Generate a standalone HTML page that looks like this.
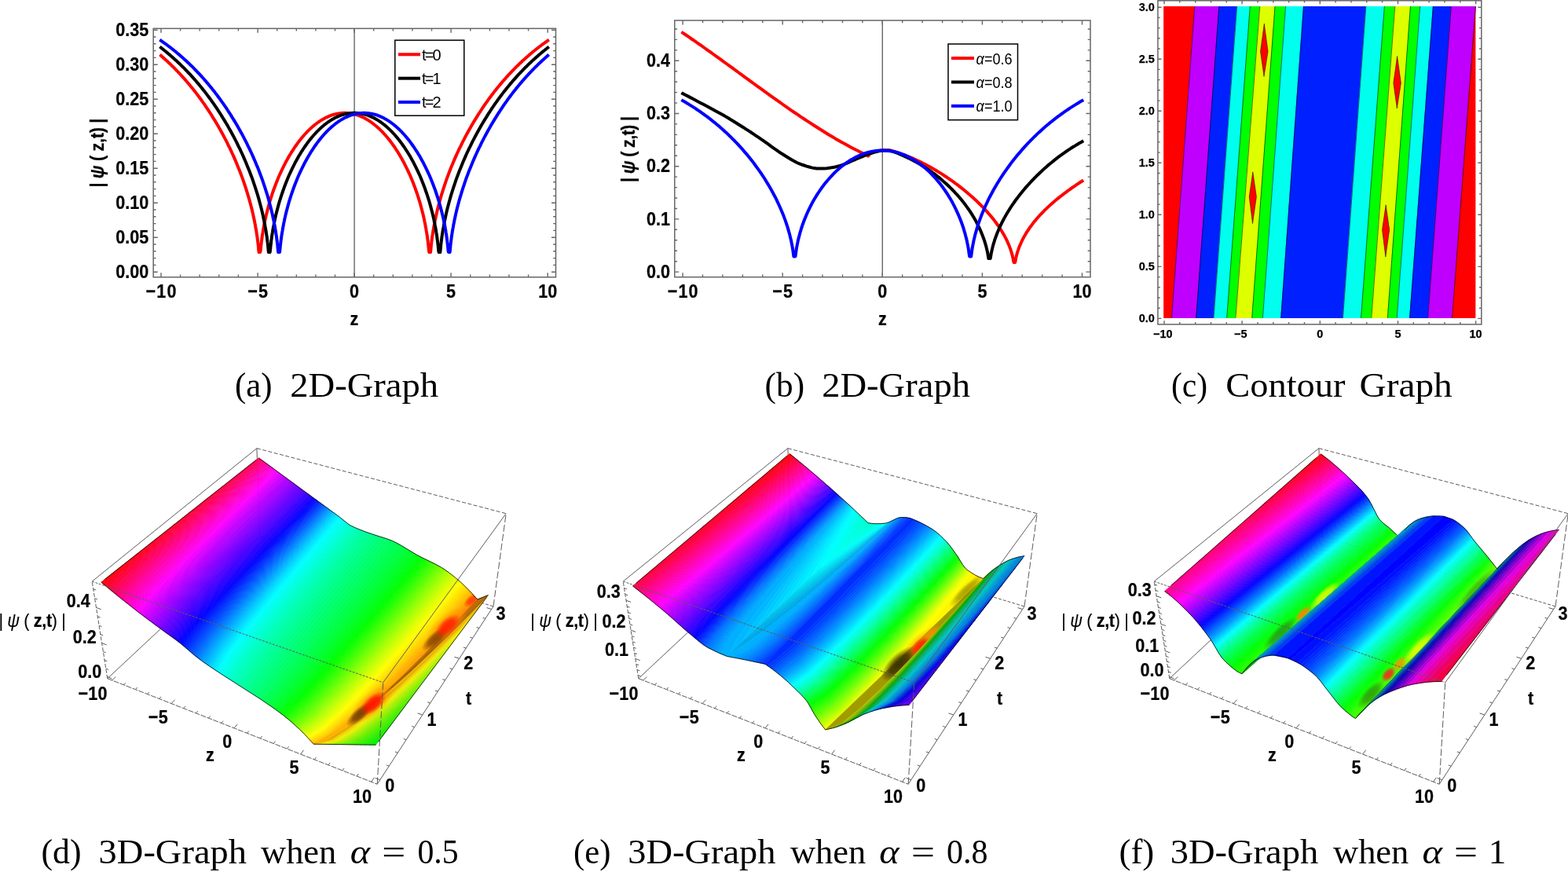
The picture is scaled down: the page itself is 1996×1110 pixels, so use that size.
<!DOCTYPE html>
<html><head><meta charset="utf-8"><title>Figure</title><style>html,body{margin:0;padding:0;background:#fff}svg{display:block}</style></head><body>
<svg width="1996" height="1110" viewBox="0 0 1996 1110">
<style>.e{stroke:#000;stroke-width:.8;fill:none}</style>
<defs><clipPath id="cpd1"><path d="M128.8,741.1L152.4,760.5L175.9,779L199.5,796.7L229.9,819L247,833.6L257.3,841.5L284.5,859.8L332.6,890.6L350.1,902.6L360.6,910.4L371.1,919L381.7,928.8L388.7,935.8L399.3,947.2L408.5,945.3L414.6,942.3L420.1,939.1L430,932.4L443.7,922L460.5,908.2L476.1,894.5L494.5,877.6L515.1,857.9L537.7,835.6L558.8,814.3L607.7,763L597.2,751.5L586.6,741.2L575.8,732.2L565,724.3L554,718L532,707.2L510.4,694.2L499.6,688.6L492.4,685.8L478,681.3L463.7,676.4L453.2,672.2L446.1,668.9L442.7,666.6L432.3,658.2L329.4,582.9L132.9,737.8ZM399.3,947.2L478.5,948.2L621.5,757.6L607.7,763L567.5,805.3L531.4,841.9L498,874.3L468.4,901.3L452.2,915.1L434.7,928.9L420.1,939.1L414.6,942.3L408.5,945.3Z"/></clipPath><radialGradient id="bl0"><stop offset="0" stop-color="#ff8a00" stop-opacity="0.7"/><stop offset=".5" stop-color="#ff8a00" stop-opacity="0.59"/><stop offset="1" stop-color="#ff8a00" stop-opacity="0"/></radialGradient><radialGradient id="bl1"><stop offset="0" stop-color="#5a2a00" stop-opacity="0.8"/><stop offset=".5" stop-color="#5a2a00" stop-opacity="0.68"/><stop offset="1" stop-color="#5a2a00" stop-opacity="0"/></radialGradient><radialGradient id="bl2"><stop offset="0" stop-color="#ff1000" stop-opacity="0.95"/><stop offset=".5" stop-color="#ff1000" stop-opacity="0.81"/><stop offset="1" stop-color="#ff1000" stop-opacity="0"/></radialGradient><radialGradient id="bl3"><stop offset="0" stop-color="#6a3000" stop-opacity="0.75"/><stop offset=".5" stop-color="#6a3000" stop-opacity="0.64"/><stop offset="1" stop-color="#6a3000" stop-opacity="0"/></radialGradient><radialGradient id="bl4"><stop offset="0" stop-color="#ff2000" stop-opacity="0.95"/><stop offset=".5" stop-color="#ff2000" stop-opacity="0.81"/><stop offset="1" stop-color="#ff2000" stop-opacity="0"/></radialGradient><radialGradient id="bl5"><stop offset="0" stop-color="#ff3000" stop-opacity="0.8"/><stop offset=".5" stop-color="#ff3000" stop-opacity="0.68"/><stop offset="1" stop-color="#ff3000" stop-opacity="0"/></radialGradient><clipPath id="cpe2"><path d="M974,845.3L985.5,853.5L998,863.6L1007.7,872.4L1022.3,886.8L1028.2,894.1L1038,911.2L1044.8,921.2L1050.6,928.9L1060.1,927L1065.9,923.8L1075.9,916.8L1093.5,902.3L1113.2,884.1L1135.1,862.7L1161.9,835.2L1189.6,805.6L1220.7,771.4L1251.7,736.5L1246.8,734.7L1240.7,731.6L1232.3,726.2L1228.8,723.3L1225.4,718.8L1218.8,708L1209.7,695.3L1206.3,691.1L1198.1,682.8L1189.9,675.8L1181.5,670.5L1170.8,664.8L1158.8,659.7L1091.3,730L1037.9,784.8L998.9,823.6L987.4,834.6L979.1,841.9Z"/></clipPath><radialGradient id="bl6"><stop offset="0" stop-color="#ff9a00" stop-opacity="0.7"/><stop offset=".5" stop-color="#ff9a00" stop-opacity="0.59"/><stop offset="1" stop-color="#ff9a00" stop-opacity="0"/></radialGradient><radialGradient id="bl7"><stop offset="0" stop-color="#2a2000" stop-opacity="0.85"/><stop offset=".5" stop-color="#2a2000" stop-opacity="0.72"/><stop offset="1" stop-color="#2a2000" stop-opacity="0"/></radialGradient><radialGradient id="bl8"><stop offset="0" stop-color="#ff8a00" stop-opacity="0.8"/><stop offset=".5" stop-color="#ff8a00" stop-opacity="0.68"/><stop offset="1" stop-color="#ff8a00" stop-opacity="0"/></radialGradient><radialGradient id="bl9"><stop offset="0" stop-color="#6a6a00" stop-opacity="0.55"/><stop offset=".5" stop-color="#6a6a00" stop-opacity="0.47"/><stop offset="1" stop-color="#6a6a00" stop-opacity="0"/></radialGradient><clipPath id="cpf0"><path d="M1482.5,752.6L1490.9,759L1500.6,767.6L1514.3,781.1L1523.1,790.8L1530.8,800.2L1539.9,812.3L1552,832.3L1554.6,836.3L1557.2,839.4L1564.5,846.4L1570.5,851.5L1576.4,855.6L1581,857.8L1780.7,683.4L1769.4,672.9L1760.6,665.8L1756.9,662.2L1753.1,656.6L1745.6,641.7L1741.8,635.1L1736.8,628.5L1730.4,621.4L1717.8,608.9L1703.9,596.1L1692.5,586.4L1681.2,577.8L1490.8,745.3Z"/></clipPath><radialGradient id="bl10"><stop offset="0" stop-color="#2a5a2a" stop-opacity="0.55"/><stop offset=".5" stop-color="#2a5a2a" stop-opacity="0.47"/><stop offset="1" stop-color="#2a5a2a" stop-opacity="0"/></radialGradient><radialGradient id="bl11"><stop offset="0" stop-color="#ff8000" stop-opacity="0.9"/><stop offset=".5" stop-color="#ff8000" stop-opacity="0.77"/><stop offset="1" stop-color="#ff8000" stop-opacity="0"/></radialGradient><radialGradient id="bl12"><stop offset="0" stop-color="#f0ff00" stop-opacity="0.85"/><stop offset=".5" stop-color="#f0ff00" stop-opacity="0.72"/><stop offset="1" stop-color="#f0ff00" stop-opacity="0"/></radialGradient><clipPath id="cpf2"><path d="M1639,837.7L1649.7,842.4L1656.1,845.9L1664.8,851.9L1673.6,858.9L1676.9,862.2L1680.2,866.1L1700.3,892L1705.8,898.5L1716.8,908.4L1721.1,911.8L1725.5,914.6L1905.9,724.3L1893.3,708.4L1876.3,688L1868.7,677.6L1865.3,673.4L1857.5,666.6L1851.3,662.3L1846.9,660.1L1837.9,657.3L1647.3,830.2Z"/></clipPath><radialGradient id="bl13"><stop offset="0" stop-color="#2a6a10" stop-opacity="0.6"/><stop offset=".5" stop-color="#2a6a10" stop-opacity="0.51"/><stop offset="1" stop-color="#2a6a10" stop-opacity="0"/></radialGradient><radialGradient id="bl14"><stop offset="0" stop-color="#ff2020" stop-opacity="0.9"/><stop offset=".5" stop-color="#ff2020" stop-opacity="0.77"/><stop offset="1" stop-color="#ff2020" stop-opacity="0"/></radialGradient><radialGradient id="bl15"><stop offset="0" stop-color="#ff9000" stop-opacity="0.85"/><stop offset=".5" stop-color="#ff9000" stop-opacity="0.72"/><stop offset="1" stop-color="#ff9000" stop-opacity="0"/></radialGradient><radialGradient id="bl16"><stop offset="0" stop-color="#1a7a10" stop-opacity="0.5"/><stop offset=".5" stop-color="#1a7a10" stop-opacity="0.42"/><stop offset="1" stop-color="#1a7a10" stop-opacity="0"/></radialGradient></defs>
<rect width="1996" height="1110" fill="#fff"/>
<rect x="195.2" y="36.3" width="512.3" height="316.5" fill="#fff"/>
<path d="M451.1,36.3V352.8" stroke="#666" stroke-width="1.4"/>
<path d="M205,70.9L206.5,72.3L208.1,73.6L209.6,75L211.2,76.4L212.7,77.8L214.2,79.2L215.8,80.7L217.3,82.2L218.8,83.7L220.4,85.2L221.9,86.7L223.5,88.3L225,89.9L226.5,91.5L228.1,93.1L229.6,94.7L231.1,96.4L232.7,98.1L234.2,99.8L235.8,101.6L237.3,103.3L238.8,105.1L240.4,106.9L241.9,108.8L243.5,110.7L245,112.6L246.5,114.5L248.1,116.4L249.6,118.4L251.1,120.4L252.7,122.5L254.2,124.5L255.8,126.6L257.3,128.8L258.8,130.9L260.4,133.2L261.9,135.4L263.4,137.7L265,140L266.5,142.3L268.1,144.7L269.6,147.1L271.1,149.6L272.7,152.1L274.2,154.6L275.8,157.2L277.3,159.8L278.8,162.5L280.4,165.2L281.9,168L283.4,170.8L285,173.7L286.5,176.6L288.1,179.6L289.6,182.6L291.1,185.8L292.7,188.9L294.2,192.2L295.7,195.5L297.3,198.9L298.8,202.4L300.4,206L301.9,209.7L303.4,213.4L305,217.3L306.5,221.3L308.1,225.4L309.6,229.7L311.1,234.1L312.7,238.8L314.2,243.6L315.7,248.6L317.3,253.9L318.8,259.5L320.4,265.5L321.9,271.9L323.1,277.5L323.4,279L323.5,279.2L323.9,281.1L324.2,282.9L324.6,284.8L325,286.8L325.3,288.8L325.7,290.9L326.1,293.1L326.5,295.4L326.5,295.8L326.8,297.8L327.2,300.3L327.6,302.9L327.9,305.8L328.1,306.7L328.3,308.8L328.7,312.1L329,315.7L329.4,319.8L329.6,321.1L329.8,321.1L330.1,321.1L330.5,321.1L330.9,321.1L331.1,321.1L331.2,321.1L331.6,319.6L332,315.5L332.4,311.9L332.7,309.2L332.7,308.7L333.1,305.7L333.5,302.9L333.8,300.3L334.2,297.9L334.6,295.5L334.9,293.3L335.3,291.2L335.7,289.1L335.7,288.8L336,287.1L336.4,285.2L336.8,283.4L337.2,281.6L337.3,281L337.5,279.8L337.9,278.1L338.8,274.1L340.4,267.8L341.9,262.1L343.4,256.7L345,251.7L346.5,247L348,242.5L349.6,238.2L351.1,234.2L352.7,230.3L354.2,226.6L355.7,223L357.3,219.6L358.8,216.3L360.4,213.1L361.9,210.1L363.4,207.1L365,204.3L366.5,201.5L368,198.8L369.6,196.2L371.1,193.7L372.7,191.3L374.2,189L375.7,186.7L377.3,184.5L378.8,182.4L380.3,180.3L381.9,178.3L383.4,176.4L385,174.5L386.5,172.7L388,171L389.6,169.3L391.1,167.7L392.7,166.1L394.2,164.6L395.7,163.2L397.3,161.8L398.8,160.5L400.3,159.2L401.9,158L403.4,156.8L405,155.7L406.5,154.6L408,153.6L409.6,152.6L411.1,151.7L412.6,150.9L414.2,150L415.7,149.3L417.3,148.6L418.8,147.9L420.3,147.3L421.9,146.7L423.4,146.2L425,145.8L426.5,145.4L428,145L429.6,144.7L431.1,144.4L432.6,144.2L434.2,144L435.7,143.9L437.3,143.8L438.8,143.8L440.3,143.8L441.9,143.9L443.4,144L444.9,144.2L446.5,144.4L448,144.7L449.6,145L451.1,145.4L452.6,145.8L454.2,146.2L455.7,146.7L457.3,147.3L458.8,147.9L460.3,148.6L461.9,149.3L463.4,150L464.9,150.9L466.5,151.7L468,152.6L469.6,153.6L471.1,154.6L472.6,155.7L474.2,156.8L475.7,158L477.2,159.2L478.8,160.5L480.3,161.8L481.9,163.2L483.4,164.6L484.9,166.1L486.5,167.7L488,169.3L489.6,171L491.1,172.7L492.6,174.5L494.2,176.4L495.7,178.3L497.2,180.3L498.8,182.4L500.3,184.5L501.9,186.7L503.4,189L504.9,191.3L506.5,193.7L508,196.2L509.5,198.8L511.1,201.5L512.6,204.3L514.2,207.1L515.7,210.1L517.2,213.1L518.8,216.3L520.3,219.6L521.9,223L523.4,226.6L524.9,230.3L526.5,234.2L528,238.2L529.5,242.5L531.1,247L532.6,251.7L534.2,256.7L535.7,262.1L537.2,267.8L538.8,274.1L539.7,278.1L540.1,279.8L540.3,281L540.4,281.6L540.8,283.4L541.2,285.2L541.5,287.1L541.8,288.8L541.9,289.1L542.3,291.2L542.6,293.3L543,295.5L543.4,297.9L543.4,297.9L543.8,300.3L544.1,302.9L544.5,305.7L544.9,308.7L544.9,309.2L545.2,311.9L545.6,315.5L546,319.6L546.3,321.1L546.5,321.1L546.7,321.1L547.1,321.1L547.4,321.1L547.8,321.1L548,321.1L548.2,319.8L548.6,315.7L548.9,312.1L549.3,308.8L549.5,306.7L549.7,305.8L550,302.9L550.4,300.3L550.8,297.8L551.1,295.8L551.1,295.4L551.5,293.1L551.9,290.9L552.2,288.8L552.6,286.8L553,284.8L553.4,282.9L553.7,281.1L554.1,279.2L554.2,279L554.5,277.5L555.7,271.9L557.2,265.5L558.8,259.5L560.3,253.9L561.8,248.6L563.4,243.6L564.9,238.8L566.5,234.1L568,229.7L569.5,225.4L571.1,221.3L572.6,217.3L574.1,213.4L575.7,209.7L577.2,206L578.8,202.4L580.3,198.9L581.8,195.5L583.4,192.2L584.9,188.9L586.5,185.8L588,182.6L589.5,179.6L591.1,176.6L592.6,173.7L594.1,170.8L595.7,168L597.2,165.2L598.8,162.5L600.3,159.8L601.8,157.2L603.4,154.6L604.9,152.1L606.5,149.6L608,147.1L609.5,144.7L611.1,142.3L612.6,140L614.1,137.7L615.7,135.4L617.2,133.2L618.8,130.9L620.3,128.8L621.8,126.6L623.4,124.5L624.9,122.5L626.4,120.4L628,118.4L629.5,116.4L631.1,114.5L632.6,112.6L634.1,110.7L635.7,108.8L637.2,106.9L638.8,105.1L640.3,103.3L641.8,101.6L643.4,99.8L644.9,98.1L646.4,96.4L648,94.7L649.5,93.1L651.1,91.5L652.6,89.9L654.1,88.3L655.7,86.7L657.2,85.2L658.7,83.7L660.3,82.2L661.8,80.7L663.4,79.2L664.9,77.8L666.4,76.4L668,75L669.5,73.6L671.1,72.3L672.6,70.9L674.1,69.6L675.7,68.3L677.2,67L678.7,65.7L680.3,64.5L681.8,63.3L683.4,62L684.9,60.8L686.4,59.7L688,58.5L689.5,57.3L691,56.2L692.6,55.1L694.1,54L695.7,52.9L697.2,51.8" stroke="#f00" stroke-width="4" fill="none" stroke-linejoin="round" stroke-linecap="square"/>
<path d="M205,60.8L206.5,62L208.1,63.3L209.6,64.5L211.2,65.7L212.7,67L214.2,68.3L215.8,69.6L217.3,70.9L218.8,72.3L220.4,73.6L221.9,75L223.5,76.4L225,77.8L226.5,79.2L228.1,80.7L229.6,82.2L231.1,83.7L232.7,85.2L234.2,86.7L235.8,88.3L237.3,89.9L238.8,91.5L240.4,93.1L241.9,94.7L243.5,96.4L245,98.1L246.5,99.8L248.1,101.6L249.6,103.3L251.1,105.1L252.7,106.9L254.2,108.8L255.8,110.7L257.3,112.6L258.8,114.5L260.4,116.4L261.9,118.4L263.4,120.4L265,122.5L266.5,124.5L268.1,126.6L269.6,128.8L271.1,130.9L272.7,133.2L274.2,135.4L275.8,137.7L277.3,140L278.8,142.3L280.4,144.7L281.9,147.1L283.4,149.6L285,152.1L286.5,154.6L288.1,157.2L289.6,159.8L291.1,162.5L292.7,165.2L294.2,168L295.7,170.8L297.3,173.7L298.8,176.6L300.4,179.6L301.9,182.6L303.4,185.8L305,188.9L306.5,192.2L308.1,195.5L309.6,198.9L311.1,202.4L312.7,206L314.2,209.7L315.7,213.4L317.3,217.3L318.8,221.3L320.4,225.4L321.9,229.7L323.4,234.1L325,238.8L326.5,243.6L328.1,248.6L329.6,253.9L331.1,259.5L332.7,265.5L334.2,271.9L335.4,277.5L335.7,279L335.8,279.2L336.2,281.1L336.5,282.9L336.9,284.8L337.3,286.8L337.6,288.8L338,290.9L338.4,293.1L338.8,295.4L338.8,295.8L339.1,297.8L339.5,300.3L339.9,302.9L340.2,305.8L340.4,306.7L340.6,308.8L341,312.1L341.3,315.7L341.7,319.8L341.9,321.1L342.1,321.1L342.4,321.1L342.8,321.1L343.2,321.1L343.4,321.1L343.6,321.1L343.9,319.6L344.3,315.5L344.7,311.9L345,309.2L345,308.7L345.4,305.7L345.8,302.9L346.1,300.3L346.5,297.9L346.9,295.5L347.2,293.3L347.6,291.2L348,289.1L348,288.8L348.4,287.1L348.7,285.2L349.1,283.4L349.5,281.6L349.6,281L349.8,279.8L350.2,278.1L351.1,274.1L352.7,267.8L354.2,262.1L355.7,256.7L357.3,251.7L358.8,247L360.4,242.5L361.9,238.2L363.4,234.2L365,230.3L366.5,226.6L368,223L369.6,219.6L371.1,216.3L372.7,213.1L374.2,210.1L375.7,207.1L377.3,204.3L378.8,201.5L380.3,198.8L381.9,196.2L383.4,193.7L385,191.3L386.5,189L388,186.7L389.6,184.5L391.1,182.4L392.7,180.3L394.2,178.3L395.7,176.4L397.3,174.5L398.8,172.7L400.3,171L401.9,169.3L403.4,167.7L405,166.1L406.5,164.6L408,163.2L409.6,161.8L411.1,160.5L412.6,159.2L414.2,158L415.7,156.8L417.3,155.7L418.8,154.6L420.3,153.6L421.9,152.6L423.4,151.7L425,150.9L426.5,150L428,149.3L429.6,148.6L431.1,147.9L432.6,147.3L434.2,146.7L435.7,146.2L437.3,145.8L438.8,145.4L440.3,145L441.9,144.7L443.4,144.4L444.9,144.2L446.5,144L448,143.9L449.6,143.8L451.1,143.8L452.6,143.8L454.2,143.9L455.7,144L457.3,144.2L458.8,144.4L460.3,144.7L461.9,145L463.4,145.4L464.9,145.8L466.5,146.2L468,146.7L469.6,147.3L471.1,147.9L472.6,148.6L474.2,149.3L475.7,150L477.2,150.9L478.8,151.7L480.3,152.6L481.9,153.6L483.4,154.6L484.9,155.7L486.5,156.8L488,158L489.6,159.2L491.1,160.5L492.6,161.8L494.2,163.2L495.7,164.6L497.2,166.1L498.8,167.7L500.3,169.3L501.9,171L503.4,172.7L504.9,174.5L506.5,176.4L508,178.3L509.5,180.3L511.1,182.4L512.6,184.5L514.2,186.7L515.7,189L517.2,191.3L518.8,193.7L520.3,196.2L521.9,198.8L523.4,201.5L524.9,204.3L526.5,207.1L528,210.1L529.5,213.1L531.1,216.3L532.6,219.6L534.2,223L535.7,226.6L537.2,230.3L538.8,234.2L540.3,238.2L541.8,242.5L543.4,247L544.9,251.7L546.5,256.7L548,262.1L549.5,267.8L551.1,274.1L552,278.1L552.4,279.8L552.6,281L552.7,281.6L553.1,283.4L553.5,285.2L553.8,287.1L554.2,288.8L554.2,289.1L554.6,291.2L555,293.3L555.3,295.5L555.7,297.9L556.1,300.3L556.4,302.9L556.8,305.7L557.2,308.7L557.2,309.2L557.5,311.9L557.9,315.5L558.3,319.6L558.6,321.1L558.8,321.1L559,321.1L559.4,321.1L559.8,321.1L560.1,321.1L560.3,321.1L560.5,319.8L560.9,315.7L561.2,312.1L561.6,308.8L561.8,306.7L562,305.8L562.3,302.9L562.7,300.3L563.1,297.8L563.4,295.8L563.4,295.4L563.8,293.1L564.2,290.9L564.6,288.8L564.9,286.8L565.3,284.8L565.7,282.9L566,281.1L566.4,279.2L566.5,279L566.8,277.5L568,271.9L569.5,265.5L571.1,259.5L572.6,253.9L574.1,248.6L575.7,243.6L577.2,238.8L578.8,234.1L580.3,229.7L581.8,225.4L583.4,221.3L584.9,217.3L586.5,213.4L588,209.7L589.5,206L591.1,202.4L592.6,198.9L594.1,195.5L595.7,192.2L597.2,188.9L598.8,185.8L600.3,182.6L601.8,179.6L603.4,176.6L604.9,173.7L606.5,170.8L608,168L609.5,165.2L611.1,162.5L612.6,159.8L614.1,157.2L615.7,154.6L617.2,152.1L618.8,149.6L620.3,147.1L621.8,144.7L623.4,142.3L624.9,140L626.4,137.7L628,135.4L629.5,133.2L631.1,130.9L632.6,128.8L634.1,126.6L635.7,124.5L637.2,122.5L638.8,120.4L640.3,118.4L641.8,116.4L643.4,114.5L644.9,112.6L646.4,110.7L648,108.8L649.5,106.9L651.1,105.1L652.6,103.3L654.1,101.6L655.7,99.8L657.2,98.1L658.7,96.4L660.3,94.7L661.8,93.1L663.4,91.5L664.9,89.9L666.4,88.3L668,86.7L669.5,85.2L671.1,83.7L672.6,82.2L674.1,80.7L675.7,79.2L677.2,77.8L678.7,76.4L680.3,75L681.8,73.6L683.4,72.3L684.9,70.9L686.4,69.6L688,68.3L689.5,67L691,65.7L692.6,64.5L694.1,63.3L695.7,62L697.2,60.8" stroke="#000" stroke-width="4" fill="none" stroke-linejoin="round" stroke-linecap="square"/>
<path d="M205,51.8L206.5,52.9L208.1,54L209.6,55.1L211.2,56.2L212.7,57.3L214.2,58.5L215.8,59.7L217.3,60.8L218.8,62L220.4,63.3L221.9,64.5L223.5,65.7L225,67L226.5,68.3L228.1,69.6L229.6,70.9L231.1,72.3L232.7,73.6L234.2,75L235.8,76.4L237.3,77.8L238.8,79.2L240.4,80.7L241.9,82.2L243.5,83.7L245,85.2L246.5,86.7L248.1,88.3L249.6,89.9L251.1,91.5L252.7,93.1L254.2,94.7L255.8,96.4L257.3,98.1L258.8,99.8L260.4,101.6L261.9,103.3L263.4,105.1L265,106.9L266.5,108.8L268.1,110.7L269.6,112.6L271.1,114.5L272.7,116.4L274.2,118.4L275.8,120.4L277.3,122.5L278.8,124.5L280.4,126.6L281.9,128.8L283.4,130.9L285,133.2L286.5,135.4L288.1,137.7L289.6,140L291.1,142.3L292.7,144.7L294.2,147.1L295.7,149.6L297.3,152.1L298.8,154.6L300.4,157.2L301.9,159.8L303.4,162.5L305,165.2L306.5,168L308.1,170.8L309.6,173.7L311.1,176.6L312.7,179.6L314.2,182.6L315.7,185.8L317.3,188.9L318.8,192.2L320.4,195.5L321.9,198.9L323.4,202.4L325,206L326.5,209.7L328.1,213.4L329.6,217.3L331.1,221.3L332.7,225.4L334.2,229.7L335.7,234.1L337.3,238.8L338.8,243.6L340.4,248.6L341.9,253.9L343.4,259.5L345,265.5L346.5,271.9L347.7,277.5L348,279L348.1,279.2L348.5,281.1L348.8,282.9L349.2,284.8L349.6,286.8L350,288.8L350.3,290.9L350.7,293.1L351.1,295.4L351.1,295.8L351.4,297.8L351.8,300.3L352.2,302.9L352.5,305.8L352.7,306.7L352.9,308.8L353.3,312.1L353.6,315.7L354,319.8L354.2,321.1L354.4,321.1L354.8,321.1L355.1,321.1L355.5,321.1L355.7,321.1L355.9,321.1L356.2,319.6L356.6,315.5L357,311.9L357.3,309.2L357.3,308.7L357.7,305.7L358.1,302.9L358.4,300.3L358.8,297.9L358.8,297.9L359.2,295.5L359.6,293.3L359.9,291.2L360.3,289.1L360.4,288.8L360.7,287.1L361,285.2L361.4,283.4L361.8,281.6L361.9,281L362.1,279.8L362.5,278.1L363.4,274.1L365,267.8L366.5,262.1L368,256.7L369.6,251.7L371.1,247L372.7,242.5L374.2,238.2L375.7,234.2L377.3,230.3L378.8,226.6L380.3,223L381.9,219.6L383.4,216.3L385,213.1L386.5,210.1L388,207.1L389.6,204.3L391.1,201.5L392.7,198.8L394.2,196.2L395.7,193.7L397.3,191.3L398.8,189L400.3,186.7L401.9,184.5L403.4,182.4L405,180.3L406.5,178.3L408,176.4L409.6,174.5L411.1,172.7L412.6,171L414.2,169.3L415.7,167.7L417.3,166.1L418.8,164.6L420.3,163.2L421.9,161.8L423.4,160.5L425,159.2L426.5,158L428,156.8L429.6,155.7L431.1,154.6L432.6,153.6L434.2,152.6L435.7,151.7L437.3,150.9L438.8,150L440.3,149.3L441.9,148.6L443.4,147.9L444.9,147.3L446.5,146.7L448,146.2L449.6,145.8L451.1,145.4L452.6,145L454.2,144.7L455.7,144.4L457.3,144.2L458.8,144L460.3,143.9L461.9,143.8L463.4,143.8L464.9,143.8L466.5,143.9L468,144L469.6,144.2L471.1,144.4L472.6,144.7L474.2,145L475.7,145.4L477.2,145.8L478.8,146.2L480.3,146.7L481.9,147.3L483.4,147.9L484.9,148.6L486.5,149.3L488,150L489.6,150.9L491.1,151.7L492.6,152.6L494.2,153.6L495.7,154.6L497.2,155.7L498.8,156.8L500.3,158L501.9,159.2L503.4,160.5L504.9,161.8L506.5,163.2L508,164.6L509.5,166.1L511.1,167.7L512.6,169.3L514.2,171L515.7,172.7L517.2,174.5L518.8,176.4L520.3,178.3L521.9,180.3L523.4,182.4L524.9,184.5L526.5,186.7L528,189L529.5,191.3L531.1,193.7L532.6,196.2L534.2,198.8L535.7,201.5L537.2,204.3L538.8,207.1L540.3,210.1L541.8,213.1L543.4,216.3L544.9,219.6L546.5,223L548,226.6L549.5,230.3L551.1,234.2L552.6,238.2L554.2,242.5L555.7,247L557.2,251.7L558.8,256.7L560.3,262.1L561.8,267.8L563.4,274.1L564.3,278.1L564.7,279.8L564.9,281L565,281.6L565.4,283.4L565.8,285.2L566.2,287.1L566.5,288.8L566.5,289.1L566.9,291.2L567.3,293.3L567.6,295.5L568,297.9L568.4,300.3L568.7,302.9L569.1,305.7L569.5,308.7L569.5,309.2L569.8,311.9L570.2,315.5L570.6,319.6L571,321.1L571.1,321.1L571.3,321.1L571.7,321.1L572.1,321.1L572.4,321.1L572.6,321.1L572.8,319.8L573.2,315.7L573.5,312.1L573.9,308.8L574.1,306.7L574.3,305.8L574.6,302.9L575,300.3L575.4,297.8L575.7,295.8L575.7,295.4L576.1,293.1L576.5,290.9L576.9,288.8L577.2,286.8L577.6,284.8L578,282.9L578.3,281.1L578.7,279.2L578.8,279L579.1,277.5L580.3,271.9L581.8,265.5L583.4,259.5L584.9,253.9L586.5,248.6L588,243.6L589.5,238.8L591.1,234.1L592.6,229.7L594.1,225.4L595.7,221.3L597.2,217.3L598.8,213.4L600.3,209.7L601.8,206L603.4,202.4L604.9,198.9L606.5,195.5L608,192.2L609.5,188.9L611.1,185.8L612.6,182.6L614.1,179.6L615.7,176.6L617.2,173.7L618.8,170.8L620.3,168L621.8,165.2L623.4,162.5L624.9,159.8L626.4,157.2L628,154.6L629.5,152.1L631.1,149.6L632.6,147.1L634.1,144.7L635.7,142.3L637.2,140L638.8,137.7L640.3,135.4L641.8,133.2L643.4,130.9L644.9,128.8L646.4,126.6L648,124.5L649.5,122.5L651.1,120.4L652.6,118.4L654.1,116.4L655.7,114.5L657.2,112.6L658.7,110.7L660.3,108.8L661.8,106.9L663.4,105.1L664.9,103.3L666.4,101.6L668,99.8L669.5,98.1L671.1,96.4L672.6,94.7L674.1,93.1L675.7,91.5L677.2,89.9L678.7,88.3L680.3,86.7L681.8,85.2L683.4,83.7L684.9,82.2L686.4,80.7L688,79.2L689.5,77.8L691,76.4L692.6,75L694.1,73.6L695.7,72.3L697.2,70.9" stroke="#00f" stroke-width="4" fill="none" stroke-linejoin="round" stroke-linecap="square"/>
<path d="M205,352.8v-5.5M205,36.3v5.5M328.1,352.8v-5.5M328.1,36.3v5.5M451.1,352.8v-5.5M451.1,36.3v5.5M574.1,352.8v-5.5M574.1,36.3v5.5M697.2,352.8v-5.5M697.2,36.3v5.5M229.6,352.8v-3.3M229.6,36.3v3.3M254.2,352.8v-3.3M254.2,36.3v3.3M278.8,352.8v-3.3M278.8,36.3v3.3M303.4,352.8v-3.3M303.4,36.3v3.3M352.7,352.8v-3.3M352.7,36.3v3.3M377.3,352.8v-3.3M377.3,36.3v3.3M401.9,352.8v-3.3M401.9,36.3v3.3M426.5,352.8v-3.3M426.5,36.3v3.3M475.7,352.8v-3.3M475.7,36.3v3.3M500.3,352.8v-3.3M500.3,36.3v3.3M524.9,352.8v-3.3M524.9,36.3v3.3M549.5,352.8v-3.3M549.5,36.3v3.3M598.8,352.8v-3.3M598.8,36.3v3.3M623.4,352.8v-3.3M623.4,36.3v3.3M648,352.8v-3.3M648,36.3v3.3M672.6,352.8v-3.3M672.6,36.3v3.3M195.2,346.2h5.5M707.5,346.2h-5.5M195.2,302.2h5.5M707.5,302.2h-5.5M195.2,258.2h5.5M707.5,258.2h-5.5M195.2,214.2h5.5M707.5,214.2h-5.5M195.2,170.2h5.5M707.5,170.2h-5.5M195.2,126.2h5.5M707.5,126.2h-5.5M195.2,82.2h5.5M707.5,82.2h-5.5M195.2,38.2h5.5M707.5,38.2h-5.5M195.2,337.4h3.3M707.5,337.4h-3.3M195.2,328.6h3.3M707.5,328.6h-3.3M195.2,319.8h3.3M707.5,319.8h-3.3M195.2,311h3.3M707.5,311h-3.3M195.2,293.4h3.3M707.5,293.4h-3.3M195.2,284.6h3.3M707.5,284.6h-3.3M195.2,275.8h3.3M707.5,275.8h-3.3M195.2,267h3.3M707.5,267h-3.3M195.2,249.4h3.3M707.5,249.4h-3.3M195.2,240.6h3.3M707.5,240.6h-3.3M195.2,231.8h3.3M707.5,231.8h-3.3M195.2,223h3.3M707.5,223h-3.3M195.2,205.4h3.3M707.5,205.4h-3.3M195.2,196.6h3.3M707.5,196.6h-3.3M195.2,187.8h3.3M707.5,187.8h-3.3M195.2,179h3.3M707.5,179h-3.3M195.2,161.4h3.3M707.5,161.4h-3.3M195.2,152.6h3.3M707.5,152.6h-3.3M195.2,143.8h3.3M707.5,143.8h-3.3M195.2,135h3.3M707.5,135h-3.3M195.2,117.4h3.3M707.5,117.4h-3.3M195.2,108.6h3.3M707.5,108.6h-3.3M195.2,99.8h3.3M707.5,99.8h-3.3M195.2,91h3.3M707.5,91h-3.3M195.2,73.4h3.3M707.5,73.4h-3.3M195.2,64.6h3.3M707.5,64.6h-3.3M195.2,55.8h3.3M707.5,55.8h-3.3M195.2,47h3.3M707.5,47h-3.3" stroke="#666" stroke-width="1.4" fill="none"/>
<rect x="195.2" y="36.3" width="512.3" height="316.5" fill="none" stroke="#666" stroke-width="1.5"/>
<g font-family="Liberation Sans,sans-serif" font-weight="bold" font-size="24.7" stroke="#000" stroke-width="0.25"><text transform="translate(185.6,378.6) scale(0.876,1)" textLength="44.3" lengthAdjust="spacing">−10</text><text transform="translate(315.2,378.6) scale(0.876,1)" textLength="29.5" lengthAdjust="spacing">−5</text><text transform="translate(451.1,378.6) scale(0.876,1)" text-anchor="middle">0</text><text transform="translate(574.1,378.6) scale(0.876,1)" text-anchor="middle">5</text><text transform="translate(697.2,378.6) scale(0.876,1)" text-anchor="middle">10</text><text transform="translate(189.4,353.6) scale(0.876,1)" text-anchor="end">0.00</text><text transform="translate(189.4,309.6) scale(0.876,1)" text-anchor="end">0.05</text><text transform="translate(189.4,265.6) scale(0.876,1)" text-anchor="end">0.10</text><text transform="translate(189.4,221.6) scale(0.876,1)" text-anchor="end">0.15</text><text transform="translate(189.4,177.6) scale(0.876,1)" text-anchor="end">0.20</text><text transform="translate(189.4,133.6) scale(0.876,1)" text-anchor="end">0.25</text><text transform="translate(189.4,89.6) scale(0.876,1)" text-anchor="end">0.30</text><text transform="translate(189.4,45.6) scale(0.876,1)" text-anchor="end">0.35</text><text transform="translate(451,414) scale(0.876,1)" text-anchor="middle">z</text><text transform="translate(131.8,194.6) rotate(-90) scale(0.876,1)" text-anchor="middle" textLength="100.5" lengthAdjust="spacing" xml:space="preserve">| <tspan font-style="italic">ψ</tspan> ( z,t) |</text></g>
<rect x="502.8" y="51.2" width="88" height="96" fill="#fff" stroke="#000" stroke-width="1.5"/>
<path d="M507,69.3h28" stroke="#f00" stroke-width="4"/>
<path d="M507,99.7h28" stroke="#000" stroke-width="4"/>
<path d="M507,130h28" stroke="#00f" stroke-width="4"/>
<g font-family="Liberation Sans,sans-serif" font-size="20"><text x="537" y="76.5" textLength="24.6" lengthAdjust="spacing">t=0</text><text x="537" y="106.9" textLength="24.6" lengthAdjust="spacing">t=1</text><text x="537" y="137.2" textLength="24.6" lengthAdjust="spacing">t=2</text></g>
<path d="M1123.3,26.0V352.7" stroke="#666" stroke-width="1.4"/>
<path d="M869.1,41.8L873.1,44.5L877,47.2L881,50L885,52.7L888.9,55.5L892.9,58.2L896.8,61L900.8,63.9L904.8,66.7L908.7,69.5L912.7,72.4L916.7,75.2L920.6,78.1L924.6,81L928.6,83.8L932.5,86.7L936.5,89.6L940.4,92.5L944.4,95.4L948.4,98.3L952.3,101.2L956.3,104.1L960.3,107L964.2,109.8L968.2,112.7L972.2,115.6L976.1,118.4L980.1,121.3L984.1,124.1L988,126.9L992,129.7L995.9,132.5L999.9,135.3L1003.9,138.1L1007.8,140.8L1011.8,143.5L1015.8,146.2L1019.7,148.9L1023.7,151.5L1027.7,154.1L1031.6,156.7L1035.6,159.3L1039.5,161.8L1043.5,164.3L1047.5,166.8L1051.4,169.2L1055.4,171.7L1059.4,174L1063.3,176.4L1067.3,178.7L1071.3,180.9L1075.2,183.1L1079.2,185.3L1083.1,187.4L1087.1,189.5L1091.1,191.5L1095,193.5L1099,195.5L1103,197.4L1105,198.6L1108,195.2L1113.1,193.2L1118.2,191.9L1123.3,191.5L1124.9,191.5L1126.5,191.5L1128.1,191.5L1129.7,191.5L1131.2,191.5L1132.8,191.5L1134.4,191.8L1136,192.3L1137.6,192.7L1139.2,193.2L1140.8,193.7L1142.4,194.2L1144,194.7L1145.5,195.3L1147.1,195.8L1148.7,196.4L1150.3,197L1151.9,197.5L1153.5,198.2L1155.1,198.8L1156.7,199.4L1158.3,200.1L1159.8,200.7L1161.4,201.4L1163,202.1L1164.6,202.8L1166.2,203.6L1167.8,204.3L1169.4,205L1171,205.8L1172.6,206.6L1174.1,207.4L1175.7,208.2L1177.3,209L1178.9,209.8L1180.5,210.7L1182.1,211.5L1183.7,212.4L1185.3,213.3L1186.8,214.2L1188.4,215.1L1190,216.1L1191.6,217L1193.2,218L1194.8,218.9L1196.4,219.9L1198,220.9L1199.6,221.9L1201.1,222.9L1202.7,224L1204.3,225L1205.9,226.1L1207.5,227.2L1209.1,228.3L1210.7,229.4L1212.3,230.5L1213.9,231.7L1215.4,232.8L1217,234L1218.6,235.2L1220.2,236.4L1221.8,237.6L1223.4,238.9L1225,240.1L1226.6,241.4L1228.2,242.7L1229.7,244L1231.3,245.3L1232.9,246.7L1234.5,248L1236.1,249.4L1237.7,250.8L1239.3,252.3L1240.9,253.7L1242.5,255.2L1244,256.7L1245.6,258.3L1247.2,259.8L1248.8,261.4L1250.4,263L1252,264.7L1253.6,266.4L1255.2,268.1L1256.8,269.9L1258.3,271.7L1259.9,273.5L1261.5,275.4L1263.1,277.3L1264.7,279.3L1266.3,281.4L1267.9,283.5L1269.5,285.7L1271.1,287.9L1272.6,290.3L1274.2,292.7L1275.8,295.3L1277.4,298L1279,300.9L1280.6,303.9L1282.2,307.2L1283.7,310.6L1283.8,310.7L1284.1,311.5L1284.5,312.4L1284.8,313.4L1285.2,314.3L1285.4,314.7L1285.6,315.4L1286,316.4L1286.4,317.5L1286.8,318.6L1286.9,319.2L1287.1,319.8L1287.5,321L1287.9,322.3L1288.3,323.7L1288.5,324.6L1288.7,325.1L1289,326.7L1289.4,328.4L1289.8,330.2L1290.1,332L1290.2,332.4L1290.6,334L1290.9,334L1291.3,334L1291.7,334L1292.1,334L1292.5,332.4L1292.9,330.3L1293.2,328.4L1293.3,328.1L1293.6,326.7L1294,325.2L1294.4,323.7L1294.8,322.4L1294.9,321.9L1295.1,321.1L1295.5,319.9L1295.9,318.7L1296.3,317.6L1296.5,317L1296.7,316.5L1297,315.5L1297.4,314.5L1297.8,313.5L1298.1,312.9L1298.2,312.6L1298.6,311.7L1299,310.8L1299.7,309.2L1301.2,305.9L1302.8,302.8L1304.4,299.9L1306,297.2L1307.6,294.7L1309.2,292.3L1310.8,289.9L1312.4,287.7L1314,285.6L1315.5,283.6L1317.1,281.6L1318.7,279.7L1320.3,277.8L1321.9,276L1323.5,274.2L1325.1,272.5L1326.7,270.9L1328.2,269.3L1329.8,267.7L1331.4,266.1L1333,264.6L1334.6,263.1L1336.2,261.6L1337.8,260.2L1339.4,258.8L1341,257.4L1342.5,256.1L1344.1,254.7L1345.7,253.4L1347.3,252.1L1348.9,250.9L1350.5,249.6L1352.1,248.4L1353.7,247.1L1355.3,245.9L1356.8,244.8L1358.4,243.6L1360,242.4L1361.6,241.3L1363.2,240.1L1364.8,239L1366.4,237.9L1368,236.8L1369.6,235.7L1371.1,234.7L1372.7,233.6L1374.3,232.5L1375.9,231.5L1377.5,230.5" stroke="#f00" stroke-width="4" fill="none" stroke-linejoin="round" stroke-linecap="square"/>
<path d="M869.1,119.1L872.3,120.8L875.5,122.4L878.8,124.1L882,125.8L885.2,127.5L888.4,129.2L891.6,130.9L894.8,132.6L898.1,134.3L901.3,136L904.5,137.7L907.7,139.4L910.9,141.2L914.1,142.9L917.4,144.7L920.6,146.5L923.8,148.4L927,150.3L930.2,152.3L933.5,154.2L936.7,156.2L939.9,158.2L943.1,160.2L946.3,162.2L949.5,164.3L952.8,166.4L956,168.5L959.2,170.6L962.4,172.8L965.6,174.9L968.8,177.1L972.1,179.3L975.3,181.6L978.5,183.9L981.7,186.3L984.9,188.6L988.2,190.8L991.4,193.1L994.6,195.3L997.8,197.3L1001,199.3L1004.2,201.3L1007.5,203.2L1010.7,205L1013.9,206.7L1017.1,208.2L1020.3,209.5L1023.6,210.5L1026.8,211.6L1030,212.5L1033.2,213.4L1036.4,214.1L1039.6,214.5L1042.9,214.6L1046.1,214.6L1049.3,214.5L1052.5,214.2L1055.7,213.8L1058.9,213.3L1062.2,212.7L1065.4,212L1068.6,211.1L1071.8,210.1L1075,209L1078.3,207.6L1081.5,206.1L1084.7,204.7L1087.9,203.4L1091.1,202L1094.3,200.6L1097.6,199.3L1100.8,198L1104,196.7L1107.2,195.5L1110.4,194.5L1113.6,193.6L1116.9,192.8L1120.1,192.1L1123.3,191.5L1124.9,191.5L1126.5,191.5L1128.1,191.5L1129.7,191.5L1131.2,191.5L1132.8,191.5L1134.4,192.1L1136,192.6L1137.6,193.2L1139.2,193.8L1140.8,194.4L1142.4,195L1144,195.6L1145.5,196.3L1147.1,197L1148.7,197.6L1150.3,198.3L1151.9,199.1L1153.5,199.8L1155.1,200.6L1156.7,201.3L1158.3,202.1L1159.8,202.9L1161.4,203.7L1163,204.6L1164.6,205.4L1166.2,206.3L1167.8,207.2L1169.4,208.1L1171,209.1L1172.6,210L1174.1,211L1175.7,212L1177.3,213L1178.9,214.1L1180.5,215.1L1182.1,216.2L1183.7,217.3L1185.3,218.4L1186.8,219.6L1188.4,220.7L1190,221.9L1191.6,223.1L1193.2,224.4L1194.8,225.6L1196.4,226.9L1198,228.3L1199.6,229.6L1201.1,231L1202.7,232.4L1204.3,233.8L1205.9,235.3L1207.5,236.8L1209.1,238.3L1210.7,239.9L1212.3,241.5L1213.9,243.1L1215.4,244.8L1217,246.5L1218.6,248.2L1220.2,250L1221.8,251.9L1223.4,253.8L1225,255.7L1226.6,257.7L1228.2,259.8L1229.7,261.9L1231.3,264.1L1232.9,266.3L1234.5,268.7L1236.1,271.1L1237.7,273.6L1239.3,276.2L1240.9,279L1242.5,281.8L1244,284.8L1245.6,288L1247.2,291.4L1248.8,295L1250.4,298.9L1251.9,303L1252,303.1L1252.3,304L1252.7,305.2L1253.1,306.3L1253.5,307.5L1253.6,307.9L1253.8,308.7L1254.2,310L1254.6,311.3L1255,312.6L1255.2,313.3L1255.4,314.1L1255.7,315.5L1256.1,317.1L1256.5,318.8L1256.8,319.9L1256.9,320.5L1257.3,322.4L1257.6,324.5L1258,326.8L1258.3,328.9L1258.4,329L1258.8,329L1259.2,329L1259.6,329L1259.9,329L1260.3,329L1260.7,329L1261.1,326.7L1261.5,324.4L1261.5,324.1L1261.8,322.4L1262.2,320.5L1262.6,318.7L1263,317L1263.1,316.5L1263.4,315.5L1263.7,313.9L1264.1,312.5L1264.5,311.1L1264.7,310.5L1264.9,309.8L1265.3,308.5L1265.7,307.3L1266,306.1L1266.3,305.3L1266.4,304.9L1266.8,303.8L1267.2,302.7L1267.9,300.7L1269.5,296.6L1271.1,292.7L1272.6,289.1L1274.2,285.8L1275.8,282.6L1277.4,279.5L1279,276.6L1280.6,273.8L1282.2,271.1L1283.8,268.5L1285.4,265.9L1286.9,263.5L1288.5,261.1L1290.1,258.8L1291.7,256.5L1293.3,254.3L1294.9,252.2L1296.5,250.1L1298.1,248.1L1299.7,246.1L1301.2,244.1L1302.8,242.2L1304.4,240.3L1306,238.4L1307.6,236.6L1309.2,234.9L1310.8,233.1L1312.4,231.4L1314,229.7L1315.5,228.1L1317.1,226.4L1318.7,224.8L1320.3,223.2L1321.9,221.7L1323.5,220.2L1325.1,218.7L1326.7,217.2L1328.2,215.7L1329.8,214.3L1331.4,212.9L1333,211.5L1334.6,210.1L1336.2,208.8L1337.8,207.5L1339.4,206.2L1341,204.9L1342.5,203.6L1344.1,202.4L1345.7,201.1L1347.3,199.9L1348.9,198.7L1350.5,197.6L1352.1,196.4L1353.7,195.3L1355.3,194.2L1356.8,193.1L1358.4,192L1360,190.9L1361.6,189.9L1363.2,188.8L1364.8,187.8L1366.4,186.8L1368,185.9L1369.6,184.9L1371.1,184L1372.7,183L1374.3,182.1L1375.9,181.2L1377.5,180.3" stroke="#000" stroke-width="4" fill="none" stroke-linejoin="round" stroke-linecap="square"/>
<path d="M869.1,128.2L870.7,129.1L872.3,130L873.9,131L875.5,131.9L877,132.9L878.6,133.9L880.2,134.9L881.8,135.9L883.4,136.9L885,137.9L886.6,139L888.2,140.1L889.8,141.1L891.3,142.2L892.9,143.3L894.5,144.5L896.1,145.6L897.7,146.8L899.3,147.9L900.9,149.1L902.5,150.3L904.1,151.6L905.6,152.8L907.2,154.1L908.8,155.3L910.4,156.6L912,158L913.6,159.3L915.2,160.6L916.8,162L918.4,163.4L919.9,164.8L921.5,166.2L923.1,167.7L924.7,169.1L926.3,170.6L927.9,172.2L929.5,173.7L931.1,175.3L932.6,176.8L934.2,178.4L935.8,180.1L937.4,181.7L939,183.4L940.6,185.1L942.2,186.8L943.8,188.6L945.4,190.4L946.9,192.2L948.5,194.1L950.1,195.9L951.7,197.8L953.3,199.8L954.9,201.8L956.5,203.8L958.1,205.8L959.7,207.9L961.2,210L962.8,212.2L964.4,214.4L966,216.6L967.6,218.9L969.2,221.2L970.8,223.6L972.4,226L974,228.5L975.5,231L977.1,233.6L978.7,236.3L980.3,239L981.9,241.8L983.5,244.7L985.1,247.7L986.7,250.7L988.3,253.9L989.8,257.1L991.4,260.5L993,264L994.6,267.7L996.2,271.6L997.8,275.6L999.4,279.9L1001,284.5L1002.6,289.4L1003.8,293.6L1004.1,294.7L1004.2,295L1004.6,296.4L1005,297.8L1005.4,299.2L1005.7,300.7L1006.1,302.3L1006.5,303.9L1006.9,305.6L1007.3,307.3L1007.3,307.6L1007.6,309.1L1008,311L1008.4,313.1L1008.8,315.2L1008.9,316L1009.2,317.5L1009.5,320L1009.9,322.8L1010.3,326L1010.5,326.6L1010.7,326.6L1011.1,326.6L1011.5,326.6L1011.8,326.6L1012.1,326.6L1012.2,326.6L1012.6,325.8L1013,322.7L1013.4,319.9L1013.7,317.8L1013.7,317.4L1014.1,315.2L1014.5,313.1L1014.9,311.1L1015.3,309.2L1015.6,307.4L1016,305.7L1016.4,304.1L1016.8,302.5L1016.9,302.3L1017.2,301L1017.6,299.5L1017.9,298.1L1018.3,296.8L1018.4,296.3L1018.7,295.4L1019.1,294.1L1020,291L1021.6,286.2L1023.2,281.8L1024.8,277.8L1026.4,273.9L1028,270.3L1029.6,266.9L1031.2,263.7L1032.7,260.6L1034.3,257.6L1035.9,254.8L1037.5,252.1L1039.1,249.4L1040.7,246.9L1042.3,244.5L1043.9,242.2L1045.5,239.9L1047,237.7L1048.6,235.6L1050.2,233.6L1051.8,231.6L1053.4,229.7L1055,227.8L1056.6,226L1058.2,224.3L1059.8,222.6L1061.3,221L1062.9,219.4L1064.5,217.9L1066.1,216.4L1067.7,215L1069.3,213.6L1070.9,212.3L1072.5,211L1074,209.8L1075.6,208.6L1077.2,207.5L1078.8,206.4L1080.4,205.3L1082,204.3L1083.6,203.3L1085.2,202.4L1086.8,201.5L1088.3,200.6L1089.9,199.8L1091.5,199L1093.1,198.3L1094.7,197.6L1096.3,196.9L1097.9,196.3L1099.5,195.7L1101.1,195.2L1102.6,194.7L1104.2,194.2L1105.8,193.8L1107.4,193.4L1109,193L1110.6,192.7L1112.2,192.4L1113.8,192.2L1115.4,192L1116.9,191.8L1118.5,191.7L1120.1,191.6L1121.7,191.6L1123.3,191.5L1124.9,191.6L1126.5,191.6L1128.1,191.7L1129.7,191.8L1131.2,192L1132.8,192.2L1134.4,192.4L1136,192.7L1137.6,193L1139.2,193.4L1140.8,193.8L1142.4,194.2L1144,194.7L1145.5,195.2L1147.1,195.7L1148.7,196.3L1150.3,196.9L1151.9,197.6L1153.5,198.3L1155.1,199L1156.7,199.8L1158.3,200.6L1159.8,201.5L1161.4,202.4L1163,203.3L1164.6,204.3L1166.2,205.3L1167.8,206.4L1169.4,207.5L1171,208.6L1172.6,209.8L1174.1,211L1175.7,212.3L1177.3,213.6L1178.9,215L1180.5,216.4L1182.1,217.9L1183.7,219.4L1185.3,221L1186.8,222.6L1188.4,224.3L1190,226L1191.6,227.8L1193.2,229.7L1194.8,231.6L1196.4,233.6L1198,235.6L1199.6,237.7L1201.1,239.9L1202.7,242.2L1204.3,244.5L1205.9,246.9L1207.5,249.4L1209.1,252.1L1210.7,254.8L1212.3,257.6L1213.9,260.6L1215.4,263.7L1217,266.9L1218.6,270.3L1220.2,273.9L1221.8,277.8L1223.4,281.8L1225,286.2L1226.6,291L1227.5,294.1L1227.9,295.4L1228.2,296.3L1228.3,296.8L1228.7,298.1L1229,299.5L1229.4,301L1229.7,302.3L1229.8,302.5L1230.2,304.1L1230.6,305.7L1231,307.4L1231.3,309.2L1231.7,311.1L1232.1,313.1L1232.5,315.2L1232.9,317.4L1232.9,317.8L1233.2,319.9L1233.6,322.7L1234,325.8L1234.4,326.6L1234.5,326.6L1234.8,326.6L1235.1,326.6L1235.5,326.6L1235.9,326.6L1236.1,326.6L1236.3,326L1236.7,322.8L1237.1,320L1237.4,317.5L1237.7,316L1237.8,315.2L1238.2,313.1L1238.6,311L1239,309.1L1239.3,307.6L1239.3,307.3L1239.7,305.6L1240.1,303.9L1240.5,302.3L1240.9,300.7L1241.2,299.2L1241.6,297.8L1242,296.4L1242.4,295L1242.5,294.7L1242.8,293.6L1244,289.4L1245.6,284.5L1247.2,279.9L1248.8,275.6L1250.4,271.6L1252,267.7L1253.6,264L1255.2,260.5L1256.8,257.1L1258.3,253.9L1259.9,250.7L1261.5,247.7L1263.1,244.7L1264.7,241.8L1266.3,239L1267.9,236.3L1269.5,233.6L1271.1,231L1272.6,228.5L1274.2,226L1275.8,223.6L1277.4,221.2L1279,218.9L1280.6,216.6L1282.2,214.4L1283.8,212.2L1285.4,210L1286.9,207.9L1288.5,205.8L1290.1,203.8L1291.7,201.8L1293.3,199.8L1294.9,197.8L1296.5,195.9L1298.1,194.1L1299.7,192.2L1301.2,190.4L1302.8,188.6L1304.4,186.8L1306,185.1L1307.6,183.4L1309.2,181.7L1310.8,180.1L1312.4,178.4L1314,176.8L1315.5,175.3L1317.1,173.7L1318.7,172.2L1320.3,170.6L1321.9,169.1L1323.5,167.7L1325.1,166.2L1326.7,164.8L1328.2,163.4L1329.8,162L1331.4,160.6L1333,159.3L1334.6,158L1336.2,156.6L1337.8,155.3L1339.4,154.1L1341,152.8L1342.5,151.6L1344.1,150.3L1345.7,149.1L1347.3,147.9L1348.9,146.8L1350.5,145.6L1352.1,144.5L1353.7,143.3L1355.3,142.2L1356.8,141.1L1358.4,140.1L1360,139L1361.6,137.9L1363.2,136.9L1364.8,135.9L1366.4,134.9L1368,133.9L1369.6,132.9L1371.1,131.9L1372.7,131L1374.3,130L1375.9,129.1L1377.5,128.2" stroke="#00f" stroke-width="4" fill="none" stroke-linejoin="round" stroke-linecap="square"/>
<path d="M869.1,352.7v-5.5M869.1,26v5.5M996.2,352.7v-5.5M996.2,26v5.5M1123.3,352.7v-5.5M1123.3,26v5.5M1250.4,352.7v-5.5M1250.4,26v5.5M1377.5,352.7v-5.5M1377.5,26v5.5M894.5,352.7v-3.3M894.5,26v3.3M919.9,352.7v-3.3M919.9,26v3.3M945.4,352.7v-3.3M945.4,26v3.3M970.8,352.7v-3.3M970.8,26v3.3M1021.6,352.7v-3.3M1021.6,26v3.3M1047,352.7v-3.3M1047,26v3.3M1072.5,352.7v-3.3M1072.5,26v3.3M1097.9,352.7v-3.3M1097.9,26v3.3M1148.7,352.7v-3.3M1148.7,26v3.3M1174.1,352.7v-3.3M1174.1,26v3.3M1199.6,352.7v-3.3M1199.6,26v3.3M1225,352.7v-3.3M1225,26v3.3M1275.8,352.7v-3.3M1275.8,26v3.3M1301.2,352.7v-3.3M1301.2,26v3.3M1326.7,352.7v-3.3M1326.7,26v3.3M1352.1,352.7v-3.3M1352.1,26v3.3M858.8,346.1h5.5M1388,346.1h-5.5M858.8,278.9h5.5M1388,278.9h-5.5M858.8,211.7h5.5M1388,211.7h-5.5M858.8,144.5h5.5M1388,144.5h-5.5M858.8,77.3h5.5M1388,77.3h-5.5M858.8,332.7h3.3M1388,332.7h-3.3M858.8,319.2h3.3M1388,319.2h-3.3M858.8,305.8h3.3M1388,305.8h-3.3M858.8,292.3h3.3M1388,292.3h-3.3M858.8,265.5h3.3M1388,265.5h-3.3M858.8,252h3.3M1388,252h-3.3M858.8,238.6h3.3M1388,238.6h-3.3M858.8,225.1h3.3M1388,225.1h-3.3M858.8,198.3h3.3M1388,198.3h-3.3M858.8,184.8h3.3M1388,184.8h-3.3M858.8,171.4h3.3M1388,171.4h-3.3M858.8,157.9h3.3M1388,157.9h-3.3M858.8,131.1h3.3M1388,131.1h-3.3M858.8,117.6h3.3M1388,117.6h-3.3M858.8,104.2h3.3M1388,104.2h-3.3M858.8,90.7h3.3M1388,90.7h-3.3M858.8,63.9h3.3M1388,63.9h-3.3M858.8,50.4h3.3M1388,50.4h-3.3M858.8,37h3.3M1388,37h-3.3" stroke="#666" stroke-width="1.4" fill="none"/>
<rect x="858.8" y="26" width="529.2" height="326.7" fill="none" stroke="#666" stroke-width="1.5"/>
<g font-family="Liberation Sans,sans-serif" font-weight="bold" font-size="24.7" stroke="#000" stroke-width="0.25"><text transform="translate(849.7,378.8) scale(0.876,1)" textLength="44.3" lengthAdjust="spacing">−10</text><text transform="translate(983.3,378.8) scale(0.876,1)" textLength="29.5" lengthAdjust="spacing">−5</text><text transform="translate(1123.3,378.8) scale(0.876,1)" text-anchor="middle">0</text><text transform="translate(1250.4,378.8) scale(0.876,1)" text-anchor="middle">5</text><text transform="translate(1377.5,378.8) scale(0.876,1)" text-anchor="middle">10</text><text transform="translate(853,353.7) scale(0.876,1)" text-anchor="end">0.0</text><text transform="translate(853,286.5) scale(0.876,1)" text-anchor="end">0.1</text><text transform="translate(853,219.3) scale(0.876,1)" text-anchor="end">0.2</text><text transform="translate(853,152.1) scale(0.876,1)" text-anchor="end">0.3</text><text transform="translate(853,84.9) scale(0.876,1)" text-anchor="end">0.4</text><text transform="translate(1123.3,414) scale(0.876,1)" text-anchor="middle">z</text><text transform="translate(807.5,190) rotate(-90) scale(0.876,1)" text-anchor="middle" textLength="95.9" lengthAdjust="spacing" xml:space="preserve">| <tspan font-style="italic">ψ</tspan> ( z,t) |</text></g>
<rect x="1207" y="56" width="88.5" height="96.7" fill="#fff" stroke="#000" stroke-width="1.5"/>
<path d="M1211,74.1h29" stroke="#f00" stroke-width="4"/>
<path d="M1211,104.5h29" stroke="#000" stroke-width="4"/>
<path d="M1211,134.9h29" stroke="#00f" stroke-width="4"/>
<g font-family="Liberation Sans,sans-serif" font-size="20"><text x="1242.6" y="81.6" textLength="46" lengthAdjust="spacingAndGlyphs"><tspan font-style="italic">α</tspan>=0.6</text><text x="1242.6" y="112" textLength="46" lengthAdjust="spacingAndGlyphs"><tspan font-style="italic">α</tspan>=0.8</text><text x="1242.6" y="142.4" textLength="46" lengthAdjust="spacingAndGlyphs"><tspan font-style="italic">α</tspan>=1.0</text></g>
<path d="M1481.1,404.9L1491.9,404.9L1521.2,8L1481.1,8Z" fill="#f00"/>
<path d="M1491.1,404.9L1523.1,404.9L1552.2,8L1520.4,8Z" fill="#bf00ff"/>
<path d="M1522.3,404.9L1545.4,404.9L1575.1,8L1551.4,8Z" fill="#0020ff"/>
<path d="M1544.6,404.9L1562.1,404.9L1591.7,8L1574.3,8Z" fill="#00ffee"/>
<path d="M1561.3,404.9L1573.3,404.9L1604.2,8L1590.9,8Z" fill="#00ff00"/>
<path d="M1572.5,404.9L1594.1,404.9L1623.4,8L1603.4,8Z" fill="#ddff00"/>
<path d="M1593.3,404.9L1607.8,404.9L1637,8L1622.6,8Z" fill="#00ff00"/>
<path d="M1607,404.9L1631,404.9L1659.8,8L1636.2,8Z" fill="#00ffee"/>
<path d="M1630.2,404.9L1709.9,404.9L1739.3,8L1659,8Z" fill="#0020ff"/>
<path d="M1709.1,404.9L1732.9,404.9L1762.8,8L1738.5,8Z" fill="#00ffee"/>
<path d="M1732.1,404.9L1746.2,404.9L1776.2,8L1762,8Z" fill="#00ff00"/>
<path d="M1745.4,404.9L1766.7,404.9L1795.8,8L1775.4,8Z" fill="#ddff00"/>
<path d="M1765.9,404.9L1778.6,404.9L1808.1,8L1795,8Z" fill="#00ff00"/>
<path d="M1777.8,404.9L1794.9,404.9L1824.7,8L1807.3,8Z" fill="#00ffee"/>
<path d="M1794.1,404.9L1818.1,404.9L1847.8,8L1823.9,8Z" fill="#0020ff"/>
<path d="M1817.3,404.9L1849,404.9L1878.8,8L1847,8Z" fill="#bf00ff"/>
<path d="M1848.2,404.9L1878.4,404.9L1878.4,8L1878,8Z" fill="#f00"/>
<path d="M1609.3,30.1L1614.1,65.5L1609,97.4L1604.5,65.5ZM1778.6,71.5L1783.4,105.8L1778.3,138L1773.8,105.8ZM1594.8,218.8L1599.4,250.5L1594.5,284.6L1590.2,250.5ZM1764.1,260.8L1768.7,292.6L1763.8,327L1759.5,292.6Z" fill="#f00" stroke="#000" stroke-opacity="0.55" stroke-width="0.9"/>
<path d="M1491.5,404.9L1520.8,8.0M1522.7,404.9L1551.8,8.0M1545,404.9L1574.7,8.0M1561.7,404.9L1591.3,8.0M1572.9,404.9L1603.8,8.0M1593.7,404.9L1623,8.0M1607.4,404.9L1636.6,8.0M1630.6,404.9L1659.4,8.0M1709.5,404.9L1738.9,8.0M1732.5,404.9L1762.4,8.0M1745.8,404.9L1775.8,8.0M1766.3,404.9L1795.4,8.0M1778.2,404.9L1807.7,8.0M1794.5,404.9L1824.3,8.0M1817.7,404.9L1847.4,8.0M1848.6,404.9L1878.4,8.0" stroke="#000" stroke-opacity="0.6" stroke-width="0.9" fill="none"/>
<path d="M1482,412.8v-4.5M1482,0.8v4.5M1581.1,412.8v-4.5M1581.1,0.8v4.5M1680.3,412.8v-4.5M1680.3,0.8v4.5M1779.5,412.8v-4.5M1779.5,0.8v4.5M1878.6,412.8v-4.5M1878.6,0.8v4.5M1501.8,412.8v-2.8M1501.8,0.8v2.8M1521.7,412.8v-2.8M1521.7,0.8v2.8M1541.5,412.8v-2.8M1541.5,0.8v2.8M1561.3,412.8v-2.8M1561.3,0.8v2.8M1601,412.8v-2.8M1601,0.8v2.8M1620.8,412.8v-2.8M1620.8,0.8v2.8M1640.6,412.8v-2.8M1640.6,0.8v2.8M1660.5,412.8v-2.8M1660.5,0.8v2.8M1700.1,412.8v-2.8M1700.1,0.8v2.8M1720,412.8v-2.8M1720,0.8v2.8M1739.8,412.8v-2.8M1739.8,0.8v2.8M1759.6,412.8v-2.8M1759.6,0.8v2.8M1799.3,412.8v-2.8M1799.3,0.8v2.8M1819.1,412.8v-2.8M1819.1,0.8v2.8M1838.9,412.8v-2.8M1838.9,0.8v2.8M1858.8,412.8v-2.8M1858.8,0.8v2.8M1473.9,405.4h4.5M1885.8,405.4h-4.5M1473.9,339.4h4.5M1885.8,339.4h-4.5M1473.9,273.3h4.5M1885.8,273.3h-4.5M1473.9,207.3h4.5M1885.8,207.3h-4.5M1473.9,141.3h4.5M1885.8,141.3h-4.5M1473.9,75.2h4.5M1885.8,75.2h-4.5M1473.9,9.2h4.5M1885.8,9.2h-4.5M1473.9,392.2h2.8M1885.8,392.2h-2.8M1473.9,379h2.8M1885.8,379h-2.8M1473.9,365.8h2.8M1885.8,365.8h-2.8M1473.9,352.6h2.8M1885.8,352.6h-2.8M1473.9,326.2h2.8M1885.8,326.2h-2.8M1473.9,313h2.8M1885.8,313h-2.8M1473.9,299.7h2.8M1885.8,299.7h-2.8M1473.9,286.5h2.8M1885.8,286.5h-2.8M1473.9,260.1h2.8M1885.8,260.1h-2.8M1473.9,246.9h2.8M1885.8,246.9h-2.8M1473.9,233.7h2.8M1885.8,233.7h-2.8M1473.9,220.5h2.8M1885.8,220.5h-2.8M1473.9,194.1h2.8M1885.8,194.1h-2.8M1473.9,180.9h2.8M1885.8,180.9h-2.8M1473.9,167.7h2.8M1885.8,167.7h-2.8M1473.9,154.5h2.8M1885.8,154.5h-2.8M1473.9,128.1h2.8M1885.8,128.1h-2.8M1473.9,114.8h2.8M1885.8,114.8h-2.8M1473.9,101.6h2.8M1885.8,101.6h-2.8M1473.9,88.4h2.8M1885.8,88.4h-2.8M1473.9,62h2.8M1885.8,62h-2.8M1473.9,48.8h2.8M1885.8,48.8h-2.8M1473.9,35.6h2.8M1885.8,35.6h-2.8M1473.9,22.4h2.8M1885.8,22.4h-2.8" stroke="#666" stroke-width="1.4" fill="none"/>
<rect x="1473.9" y="0.8" width="411.9" height="412.1" fill="none" stroke="#666" stroke-width="1.5"/>
<g font-family="Liberation Sans,sans-serif" font-weight="bold" font-size="14.4" stroke="#000" stroke-width="0.25"><text x="1480.2" y="430.4" text-anchor="middle">−10</text><text x="1579.3" y="430.4" text-anchor="middle">−5</text><text x="1680.3" y="430.4" text-anchor="middle">0</text><text x="1779.5" y="430.4" text-anchor="middle">5</text><text x="1878.6" y="430.4" text-anchor="middle">10</text><text x="1469.8" y="410.4" text-anchor="end">0.0</text><text x="1469.8" y="344.4" text-anchor="end">0.5</text><text x="1469.8" y="278.3" text-anchor="end">1.0</text><text x="1469.8" y="212.3" text-anchor="end">1.5</text><text x="1469.8" y="146.3" text-anchor="end">2.0</text><text x="1469.8" y="80.2" text-anchor="end">2.5</text><text x="1469.8" y="14.2" text-anchor="end">3.0</text></g>
<g stroke="#5c5c5c" stroke-width="1" fill="none"><path d="M136.8,863.7L330.8,682.5"/><path d="M330.8,682.5L628,771.9" stroke-dasharray="4 2"/><path d="M330.8,682.5L326.9,570.7"/><path d="M117.2,740.1L326.9,570.7"/><path d="M326.9,570.7L644.2,653.7" stroke-dasharray="5 2.5"/><path d="M628,771.9L644.2,653.7" stroke-dasharray="9 3"/><path d="M136.8,863.7L117.2,740.1" stroke-dasharray="5 2"/><path d="M136.8,863.7L480.2,998.2" stroke-dasharray="7 1.5"/><path d="M480.2,998.2L628,771.9"/><path d="M142.6,866L147.3,861.5M157.4,871.8L160,869.3M172.3,877.6L174.9,875.1M187.4,883.5L189.9,881M202.6,889.5L205.2,886.9M218.1,895.5L222.6,890.8M233.7,901.6L236.2,899M249.5,907.8L251.9,905.2M265.5,914.1L267.9,911.4M281.6,920.4L284,917.7M298,926.8L302.2,921.9M314.5,933.3L316.8,930.5M331.3,939.9L333.5,937.1M348.2,946.5L350.5,943.7M365.3,953.2L367.6,950.4M382.7,960L386.6,954.8M400.3,966.9L402.4,964M418,973.8L420.2,970.9M436,980.9L438.1,977.9M454.3,988L456.3,985M472.7,995.2L476.3,989.8M483.7,992.8L477.6,990.4M495.1,975.2L491.8,973.9M506.3,958.2L502.9,956.9M517.1,941.7L513.7,940.4M527.6,925.6L524.2,924.4M537.8,910L531.6,907.9M547.7,894.9L544.3,893.7M557.3,880.1L553.9,879M566.7,865.8L563.3,864.7M575.8,851.9L572.4,850.7M584.7,838.3L578.5,836.3M593.3,825.1L589.9,824M601.7,812.2L598.3,811.1M609.9,799.6L606.5,798.5M617.9,787.4L614.5,786.3M625.7,775.5L619.5,773.6M136.4,861.5L142.5,863.8M129.6,818.6L135.7,820.9M122.4,773.4L128.6,775.6M134.7,851L138.1,852.3M133.1,840.3L136.4,841.6M131.3,829.5L134.7,830.8M127.9,807.5L131.2,808.8M126.1,796.3L129.5,797.5M124.3,784.9L127.7,786.1M120.6,761.7L124,762.9M118.7,749.8L122.1,751"/></g>
<g stroke-width="0.6" stroke-linejoin="round"><path d="M128.8,741.1L130.2,742.3L153.8,721.3L128.8,741.1Z" fill="#ff0004" stroke="#ff0004"/><path d="M130.2,742.3L131.6,743.5L146.8,729.4L177.8,702.5L153.8,721.3Z" fill="#ff000c" stroke="#ff000c"/><path d="M131.6,743.5L133,744.7L155.6,723.6L200.7,684.4L177.8,702.5L146.8,729.4Z" fill="#ff0014" stroke="#ff0014"/><path d="M133,744.7L134.5,745.8L164.3,717.9L222.6,667.1L200.7,684.4L155.6,723.6Z" fill="#ff001c" stroke="#ff001c"/><path d="M134.5,745.8L135.9,747L155,728.4L194.1,693.6L243.6,650.5L222.6,667.1L164.3,717.9Z" fill="#ff0024" stroke="#ff0024"/><path d="M135.9,747L137.3,748.2L160.1,725.9L206.3,684.7L263.7,634.6L243.6,650.5L194.1,693.6L155,728.4Z" fill="#ff002c" stroke="#ff002c"/><path d="M137.3,748.2L138.8,749.4L165.2,723.4L218.2,676.1L283.1,619.4L263.7,634.6L206.3,684.7L160.1,725.9Z" fill="#ff0034" stroke="#ff0034"/><path d="M138.8,749.4L140.2,750.6L170.2,721L229.8,667.6L301.7,604.7L283.1,619.4L218.2,676.1L165.2,723.4Z" fill="#ff003c" stroke="#ff003c"/><path d="M140.2,750.6L141.7,751.8L175.2,718.6L241.2,659.3L319.6,590.6L301.7,604.7L229.8,667.6L170.2,721Z" fill="#f04" stroke="#f04"/><path d="M141.7,751.8L143.1,753L165.2,730.1L210.8,688.3L267.8,637.6L329.8,583.2L329.4,582.9L319.6,590.6L241.2,659.3L175.2,718.6Z" fill="#ff004c" stroke="#ff004c"/><path d="M143.1,753L144.6,754.1L166.5,731.2L212,689.3L268.8,638.4L330.7,583.8L329.8,583.2L267.8,637.6L210.8,688.3L165.2,730.1Z" fill="#ff0054" stroke="#ff0054"/><path d="M144.6,754.1L146,755.3L167.8,732.3L213.2,690.3L269.9,639.2L331.6,584.5L330.7,583.8L268.8,638.4L212,689.3L166.5,731.2Z" fill="#ff005c" stroke="#ff005c"/><path d="M146,755.3L147.5,756.5L169.2,733.4L214.4,691.3L271,640.1L332.5,585.2L331.6,584.5L269.9,639.2L213.2,690.3L167.8,732.3Z" fill="#ff0064" stroke="#ff0064"/><path d="M147.5,756.5L149,757.7L170.5,734.5L215.6,692.2L272,640.9L333.5,585.9L332.5,585.2L271,640.1L214.4,691.3L169.2,733.4Z" fill="#ff006c" stroke="#ff006c"/><path d="M149,757.7L150.4,758.9L171.9,735.7L216.8,693.2L273.1,641.7L334.4,586.5L333.5,585.9L272,640.9L215.6,692.2L170.5,734.5Z" fill="#ff0074" stroke="#ff0074"/><path d="M150.4,758.9L151.9,760.1L173.2,736.8L218,694.2L274.2,642.6L335.4,587.2L334.4,586.5L273.1,641.7L216.8,693.2L171.9,735.7Z" fill="#ff007c" stroke="#ff007c"/><path d="M151.9,760.1L153.4,761.3L174.6,737.9L219.2,695.2L275.3,643.4L336.3,587.9L335.4,587.2L274.2,642.6L218,694.2L173.2,736.8Z" fill="#ff0084" stroke="#ff0084"/><path d="M153.4,761.3L154.9,762.5L176,739L220.5,696.2L276.4,644.2L337.3,588.6L336.3,587.9L275.3,643.4L219.2,695.2L174.6,737.9Z" fill="#ff008c" stroke="#ff008c"/><path d="M154.9,762.5L156.4,763.7L177.3,740.1L221.7,697.2L277.5,645.1L338.2,589.3L337.3,588.6L276.4,644.2L220.5,696.2L176,739Z" fill="#ff0094" stroke="#ff0094"/><path d="M156.4,763.7L157.9,764.8L178.7,741.2L223,698.1L278.6,645.9L339.2,590L338.2,589.3L277.5,645.1L221.7,697.2L177.3,740.1Z" fill="#ff009c" stroke="#ff009c"/><path d="M157.9,764.8L159.4,766L180.1,742.3L224.2,699.1L279.7,646.8L340.2,590.8L339.2,590L278.6,645.9L223,698.1L178.7,741.2Z" fill="#ff00a4" stroke="#ff00a4"/><path d="M159.4,766L160.9,767.2L181.5,743.4L225.5,700.2L280.8,647.7L341.2,591.5L340.2,590.8L279.7,646.8L224.2,699.1L180.1,742.3Z" fill="#ff00ac" stroke="#ff00ac"/><path d="M160.9,767.2L162.4,768.4L182.9,744.5L226.7,701.2L282,648.6L342.2,592.2L341.2,591.5L280.8,647.7L225.5,700.2L181.5,743.4Z" fill="#ff00b4" stroke="#ff00b4"/><path d="M162.4,768.4L163.9,769.6L184.3,745.7L228,702.2L283.1,649.4L343.3,593L342.2,592.2L282,648.6L226.7,701.2L182.9,744.5Z" fill="#ff00bc" stroke="#ff00bc"/><path d="M163.9,769.6L165.4,770.8L185.7,746.8L229.3,703.2L284.3,650.3L344.3,593.7L343.3,593L283.1,649.4L228,702.2L184.3,745.7Z" fill="#ff00c4" stroke="#ff00c4"/><path d="M165.4,770.8L167,772L187.1,747.9L230.6,704.2L285.5,651.2L345.4,594.5L344.3,593.7L284.3,650.3L229.3,703.2L185.7,746.8Z" fill="#f0c" stroke="#f0c"/><path d="M167,772L168.5,773.2L188.6,749.1L232,705.2L286.7,652.1L346.4,595.3L345.4,594.5L285.5,651.2L230.6,704.2L187.1,747.9Z" fill="#ff00d4" stroke="#ff00d4"/><path d="M168.5,773.2L170,774.4L190,750.2L233.3,706.3L287.9,653.1L347.6,596.1L346.4,595.3L286.7,652.1L232,705.2L188.6,749.1Z" fill="#ff00dc" stroke="#ff00dc"/><path d="M170,774.4L171.6,775.7L191.5,751.4L234.7,707.3L289.1,654L348.7,596.9L347.6,596.1L287.9,653.1L233.3,706.3L190,750.2Z" fill="#ff00e4" stroke="#ff00e4"/><path d="M171.6,775.7L173.2,776.9L193,752.5L236,708.4L290.4,655L349.8,597.8L348.7,596.9L289.1,654L234.7,707.3L191.5,751.4Z" fill="#ff00ec" stroke="#ff00ec"/><path d="M173.2,776.9L174.7,778.1L194.5,753.7L237.5,709.5L291.7,656L351.1,598.7L349.8,597.8L290.4,655L236,708.4L193,752.5Z" fill="#ff00f4" stroke="#ff00f4"/><path d="M174.7,778.1L176.3,779.3L196,754.8L238.9,710.6L293,657L352.3,599.6L351.1,598.7L291.7,656L237.5,709.5L194.5,753.7Z" fill="#ff00fc" stroke="#ff00fc"/><path d="M176.3,779.3L177.9,780.5L197.5,756L240.3,711.7L294.4,658L353.5,600.5L352.3,599.6L293,657L238.9,710.6L196,754.8Z" fill="#fa00ff" stroke="#fa00ff"/><path d="M177.9,780.5L179.5,781.7L199.1,757.2L241.8,712.8L295.8,659L354.9,601.5L353.5,600.5L294.4,658L240.3,711.7L197.5,756Z" fill="#f200ff" stroke="#f200ff"/><path d="M179.5,781.7L181.1,783L200.6,758.4L243.3,713.9L297.2,660.1L356.2,602.4L354.9,601.5L295.8,659L241.8,712.8L199.1,757.2Z" fill="#ea00ff" stroke="#ea00ff"/><path d="M181.1,783L182.7,784.2L202.2,759.6L244.9,715.1L298.7,661.2L357.6,603.5L356.2,602.4L297.2,660.1L243.3,713.9L200.6,758.4Z" fill="#e200ff" stroke="#e200ff"/><path d="M182.7,784.2L184.3,785.4L203.9,760.8L246.4,716.2L300.2,662.3L359,604.5L357.6,603.5L298.7,661.2L244.9,715.1L202.2,759.6Z" fill="#da00ff" stroke="#da00ff"/><path d="M184.3,785.4L186,786.7L205.5,762L248,717.4L301.7,663.4L360.5,605.6L359,604.5L300.2,662.3L246.4,716.2L203.9,760.8Z" fill="#d200ff" stroke="#d200ff"/><path d="M186,786.7L187.6,787.9L207.2,763.3L249.7,718.6L303.3,664.6L362,606.7L360.5,605.6L301.7,663.4L248,717.4L205.5,762Z" fill="#ca00ff" stroke="#ca00ff"/><path d="M187.6,787.9L189.3,789.2L208.8,764.5L251.3,719.8L304.9,665.7L363.5,607.8L362,606.7L303.3,664.6L249.7,718.6L207.2,763.3Z" fill="#c200ff" stroke="#c200ff"/><path d="M189.3,789.2L191,790.4L210.5,765.7L253,721.1L306.6,666.9L365.2,609L363.5,607.8L304.9,665.7L251.3,719.8L208.8,764.5Z" fill="#ba00ff" stroke="#ba00ff"/><path d="M191,790.4L192.7,791.7L212.2,767L254.7,722.3L308.2,668.1L366.8,610.2L365.2,609L306.6,666.9L253,721.1L210.5,765.7Z" fill="#b200ff" stroke="#b200ff"/><path d="M192.7,791.7L194.3,792.9L214,768.3L256.4,723.6L310,669.4L368.4,611.4L366.8,610.2L308.2,668.1L254.7,722.3L212.2,767Z" fill="#a0f" stroke="#a0f"/><path d="M194.3,792.9L196,794.2L215.7,769.6L258.2,724.8L311.7,670.6L370.1,612.6L368.4,611.4L310,669.4L256.4,723.6L214,768.3Z" fill="#a200ff" stroke="#a200ff"/><path d="M196,794.2L197.7,795.5L217.5,770.8L260,726.1L313.4,671.9L371.8,613.9L370.1,612.6L311.7,670.6L258.2,724.8L215.7,769.6Z" fill="#9a00ff" stroke="#9a00ff"/><path d="M197.7,795.5L199.5,796.7L219.3,772.1L261.7,727.4L315.2,673.2L373.6,615.1L371.8,613.9L313.4,671.9L260,726.1L217.5,770.8Z" fill="#9200ff" stroke="#9200ff"/><path d="M199.5,796.7L201.2,798L221,773.4L263.5,728.7L317,674.5L375.3,616.4L373.6,615.1L315.2,673.2L261.7,727.4L219.3,772.1Z" fill="#8a00ff" stroke="#8a00ff"/><path d="M201.2,798L202.9,799.3L222.8,774.7L265.3,730L318.8,675.8L377.1,617.7L375.3,616.4L317,674.5L263.5,728.7L221,773.4Z" fill="#8200ff" stroke="#8200ff"/><path d="M202.9,799.3L204.6,800.5L224.6,776L267.1,731.3L320.6,677.1L378.8,619L377.1,617.7L318.8,675.8L265.3,730L222.8,774.7Z" fill="#7a00ff" stroke="#7a00ff"/><path d="M204.6,800.5L206.3,801.8L226.4,777.3L268.9,732.6L322.3,678.3L380.5,620.3L378.8,619L320.6,677.1L267.1,731.3L224.6,776Z" fill="#7200ff" stroke="#7200ff"/><path d="M206.3,801.8L208,803L228.1,778.5L270.7,733.8L324.1,679.6L382.3,621.5L380.5,620.3L322.3,678.3L268.9,732.6L226.4,777.3Z" fill="#6a00ff" stroke="#6a00ff"/><path d="M208,803L209.7,804.2L229.9,779.8L272.5,735.1L325.8,680.9L384,622.8L382.3,621.5L324.1,679.6L270.7,733.8L228.1,778.5Z" fill="#6200ff" stroke="#6200ff"/><path d="M209.7,804.2L211.4,805.5L231.7,781L274.2,736.3L327.6,682.1L385.6,624L384,622.8L325.8,680.9L272.5,735.1L229.9,779.8Z" fill="#5a00ff" stroke="#5a00ff"/><path d="M211.4,805.5L213.1,806.7L233.4,782.2L276,737.5L329.3,683.3L387.3,625.2L385.6,624L327.6,682.1L274.2,736.3L231.7,781Z" fill="#5200ff" stroke="#5200ff"/><path d="M213.1,806.7L214.8,807.9L235.1,783.4L277.7,738.7L330.9,684.5L388.9,626.4L387.3,625.2L329.3,683.3L276,737.5L233.4,782.2Z" fill="#4a00ff" stroke="#4a00ff"/><path d="M214.8,807.9L216.5,809.1L236.8,784.6L279.4,739.9L332.6,685.7L390.5,627.6L388.9,626.4L330.9,684.5L277.7,738.7L235.1,783.4Z" fill="#4200ff" stroke="#4200ff"/><path d="M216.5,809.1L218.2,810.3L238.5,785.8L281,741.1L334.2,686.8L392,628.7L390.5,627.6L332.6,685.7L279.4,739.9L236.8,784.6Z" fill="#3a00ff" stroke="#3a00ff"/><path d="M218.2,810.3L219.9,811.5L240.2,787L282.6,742.3L335.8,688L393.5,629.8L392,628.7L334.2,686.8L281,741.1L238.5,785.8Z" fill="#3200ff" stroke="#3200ff"/><path d="M219.9,811.5L221.5,812.7L241.8,788.2L284.2,743.4L337.3,689.1L395,630.9L393.5,629.8L335.8,688L282.6,742.3L240.2,787Z" fill="#2a00ff" stroke="#2a00ff"/><path d="M221.5,812.7L223.2,813.9L243.5,789.4L285.8,744.6L338.8,690.2L396.4,631.9L395,630.9L337.3,689.1L284.2,743.4L241.8,788.2Z" fill="#20f" stroke="#20f"/><path d="M223.2,813.9L224.8,815.1L245.1,790.6L287.4,745.7L340.3,691.3L397.8,633L396.4,631.9L338.8,690.2L285.8,744.6L243.5,789.4Z" fill="#1a00ff" stroke="#1a00ff"/><path d="M224.8,815.1L226.4,816.3L246.7,791.8L288.9,746.9L341.7,692.3L399.1,633.9L397.8,633L340.3,691.3L287.4,745.7L245.1,790.6Z" fill="#1200ff" stroke="#1200ff"/><path d="M226.4,816.3L228.1,817.6L248.2,793L290.4,748L343.1,693.4L400.5,634.9L399.1,633.9L341.7,692.3L288.9,746.9L246.7,791.8Z" fill="#0a00ff" stroke="#0a00ff"/><path d="M228.1,817.6L229.7,818.8L249.8,794.2L291.8,749.1L344.5,694.4L401.7,635.8L400.5,634.9L343.1,693.4L290.4,748L248.2,793Z" fill="#0200ff" stroke="#0200ff"/><path d="M229.7,818.8L231.2,820.1L251.3,795.4L293.2,750.2L345.7,695.4L402.9,636.6L401.7,635.8L344.5,694.4L291.8,749.1L249.8,794.2Z" fill="#0006ff" stroke="#0006ff"/><path d="M231.2,820.1L232.8,821.4L252.7,796.6L294.6,751.3L347,696.3L404,637.5L402.9,636.6L345.7,695.4L293.2,750.2L251.3,795.4Z" fill="#000eff" stroke="#000eff"/><path d="M232.8,821.4L234.3,822.7L254.2,797.8L295.9,752.4L348.2,697.3L405.1,638.3L404,637.5L347,696.3L294.6,751.3L252.7,796.6Z" fill="#0016ff" stroke="#0016ff"/><path d="M234.3,822.7L235.8,824L255.6,799L297.2,753.5L349.3,698.2L406.1,639L405.1,638.3L348.2,697.3L295.9,752.4L254.2,797.8Z" fill="#001eff" stroke="#001eff"/><path d="M235.8,824L237.3,825.3L256.9,800.2L298.4,754.5L350.4,699.1L407.1,639.7L406.1,639L349.3,698.2L297.2,753.5L255.6,799Z" fill="#0026ff" stroke="#0026ff"/><path d="M237.3,825.3L238.8,826.5L258.3,801.4L299.6,755.6L351.5,700L408,640.4L407.1,639.7L350.4,699.1L298.4,754.5L256.9,800.2Z" fill="#002eff" stroke="#002eff"/><path d="M238.8,826.5L240.3,827.8L259.7,802.6L300.8,756.6L352.6,700.8L409,641.1L408,640.4L351.5,700L299.6,755.6L258.3,801.4Z" fill="#0036ff" stroke="#0036ff"/><path d="M240.3,827.8L241.8,829.1L261,803.8L302,757.6L353.6,701.7L409.9,641.8L409,641.1L352.6,700.8L300.8,756.6L259.7,802.6Z" fill="#003eff" stroke="#003eff"/><path d="M241.8,829.1L243.2,830.3L262.3,804.9L303.2,758.6L354.6,702.5L410.8,642.4L409.9,641.8L353.6,701.7L302,757.6L261,803.8Z" fill="#0046ff" stroke="#0046ff"/><path d="M243.2,830.3L244.6,831.6L263.6,806.1L304.4,759.6L355.7,703.3L411.7,643.1L410.8,642.4L354.6,702.5L303.2,758.6L262.3,804.9Z" fill="#004eff" stroke="#004eff"/><path d="M244.6,831.6L246.1,832.8L264.9,807.2L305.5,760.6L356.7,704.1L412.5,643.7L411.7,643.1L355.7,703.3L304.4,759.6L263.6,806.1Z" fill="#0056ff" stroke="#0056ff"/><path d="M246.1,832.8L247.5,834L266.2,808.3L306.7,761.6L357.7,704.9L413.4,644.4L412.5,643.7L356.7,704.1L305.5,760.6L264.9,807.2Z" fill="#005eff" stroke="#005eff"/><path d="M247.5,834L248.9,835.2L267.5,809.4L307.8,762.5L358.7,705.7L414.2,645L413.4,644.4L357.7,704.9L306.7,761.6L266.2,808.3Z" fill="#06f" stroke="#06f"/><path d="M248.9,835.2L250.4,836.3L268.8,810.4L308.9,763.4L359.7,706.5L415.1,645.6L414.2,645L358.7,705.7L307.8,762.5L267.5,809.4Z" fill="#006eff" stroke="#006eff"/><path d="M250.4,836.3L251.8,837.4L270.1,811.5L310.1,764.4L360.7,707.3L416,646.2L415.1,645.6L359.7,706.5L308.9,763.4L268.8,810.4Z" fill="#0076ff" stroke="#0076ff"/><path d="M251.8,837.4L253.2,838.6L271.4,812.5L311.2,765.3L361.7,708.1L416.8,646.9L416,646.2L360.7,707.3L310.1,764.4L270.1,811.5Z" fill="#007eff" stroke="#007eff"/><path d="M253.2,838.6L254.7,839.6L272.6,813.5L312.4,766.1L362.7,708.8L417.7,647.5L416.8,646.9L361.7,708.1L311.2,765.3L271.4,812.5Z" fill="#0086ff" stroke="#0086ff"/><path d="M254.7,839.6L256.1,840.7L273.9,814.5L313.5,767L363.7,709.6L418.6,648.1L417.7,647.5L362.7,708.8L312.4,766.1L272.6,813.5Z" fill="#008eff" stroke="#008eff"/><path d="M256.1,840.7L257.5,841.7L275.3,815.4L314.7,767.9L364.7,710.3L419.5,648.8L418.6,648.1L363.7,709.6L313.5,767L273.9,814.5Z" fill="#0096ff" stroke="#0096ff"/><path d="M257.5,841.7L259,842.8L276.6,816.4L315.9,768.7L365.7,711.1L420.3,649.4L419.5,648.8L364.7,710.3L314.7,767.9L275.3,815.4Z" fill="#009eff" stroke="#009eff"/><path d="M259,842.8L260.5,843.8L277.9,817.4L317.1,769.6L366.8,711.9L421.2,650.1L420.3,649.4L365.7,711.1L315.9,768.7L276.6,816.4Z" fill="#00a6ff" stroke="#00a6ff"/><path d="M260.5,843.8L262,844.9L279.3,818.3L318.3,770.5L367.8,712.6L422.2,650.8L421.2,650.1L366.8,711.9L317.1,769.6L277.9,817.4Z" fill="#00aeff" stroke="#00aeff"/><path d="M262,844.9L263.5,845.9L280.6,819.3L319.5,771.4L368.9,713.4L423.1,651.5L422.2,650.8L367.8,712.6L318.3,770.5L279.3,818.3Z" fill="#00b6ff" stroke="#00b6ff"/><path d="M263.5,845.9L265,847L282.1,820.3L320.8,772.3L370,714.2L424.1,652.2L423.1,651.5L368.9,713.4L319.5,771.4L280.6,819.3Z" fill="#00beff" stroke="#00beff"/><path d="M265,847L266.6,848L283.5,821.3L322,773.2L371.1,715L425.1,652.9L424.1,652.2L370,714.2L320.8,772.3L282.1,820.3Z" fill="#00c6ff" stroke="#00c6ff"/><path d="M266.6,848L268.2,849.1L285,822.3L323.4,774.1L372.4,715.9L426.1,653.7L425.1,652.9L371.1,715L322,773.2L283.5,821.3Z" fill="#00ceff" stroke="#00ceff"/><path d="M268.2,849.1L269.8,850.2L280.8,831L307.8,796L343.4,752.6L384.1,704.5L427.2,654.5L426.1,653.7L372.4,715.9L323.4,774.1L285,822.3Z" fill="#00d6ff" stroke="#00d6ff"/><path d="M269.8,850.2L271.5,851.3L282.4,832.1L309.2,797L344.8,753.5L385.3,705.4L428.4,655.3L427.2,654.5L384.1,704.5L343.4,752.6L307.8,796L280.8,831Z" fill="#00deff" stroke="#00deff"/><path d="M271.5,851.3L273.3,852.5L284.1,833.2L310.8,798.1L346.2,754.5L386.7,706.4L429.6,656.3L428.4,655.3L385.3,705.4L344.8,753.5L309.2,797L282.4,832.1Z" fill="#00e6ff" stroke="#00e6ff"/><path d="M273.3,852.5L275.1,853.7L285.8,834.3L312.5,799.2L347.8,755.6L388.2,707.4L431,657.3L429.6,656.3L386.7,706.4L346.2,754.5L310.8,798.1L284.1,833.2Z" fill="#0ef" stroke="#0ef"/><path d="M275.1,853.7L276.9,854.9L287.6,835.5L314.2,800.4L349.5,756.7L389.7,708.5L432.5,658.4L431,657.3L388.2,707.4L347.8,755.6L312.5,799.2L285.8,834.3Z" fill="#00f6ff" stroke="#00f6ff"/><path d="M276.9,854.9L278.9,856.2L289.6,836.8L316.2,801.7L351.4,758.1L391.7,709.9L434.3,659.8L432.5,658.4L389.7,708.5L349.5,756.7L314.2,800.4L287.6,835.5Z" fill="#00feff" stroke="#00feff"/><path d="M278.9,856.2L281,857.5L291.7,838.2L318.3,803.1L353.5,759.6L393.6,711.4L436.3,661.4L434.3,659.8L391.7,709.9L351.4,758.1L316.2,801.7L289.6,836.8Z" fill="#00fff8" stroke="#00fff8"/><path d="M281,857.5L283.1,858.9L293.9,839.7L320.5,804.6L355.6,761.1L395.8,713L438.3,663.1L436.3,661.4L393.6,711.4L353.5,759.6L318.3,803.1L291.7,838.2Z" fill="#00fff0" stroke="#00fff0"/><path d="M283.1,858.9L285.4,860.4L301.8,833.5L339.5,785.2L387.7,727L440.5,664.8L438.3,663.1L395.8,713L355.6,761.1L320.5,804.6L293.9,839.7Z" fill="#00ffe8" stroke="#00ffe8"/><path d="M285.4,860.4L287.7,861.9L304.2,835L341.9,786.8L390,728.7L442.7,666.6L440.5,664.8L387.7,727L339.5,785.2L301.8,833.5Z" fill="#00ffe0" stroke="#00ffe0"/><path d="M287.7,861.9L290.2,863.5L306.7,836.7L344.4,788.5L392.5,730.3L445.1,668.2L442.7,666.6L390,728.7L341.9,786.8L304.2,835Z" fill="#00ffd8" stroke="#00ffd8"/><path d="M290.2,863.5L292.8,865.1L309.3,838.3L347.1,790L395,731.8L447.6,669.7L445.1,668.2L392.5,730.3L344.4,788.5L306.7,836.7Z" fill="#00ffd0" stroke="#00ffd0"/><path d="M292.8,865.1L295.5,866.8L312.1,840L349.8,791.6L397.8,733.3L450.3,671L447.6,669.7L395,731.8L347.1,790L309.3,838.3Z" fill="#00ffc8" stroke="#00ffc8"/><path d="M295.5,866.8L298.3,868.6L315,841.7L352.7,793.2L400.6,734.7L453.1,672.2L450.3,671L397.8,733.3L349.8,791.6L312.1,840Z" fill="#00ffc0" stroke="#00ffc0"/><path d="M298.3,868.6L301.2,870.4L318,843.5L355.8,794.9L403.7,736.2L456.1,673.5L453.1,672.2L400.6,734.7L352.7,793.2L315,841.7Z" fill="#00ffb8" stroke="#00ffb8"/><path d="M301.2,870.4L304.2,872.3L321.2,845.4L359,796.6L406.9,737.7L459.3,674.7L456.1,673.5L403.7,736.2L355.8,794.9L318,843.5Z" fill="#00ffb0" stroke="#00ffb0"/><path d="M304.2,872.3L307.4,874.3L324.5,847.3L362.4,798.4L410.3,739.3L462.7,676L459.3,674.7L406.9,737.7L359,796.6L321.2,845.4Z" fill="#00ffa8" stroke="#00ffa8"/><path d="M307.4,874.3L310.5,876.3L327.9,849.3L365.9,800.3L413.9,740.9L466.4,677.4L462.7,676L410.3,739.3L362.4,798.4L324.5,847.3Z" fill="#00ffa0" stroke="#00ffa0"/><path d="M310.5,876.3L313.8,878.4L331.4,851.4L369.6,802.2L417.7,742.5L470.2,678.7L466.4,677.4L413.9,740.9L365.9,800.3L327.9,849.3Z" fill="#00ff98" stroke="#00ff98"/><path d="M313.8,878.4L317,880.5L335,853.5L373.4,804.1L421.7,744.2L474.3,680.1L470.2,678.7L417.7,742.5L369.6,802.2L331.4,851.4Z" fill="#00ff90" stroke="#00ff90"/><path d="M317,880.5L320.2,882.5L350,840.8L409,766.7L478.6,681.5L474.3,680.1L421.7,744.2L373.4,804.1L335,853.5Z" fill="#0f8" stroke="#0f8"/><path d="M320.2,882.5L323.4,884.5L353.8,842.9L413.2,768.6L483.1,682.9L478.6,681.5L409,766.7L350,840.8Z" fill="#00ff80" stroke="#00ff80"/><path d="M323.4,884.5L326.4,886.5L357.6,844.9L417.4,770.4L487.7,684.3L483.1,682.9L413.2,768.6L353.8,842.9Z" fill="#00ff78" stroke="#00ff78"/><path d="M326.4,886.5L329.4,888.5L361.3,847L421.7,772.2L492.3,685.8L487.7,684.3L417.4,770.4L357.6,844.9Z" fill="#00ff70" stroke="#00ff70"/><path d="M329.4,888.5L332.3,890.4L393.4,814L496.8,687.4L492.3,685.8L421.7,772.2L361.3,847Z" fill="#00ff68" stroke="#00ff68"/><path d="M332.3,890.4L335.1,892.2L501.2,689.3L496.8,687.4L393.4,814Z" fill="#00ff60" stroke="#00ff60"/><path d="M335.1,892.2L337.7,894.1L505.4,691.4L501.2,689.3Z" fill="#00ff58" stroke="#00ff58"/><path d="M337.7,894.1L340.3,895.8L404.3,820.2L509.4,693.6L505.4,691.4Z" fill="#00ff50" stroke="#00ff50"/><path d="M340.3,895.8L342.7,897.5L407.6,822.3L513.2,695.9L509.4,693.6L404.3,820.2Z" fill="#00ff48" stroke="#00ff48"/><path d="M342.7,897.5L345.1,899.1L381.1,858.9L444.3,784.6L516.7,698L513.2,695.9L407.6,822.3Z" fill="#00ff40" stroke="#00ff40"/><path d="M345.1,899.1L347.3,900.7L383.9,860.7L447.4,786.5L520,700.1L516.7,698L444.3,784.6L381.1,858.9Z" fill="#00ff38" stroke="#00ff38"/><path d="M347.3,900.7L349.4,902.2L386.6,862.4L450.3,788.3L523.2,702L520,700.1L447.4,786.5L383.9,860.7Z" fill="#00ff30" stroke="#00ff30"/><path d="M349.4,902.2L351.5,903.7L389.1,864L453.1,790.1L526.1,703.8L523.2,702L450.3,788.3L386.6,862.4Z" fill="#00ff28" stroke="#00ff28"/><path d="M351.5,903.7L353.5,905.1L391.5,865.6L455.8,791.7L528.9,705.5L526.1,703.8L453.1,790.1L389.1,864Z" fill="#00ff20" stroke="#00ff20"/><path d="M353.5,905.1L355.3,906.5L380.6,881.6L424.1,832.7L476.2,772.3L531.6,707L528.9,705.5L455.8,791.7L391.5,865.6Z" fill="#00ff18" stroke="#00ff18"/><path d="M355.3,906.5L357.2,907.9L382.7,883L426.5,834.2L478.7,773.7L534.1,708.3L531.6,707L476.2,772.3L424.1,832.7L380.6,881.6Z" fill="#00ff10" stroke="#00ff10"/><path d="M357.2,907.9L358.9,909.2L384.7,884.4L428.6,835.5L481,775L536.5,709.5L534.1,708.3L478.7,773.7L426.5,834.2L382.7,883Z" fill="#00ff08" stroke="#00ff08"/><path d="M358.9,909.2L360.6,910.5L386.7,885.8L430.8,836.9L483.2,776.3L538.9,710.7L536.5,709.5L481,775L428.6,835.5L384.7,884.4Z" fill="#0f0" stroke="#0f0"/><path d="M360.6,910.5L362.1,911.6L388.4,887L432.6,838L485.2,777.4L540.9,711.7L538.9,710.7L483.2,776.3L430.8,836.9L386.7,885.8Z" fill="#08ff00" stroke="#08ff00"/><path d="M362.1,911.6L363.5,912.8L390.1,888.1L434.4,839.2L487.1,778.4L542.9,712.6L540.9,711.7L485.2,777.4L432.6,838L388.4,887Z" fill="#10ff00" stroke="#10ff00"/><path d="M363.5,912.8L364.9,913.8L391.6,889.2L436.1,840.2L488.8,779.4L544.7,713.5L542.9,712.6L487.1,778.4L434.4,839.2L390.1,888.1Z" fill="#18ff00" stroke="#18ff00"/><path d="M364.9,913.8L366.1,914.8L393,890.3L437.6,841.2L490.5,780.3L546.5,714.3L544.7,713.5L488.8,779.4L436.1,840.2L391.6,889.2Z" fill="#20ff00" stroke="#20ff00"/><path d="M366.1,914.8L367.3,915.8L394.4,891.3L439.2,842.2L492.1,781.2L548.1,715.1L546.5,714.3L490.5,780.3L437.6,841.2L393,890.3Z" fill="#28ff00" stroke="#28ff00"/><path d="M367.3,915.8L368.5,916.8L395.7,892.3L440.6,843.2L493.7,782.1L549.7,715.9L548.1,715.1L492.1,781.2L439.2,842.2L394.4,891.3Z" fill="#30ff00" stroke="#30ff00"/><path d="M368.5,916.8L369.6,917.7L397,893.2L442,844.1L495.1,783L551.3,716.6L549.7,715.9L493.7,782.1L440.6,843.2L395.7,892.3Z" fill="#38ff00" stroke="#38ff00"/><path d="M369.6,917.7L370.7,918.6L390.9,901.7L424,866.6L464,821.5L507.7,770.8L552.8,717.4L551.3,716.6L495.1,783L442,844.1L397,893.2Z" fill="#40ff00" stroke="#40ff00"/><path d="M370.7,918.6L371.7,919.6L392.1,902.7L425.3,867.6L465.4,822.4L509.2,771.6L554.3,718.1L552.8,717.4L507.7,770.8L464,821.5L424,866.6L390.9,901.7Z" fill="#48ff00" stroke="#48ff00"/><path d="M371.7,919.6L372.7,920.4L393.2,903.6L426.5,868.5L466.7,823.3L510.6,772.4L555.7,718.9L554.3,718.1L509.2,771.6L465.4,822.4L425.3,867.6L392.1,902.7Z" fill="#50ff00" stroke="#50ff00"/><path d="M372.7,920.4L373.7,921.3L394.3,904.5L427.8,869.4L468,824.2L511.9,773.3L557.2,719.6L555.7,718.9L510.6,772.4L466.7,823.3L426.5,868.5L393.2,903.6Z" fill="#58ff00" stroke="#58ff00"/><path d="M373.7,921.3L374.7,922.2L395.5,905.4L429,870.3L469.3,825.1L513.3,774.1L558.6,720.4L557.2,719.6L511.9,773.3L468,824.2L427.8,869.4L394.3,904.5Z" fill="#60ff00" stroke="#60ff00"/><path d="M374.7,922.2L375.7,923.1L396.6,906.3L430.2,871.2L470.6,826L514.6,774.9L560,721.2L558.6,720.4L513.3,774.1L469.3,825.1L429,870.3L395.5,905.4Z" fill="#68ff00" stroke="#68ff00"/><path d="M375.7,923.1L376.6,924L397.7,907.3L431.4,872.1L471.9,826.8L516,775.8L561.3,722L560,721.2L514.6,774.9L470.6,826L430.2,871.2L396.6,906.3Z" fill="#70ff00" stroke="#70ff00"/><path d="M376.6,924L377.5,924.9L398.7,908.2L432.5,873L473.1,827.8L517.3,776.7L562.7,722.8L561.3,722L516,775.8L471.9,826.8L431.4,872.1L397.7,907.3Z" fill="#78ff00" stroke="#78ff00"/><path d="M377.5,924.9L378.5,925.7L399.8,909.1L433.7,874L474.4,828.7L518.6,777.5L564.1,723.7L562.7,722.8L517.3,776.7L473.1,827.8L432.5,873L398.7,908.2Z" fill="#80ff00" stroke="#80ff00"/><path d="M378.5,925.7L379.4,926.6L400.9,910L434.9,874.9L475.6,829.6L519.9,778.4L565.4,724.5L564.1,723.7L518.6,777.5L474.4,828.7L433.7,874L399.8,909.1Z" fill="#8f0" stroke="#8f0"/><path d="M379.4,926.6L380.3,927.4L401.9,910.9L436,875.8L476.9,830.5L521.2,779.4L566.7,725.5L565.4,724.5L519.9,778.4L475.6,829.6L434.9,874.9L400.9,910Z" fill="#90ff00" stroke="#90ff00"/><path d="M380.3,927.4L381.2,928.3L403,911.8L437.2,876.8L478.1,831.5L522.5,780.3L568.1,726.4L566.7,725.5L521.2,779.4L476.9,830.5L436,875.8L401.9,910.9Z" fill="#98ff00" stroke="#98ff00"/><path d="M381.2,928.3L382.1,929.2L404,912.7L438.3,877.7L479.3,832.4L523.8,781.3L569.4,727.3L568.1,726.4L522.5,780.3L478.1,831.5L437.2,876.8L403,911.8Z" fill="#a0ff00" stroke="#a0ff00"/><path d="M382.1,929.2L383,930L405,913.6L439.5,878.7L480.6,833.4L525.1,782.3L570.8,728.3L569.4,727.3L523.8,781.3L479.3,832.4L438.3,877.7L404,912.7Z" fill="#a8ff00" stroke="#a8ff00"/><path d="M383,930L383.9,930.9L406.1,914.6L440.6,879.6L481.8,834.4L526.4,783.3L572.2,729.3L570.8,728.3L525.1,782.3L480.6,833.4L439.5,878.7L405,913.6Z" fill="#b0ff00" stroke="#b0ff00"/><path d="M383.9,930.9L384.8,931.8L407.1,915.5L441.8,880.6L483.1,835.4L527.7,784.3L573.5,730.4L572.2,729.3L526.4,783.3L481.8,834.4L440.6,879.6L406.1,914.6Z" fill="#b8ff00" stroke="#b8ff00"/><path d="M384.8,931.8L385.7,932.7L408.2,916.4L443,881.6L484.3,836.4L529.1,785.4L574.9,731.5L573.5,730.4L527.7,784.3L483.1,835.4L441.8,880.6L407.1,915.5Z" fill="#c0ff00" stroke="#c0ff00"/><path d="M385.7,932.7L386.6,933.5L409.2,917.4L444.1,882.6L485.6,837.5L530.4,786.4L576.3,732.6L574.9,731.5L529.1,785.4L484.3,836.4L443,881.6L408.2,916.4Z" fill="#c8ff00" stroke="#c8ff00"/><path d="M386.6,933.5L387.4,934.4L410.3,918.4L445.3,883.6L486.9,838.6L531.8,787.6L577.8,733.7L576.3,732.6L530.4,786.4L485.6,837.5L444.1,882.6L409.2,917.4Z" fill="#d0ff00" stroke="#d0ff00"/><path d="M387.4,934.4L388.3,935.3L406.5,923.7L433.9,897.7L466.8,863.1L503,823.1L540.8,779.9L579.2,734.9L577.8,733.7L531.8,787.6L486.9,838.6L445.3,883.6L410.3,918.4Z" fill="#d8ff00" stroke="#d8ff00"/><path d="M388.3,935.3L389.2,936.3L407.5,924.7L435.1,898.7L468.1,864.2L504.3,824.3L542.3,781.1L580.7,736.1L579.2,734.9L540.8,779.9L503,823.1L466.8,863.1L433.9,897.7L406.5,923.7Z" fill="#e0ff00" stroke="#e0ff00"/><path d="M389.2,936.3L390.1,937.2L408.6,925.7L436.3,899.8L469.4,865.4L505.7,825.5L543.7,782.3L582.2,737.4L580.7,736.1L542.3,781.1L504.3,824.3L468.1,864.2L435.1,898.7L407.5,924.7Z" fill="#e8ff00" stroke="#e8ff00"/><path d="M390.1,937.2L391,938.1L409.6,926.7L437.5,900.9L470.7,866.5L507.2,826.7L545.3,783.6L583.8,738.7L582.2,737.4L543.7,782.3L505.7,825.5L469.4,865.4L436.3,899.8L408.6,925.7Z" fill="#f0ff00" stroke="#f0ff00"/><path d="M391,938.1L391.8,939L410.7,927.7L438.7,902L472.1,867.7L508.7,828L546.9,784.9L585.5,740.2L583.8,738.7L545.3,783.6L507.2,826.7L470.7,866.5L437.5,900.9L409.6,926.7Z" fill="#f8ff00" stroke="#f8ff00"/><path d="M391.8,939L392.7,939.9L411.8,928.7L440,903.1L473.5,868.9L510.2,829.3L548.5,786.4L587.2,741.7L585.5,740.2L546.9,784.9L508.7,828L472.1,867.7L438.7,902L410.7,927.7Z" fill="#fffe00" stroke="#fffe00"/><path d="M392.7,939.9L393.5,940.8L412.8,929.7L441.2,904.2L474.9,870.2L511.7,830.7L550.1,787.8L588.9,743.3L587.2,741.7L548.5,786.4L510.2,829.3L473.5,868.9L440,903.1L411.8,928.7Z" fill="#fff600" stroke="#fff600"/><path d="M393.5,940.8L394.3,941.7L413.9,930.7L442.4,905.3L476.3,871.4L513.2,832L551.7,789.3L590.6,744.9L588.9,743.3L550.1,787.8L511.7,830.7L474.9,870.2L441.2,904.2L412.8,929.7Z" fill="#fe0" stroke="#fe0"/><path d="M394.3,941.7L395.1,942.6L414.9,931.7L443.7,906.4L477.7,872.7L514.7,833.4L553.3,790.8L592.3,746.5L590.6,744.9L551.7,789.3L513.2,832L476.3,871.4L442.4,905.3L413.9,930.7Z" fill="#ffe600" stroke="#ffe600"/><path d="M395.1,942.6L395.9,943.4L415.9,932.7L444.9,907.5L479,873.9L516.2,834.8L554.9,792.3L593.9,748.1L592.3,746.5L553.3,790.8L514.7,833.4L477.7,872.7L443.7,906.4L414.9,931.7Z" fill="#ffde00" stroke="#ffde00"/><path d="M395.9,943.4L396.7,944.3L416.9,933.6L446,908.6L480.3,875.1L517.6,836.1L556.3,793.7L595.4,749.6L593.9,748.1L554.9,792.3L516.2,834.8L479,873.9L444.9,907.5L415.9,932.7Z" fill="#ffd600" stroke="#ffd600"/><path d="M396.7,944.3L397.5,945.2L417.9,934.6L447.1,909.7L481.5,876.3L518.9,837.4L557.8,795.1L597,751.2L595.4,749.6L556.3,793.7L517.6,836.1L480.3,875.1L446,908.6L416.9,933.6Z" fill="#ffce00" stroke="#ffce00"/><path d="M397.5,945.2L398.3,946L418.8,935.6L448.2,910.7L482.7,877.4L520.2,838.6L559.1,796.5L598.3,752.6L597,751.2L557.8,795.1L518.9,837.4L481.5,876.3L447.1,909.7L417.9,934.6Z" fill="#ffc600" stroke="#ffc600"/><path d="M398.3,946L399,946.9L419.8,936.5L449.2,911.8L483.8,878.5L521.4,839.8L560.4,797.8L599.6,754L598.3,752.6L559.1,796.5L520.2,838.6L482.7,877.4L448.2,910.7L418.8,935.6Z" fill="#ffbe00" stroke="#ffbe00"/><path d="M399,946.9L399.3,947.2L430.2,932.3L447.5,917.2L479,887.1L517,847.9L558.4,803.1L600.9,755.3L599.6,754L560.4,797.8L521.4,839.8L483.8,878.5L449.2,911.8L419.8,936.5Z" fill="#ffb600" stroke="#ffb600"/><path d="M430.2,932.3L463.4,905.6L491.9,877.1L542.9,822.8L601.9,756.5L600.9,755.3L558.4,803.1L517,847.9L479,887.1L447.5,917.2Z" fill="#ffae00" stroke="#ffae00"/><path d="M463.4,905.6L492.5,879.4L514.3,856.5L554.7,812.4L603,757.6L601.9,756.5L542.9,822.8L491.9,877.1Z" fill="#ffa600" stroke="#ffa600"/><path d="M492.5,879.4L519,854.1L549.5,820.8L604,758.8L603,757.6L554.7,812.4L514.3,856.5Z" fill="#ff9e00" stroke="#ff9e00"/><path d="M519,854.1L543.5,829.9L565,805.7L605,759.9L604,758.8L549.5,820.8Z" fill="#ff9600" stroke="#ff9600"/><path d="M543.5,829.9L566.3,806.6L605.9,760.9L605,759.9L565,805.7Z" fill="#ff8e00" stroke="#ff8e00"/><path d="M566.3,806.6L587.6,784.3L606.8,762L605.9,760.9Z" fill="#ff8600" stroke="#ff8600"/><path d="M587.6,784.3L607.7,763L607.7,763L606.8,762Z" fill="#ff7e00" stroke="#ff7e00"/></g><g stroke-width="0.6" stroke-linejoin="round"><path d="M612.3,769.9L616.5,764.4L581.1,801L545.6,836.2L510.8,869L477.4,898.3L446.6,922.7L419.8,939.9L401.4,946.8L399.3,947.2L401.1,947.2L421.3,941.5L447.4,924.7L477.3,901L509.6,872.4L543.4,840.3L577.8,805.8Z" fill="#dba300" stroke="#dba300"/><path d="M608.1,775.5L612.3,769.9L577.8,805.8L543.4,840.3L509.6,872.4L477.3,901L447.4,924.7L421.3,941.5L401.1,947.2L403,947.2L422.6,941.8L447.9,925.7L476.8,902.8L508.1,875.1L540.9,844L574.5,810.5Z" fill="#efbd00" stroke="#efbd00"/><path d="M603.8,781.2L608.1,775.5L574.5,810.5L540.9,844L508.1,875.1L476.8,902.8L447.9,925.7L422.6,941.8L403,947.2L405,947.3L424,942.1L448.3,926.6L476.3,904.5L506.7,877.8L538.5,847.7L571.1,815.2Z" fill="#efc800" stroke="#efc800"/><path d="M616.5,764.4L620.6,758.9L569.8,810.2L522.1,855.5L482.2,890.6L460.4,908.2L401.4,946.8L419.8,939.9L446.6,922.7L477.4,898.3L510.8,869L545.6,836.2L581.1,801Z" fill="#ffb100" stroke="#ffb100"/><path d="M599.5,787L603.8,781.2L571.1,815.2L538.5,847.7L506.7,877.8L476.3,904.5L448.3,926.6L424,942.1L405,947.3L406.9,947.3L425.3,942.4L448.8,927.5L475.9,906.3L505.2,880.6L536,851.5L567.6,820Z" fill="#efd400" stroke="#efd400"/><path d="M595.1,792.8L599.5,787L567.6,820L536,851.5L505.2,880.6L475.9,906.3L448.8,927.5L425.3,942.4L406.9,947.3L408.9,947.3L426.7,942.6L449.4,928.4L475.4,908.1L503.7,883.3L533.5,855.3L564.2,824.8Z" fill="#efdf00" stroke="#efdf00"/><path d="M590.7,798.8L595.1,792.8L564.2,824.8L533.5,855.3L503.7,883.3L475.4,908.1L449.4,928.4L426.7,942.6L408.9,947.3L410.9,947.3L428,942.9L449.9,929.3L475,909.9L502.3,886.1L531,859.1L560.7,829.7Z" fill="#efeb00" stroke="#efeb00"/><path d="M586.1,804.8L590.7,798.8L560.7,829.7L531,859.1L502.3,886.1L475,909.9L449.9,929.3L428,942.9L410.9,947.3L412.9,947.4L429.5,943.2L450.5,930.3L474.5,911.7L500.8,888.9L528.5,863L557.1,834.7Z" fill="#e8ef00" stroke="#e8ef00"/><path d="M581.5,810.9L586.1,804.8L557.1,834.7L528.5,863L500.8,888.9L474.5,911.7L450.5,930.3L429.5,943.2L412.9,947.4L415,947.4L430.9,943.5L451,931.2L474.1,913.5L499.3,891.7L526,866.9L553.5,839.7Z" fill="#ddef00" stroke="#ddef00"/><path d="M576.9,817.2L581.5,810.9L553.5,839.7L526,866.9L499.3,891.7L474.1,913.5L451,931.2L430.9,943.5L415,947.4L417.1,947.4L432.4,943.8L451.6,932.1L473.7,915.3L497.9,894.5L523.4,870.8L549.9,844.8Z" fill="#d1ef00" stroke="#d1ef00"/><path d="M572.1,823.5L576.9,817.2L549.9,844.8L523.4,870.8L497.9,894.5L473.7,915.3L451.6,932.1L432.4,943.8L417.1,947.4L419.2,947.5L433.9,944.1L452.3,933L473.3,917.1L496.4,897.4L520.8,874.8L546.2,850Z" fill="#c6ef00" stroke="#c6ef00"/><path d="M567.3,829.9L572.1,823.5L546.2,850L520.8,874.8L496.4,897.4L473.3,917.1L452.3,933L433.9,944.1L419.2,947.5L421.3,947.5L438,943L459.3,929.4L483.7,910L510.3,886.2L538.4,859.3Z" fill="#baef00" stroke="#baef00"/><path d="M562.4,836.4L567.3,829.9L538.4,859.3L510.3,886.2L483.7,910L459.3,929.4L438,943L421.3,947.5L423.4,947.5L439.4,943.4L459.6,930.6L482.8,912.4L508,889.9L534.8,864.4Z" fill="#afef00" stroke="#afef00"/><path d="M557.4,843.1L562.4,836.4L534.8,864.4L508,889.9L482.8,912.4L459.6,930.6L439.4,943.4L423.4,947.5L425.5,947.5L440.7,943.8L459.8,931.9L481.8,914.7L505.7,893.6L531.1,869.5Z" fill="#a3ef00" stroke="#a3ef00"/><path d="M552.4,849.8L557.4,843.1L531.1,869.5L505.7,893.6L481.8,914.7L459.8,931.9L440.7,943.8L425.5,947.5L427.6,947.6L442,944.1L460.1,933.1L480.8,917.1L503.4,897.4L527.4,874.7Z" fill="#98ef00" stroke="#98ef00"/><path d="M620.6,758.9L621.5,757.6L618.7,758.7L568.5,808.8L526.7,848.3L504.1,868.5L460.4,908.2L482.2,890.6L522.1,855.5L569.8,810.2Z" fill="#986300" stroke="#986300"/><path d="M547.3,856.6L552.4,849.8L527.4,874.7L503.4,897.4L480.8,917.1L460.1,933.1L442,944.1L427.6,947.6L429.7,947.6L443.4,944.5L460.4,934.3L479.8,919.5L501.1,901.2L523.7,880Z" fill="#8cef00" stroke="#8cef00"/><path d="M542,863.6L547.3,856.6L523.7,880L501.1,901.2L479.8,919.5L460.4,934.3L443.4,944.5L429.7,947.6L432,947.6L444.8,944.9L460.7,935.6L478.9,921.9L498.8,905L520,885.3Z" fill="#81ef00" stroke="#81ef00"/><path d="M618.7,758.7L615,760.2L567.9,806.7L542.3,831L504.1,868.5L526.7,848.3L568.5,808.8Z" fill="#b36c00" stroke="#b36c00"/><path d="M536.7,870.6L542,863.6L520,885.3L498.8,905L478.9,921.9L460.7,935.6L444.8,944.9L432,947.6L434.3,947.6L446.4,945.2L461.2,936.8L478.1,924.4L496.5,908.8L516.2,890.7Z" fill="#76ef00" stroke="#76ef00"/><path d="M531.3,877.8L536.7,870.6L516.2,890.7L496.5,908.8L478.1,924.4L461.2,936.8L446.4,945.2L434.3,947.6L437,947.7L448.2,945.6L461.8,938L477.3,926.8L494.3,912.7L512.4,896.2Z" fill="#6aef00" stroke="#6aef00"/><path d="M525.9,885.1L531.3,877.8L512.4,896.2L494.3,912.7L477.3,926.8L461.8,938L448.2,945.6L437,947.7L440.1,947.7L452.7,944.9L468.2,935.5L485.9,921.9L505.2,904.8Z" fill="#5fef00" stroke="#5fef00"/><path d="M615,760.2L611.3,761.6L576.6,795.9L542.3,831L567.9,806.7Z" fill="#be6900" stroke="#be6900"/><path d="M520.3,892.5L525.9,885.1L505.2,904.8L485.9,921.9L468.2,935.5L452.7,944.9L440.1,947.7L443.6,947.8L454.9,945.4L468.7,937.2L484.5,925.1L501.8,910.1Z" fill="#53ef00" stroke="#53ef00"/><path d="M611.3,761.6L607.7,763L607.7,763L576.6,795.9Z" fill="#c36200" stroke="#c36200"/><path d="M514.6,900.1L520.3,892.5L501.8,910.1L484.5,925.1L468.7,937.2L454.9,945.4L443.6,947.8L447.1,947.8L457.1,945.8L469.3,938.8L483.2,928.4L498.4,915.4Z" fill="#48ef00" stroke="#48ef00"/><path d="M508.9,907.8L514.6,900.1L498.4,915.4L483.2,928.4L469.3,938.8L457.1,945.8L447.1,947.8L450.8,947.9L459.5,946.3L470,940.4L481.9,931.7L494.9,920.7Z" fill="#3cef00" stroke="#3cef00"/><path d="M503,915.6L508.9,907.8L494.9,920.7L481.9,931.7L470,940.4L459.5,946.3L450.8,947.9L454.7,947.9L464.1,945.8L475.6,938.8L488.6,928.5Z" fill="#31ef00" stroke="#31ef00"/><path d="M497.1,923.5L503,915.6L488.6,928.5L475.6,938.8L464.1,945.8L454.7,947.9L459,948L466.5,946.5L475.5,941.3L485.8,933.4Z" fill="#26ef00" stroke="#26ef00"/><path d="M491,931.6L497.1,923.5L485.8,933.4L475.5,941.3L466.5,946.5L459,948L463.8,948L469.3,947.2L475.7,943.7L483,938.4Z" fill="#1aef00" stroke="#1aef00"/><path d="M484.8,939.8L491,931.6L483,938.4L475.7,943.7L469.3,947.2L463.8,948L469.6,948.1L474,947.3L479.1,944.3Z" fill="#0fef00" stroke="#0fef00"/><path d="M478.5,948.2L484.8,939.8L479.1,944.3L474,947.3L469.6,948.1L478.5,948.2Z" fill="#03ef00" stroke="#03ef00"/></g><g clip-path="url(#cpd1)"><ellipse cx="474" cy="896" rx="34" ry="15" transform="rotate(-41.5 474 896)" fill="url(#bl0)"/><ellipse cx="569" cy="797.5" rx="34" ry="15" transform="rotate(-41.5 569 797.5)" fill="url(#bl0)"/><ellipse cx="458" cy="909" rx="22" ry="8" transform="rotate(-41.5 458 909)" fill="url(#bl1)"/><ellipse cx="475" cy="895.5" rx="20" ry="10" transform="rotate(-41.5 475 895.5)" fill="url(#bl2)"/><ellipse cx="554" cy="813" rx="22" ry="8" transform="rotate(-41.5 554 813)" fill="url(#bl3)"/><ellipse cx="570" cy="797" rx="20" ry="10" transform="rotate(-41.5 570 797)" fill="url(#bl4)"/><ellipse cx="600" cy="764" rx="12" ry="6" transform="rotate(-41.5 600 764)" fill="url(#bl5)"/></g>
<path d="M128.8,741.1L152.4,760.5L175.9,779L199.5,796.7L223.1,813.8L229.9,819L247,833.6L257.3,841.5L267.5,848.6L284.5,859.8L332.6,890.6L350.1,902.6L360.6,910.4L371.1,919L381.7,928.8L388.7,935.8L399.3,947.2L478.5,948.2M329.4,582.9L432.3,658.2L442.7,666.6L446.1,668.9L453.2,672.2L463.7,676.4L478,681.3L492.4,685.8L499.6,688.6L503.2,690.3L510.4,694.2L532,707.2L554,718L561.3,722L565,724.3L572.2,729.4L579.4,735.1L586.6,741.2L597.2,751.5L607.7,763L621.5,757.6M132.9,737.8L326.6,585.1M481.6,944.2L619.6,760.2" class="e"/>
<g stroke="#5c5c5c" stroke-width="1" fill="none"><path d="M117.2,740.1L487.7,868.8" stroke-dasharray="3 1.5"/><path d="M487.7,868.8L644.2,653.7"/><path d="M480.2,998.2L487.7,868.8" stroke-dasharray="9 3"/></g>
<g font-family="Liberation Sans,sans-serif" font-weight="bold" font-size="24.7" stroke="#000" stroke-width="0.25"><text transform="translate(99.5,890.9) scale(0.876,1)" textLength="42.2" lengthAdjust="spacing">−10</text><text transform="translate(188.7,921) scale(0.876,1)" textLength="28.5" lengthAdjust="spacing">−5</text><text transform="translate(289.2,952.4) scale(0.876,1)" text-anchor="middle">0</text><text transform="translate(374.4,984.8) scale(0.876,1)" text-anchor="middle">5</text><text transform="translate(461,1021.6) scale(0.876,1)" text-anchor="middle">10</text><text transform="translate(267.5,968.9) scale(0.876,1)" text-anchor="middle">z</text><text transform="translate(496.2,1007.5) scale(0.876,1)" text-anchor="middle">0</text><text transform="translate(549.4,924) scale(0.876,1)" text-anchor="middle">1</text><text transform="translate(596.2,852.4) scale(0.876,1)" text-anchor="middle">2</text><text transform="translate(637.6,789.1) scale(0.876,1)" text-anchor="middle">3</text><text transform="translate(596.6,897.4) scale(0.876,1)" text-anchor="middle">t</text><text transform="translate(114.9,772.7) scale(0.876,1)" text-anchor="end">0.4</text><text transform="translate(122.9,818.6) scale(0.876,1)" text-anchor="end">0.2</text><text transform="translate(129.3,862.7) scale(0.876,1)" text-anchor="end">0.0</text><text transform="translate(-1.6,797.8) scale(0.876,1)" textLength="97.6" lengthAdjust="spacing" xml:space="preserve" font-weight="normal" stroke-width="0.1">| <tspan font-style="italic">ψ</tspan> ( <tspan font-weight="bold" stroke-width="0.25">z,t</tspan>) |</text></g>
<g stroke="#5c5c5c" stroke-width="1" fill="none"><path d="M812.8,863.7L1006.8,682.5"/><path d="M1006.8,682.5L1304,771.9" stroke-dasharray="4 2"/><path d="M1006.8,682.5L1002.9,570.7"/><path d="M793.2,740.1L1002.9,570.7"/><path d="M1002.9,570.7L1320.2,653.7" stroke-dasharray="5 2.5"/><path d="M1304,771.9L1320.2,653.7" stroke-dasharray="9 3"/><path d="M812.8,863.7L793.2,740.1" stroke-dasharray="5 2"/><path d="M812.8,863.7L1156.2,998.2" stroke-dasharray="7 1.5"/><path d="M1156.2,998.2L1304,771.9"/><path d="M818.6,866L823.3,861.5M833.4,871.8L836,869.3M848.3,877.6L850.9,875.1M863.4,883.5L865.9,881M878.6,889.5L881.2,886.9M894.1,895.5L898.6,890.8M909.7,901.6L912.2,899M925.5,907.8L927.9,905.2M941.5,914.1L943.9,911.4M957.6,920.4L960,917.7M974,926.8L978.2,921.9M990.5,933.3L992.8,930.5M1007.3,939.9L1009.5,937.1M1024.2,946.5L1026.5,943.7M1041.3,953.2L1043.6,950.4M1058.7,960L1062.6,954.8M1076.3,966.9L1078.4,964M1094,973.8L1096.2,970.9M1112,980.9L1114.1,977.9M1130.3,988L1132.3,985M1148.7,995.2L1152.3,989.8M1159.7,992.8L1153.6,990.4M1171.1,975.2L1167.8,973.9M1182.3,958.2L1178.9,956.9M1193.1,941.7L1189.7,940.4M1203.6,925.6L1200.2,924.4M1213.8,910L1207.6,907.9M1223.7,894.9L1220.3,893.7M1233.3,880.1L1229.9,879M1242.7,865.8L1239.3,864.7M1251.8,851.9L1248.4,850.7M1260.7,838.3L1254.5,836.3M1269.3,825.1L1265.9,824M1277.7,812.2L1274.3,811.1M1285.9,799.6L1282.5,798.5M1293.9,787.4L1290.5,786.3M1301.7,775.5L1295.5,773.6M808.7,838.4L814.8,840.7M803,802.1L809.1,804.4M797,764.2L803.1,766.4M812.1,859.4L815.4,860.7M811,852.5L814.3,853.8M809.9,845.5L813.2,846.7M807.6,831.3L811,832.5M806.5,824.1L809.8,825.3M805.3,816.8L808.7,818.1M804.2,809.5L807.5,810.8M801.8,794.7L805.2,795.9M800.6,787.2L804,788.4M799.4,779.6L802.8,780.8M798.2,772L801.6,773.2M795.8,756.5L799.2,757.7M794.5,748.6L797.9,749.8"/></g>
<g stroke-width="0.6" stroke-linejoin="round"><path d="M1005.2,577.6L979.5,599.2L1006.5,578.6L1005.2,577.6Z" fill="#ff0005" stroke="#ff0005"/><path d="M979.5,599.2L952.3,622.1L1007.9,579.7L1006.5,578.6Z" fill="#ff000e" stroke="#ff000e"/><path d="M952.3,622.1L923.5,646.4L1009.2,580.8L1007.9,579.7Z" fill="#ff0017" stroke="#ff0017"/><path d="M923.5,646.4L893,672.1L935.1,640.1L1010.5,581.8L1009.2,580.8Z" fill="#ff0021" stroke="#ff0021"/><path d="M893,672.1L860.6,699.5L916,657.4L1011.8,582.9L1010.5,581.8L935.1,640.1Z" fill="#ff002a" stroke="#ff002a"/><path d="M860.6,699.5L826,728.6L864.2,700.1L933,646.9L1013,583.9L1011.8,582.9L916,657.4Z" fill="#f03" stroke="#f03"/><path d="M826,728.6L805.5,745.9L806.2,746.4L850.5,714.5L926.8,654.7L1014.3,584.9L1013,583.9L933,646.9L864.2,700.1Z" fill="#ff003d" stroke="#ff003d"/><path d="M806.2,746.4L807.7,747.6L852,715.7L928.2,655.8L1015.5,586L1014.3,584.9L926.8,654.7L850.5,714.5Z" fill="#ff0046" stroke="#ff0046"/><path d="M807.7,747.6L809.3,748.8L853.4,716.8L929.5,656.9L1016.8,587L1015.5,586L928.2,655.8L852,715.7Z" fill="#ff004f" stroke="#ff004f"/><path d="M809.3,748.8L810.8,750L854.9,718L930.9,658L1018,588L1016.8,587L929.5,656.9L853.4,716.8Z" fill="#ff0059" stroke="#ff0059"/><path d="M810.8,750L812.4,751.2L856.4,719.1L932.2,659.1L1019.2,589L1018,588L930.9,658L854.9,718Z" fill="#ff0062" stroke="#ff0062"/><path d="M812.4,751.2L813.9,752.4L857.8,720.3L933.5,660.2L1020.4,590L1019.2,589L932.2,659.1L856.4,719.1Z" fill="#ff006b" stroke="#ff006b"/><path d="M813.9,752.4L815.5,753.7L859.3,721.5L934.9,661.2L1021.6,591L1020.4,590L933.5,660.2L857.8,720.3Z" fill="#ff0075" stroke="#ff0075"/><path d="M815.5,753.7L817.1,754.9L860.7,722.6L936.2,662.3L1022.8,591.9L1021.6,591L934.9,661.2L859.3,721.5Z" fill="#ff007e" stroke="#ff007e"/><path d="M817.1,754.9L818.7,756.1L862.2,723.8L937.5,663.4L1023.9,592.9L1022.8,591.9L936.2,662.3L860.7,722.6Z" fill="#ff0087" stroke="#ff0087"/><path d="M818.7,756.1L820.2,757.4L863.7,725L938.8,664.5L1025.1,593.9L1023.9,592.9L937.5,663.4L862.2,723.8Z" fill="#ff0090" stroke="#ff0090"/><path d="M820.2,757.4L821.8,758.7L865.1,726.2L940.1,665.6L1026.3,594.9L1025.1,593.9L938.8,664.5L863.7,725Z" fill="#ff009a" stroke="#ff009a"/><path d="M821.8,758.7L823.4,759.9L866.6,727.4L941.4,666.6L1027.4,595.8L1026.3,594.9L940.1,665.6L865.1,726.2Z" fill="#ff00a3" stroke="#ff00a3"/><path d="M823.4,759.9L825,761.2L868,728.6L942.7,667.7L1028.5,596.8L1027.4,595.8L941.4,666.6L866.6,727.4Z" fill="#ff00ac" stroke="#ff00ac"/><path d="M825,761.2L826.6,762.5L869.5,729.8L944,668.8L1029.7,597.7L1028.5,596.8L942.7,667.7L868,728.6Z" fill="#ff00b6" stroke="#ff00b6"/><path d="M826.6,762.5L828.2,763.8L870.9,731L945.3,669.9L1030.8,598.7L1029.7,597.7L944,668.8L869.5,729.8Z" fill="#ff00bf" stroke="#ff00bf"/><path d="M828.2,763.8L829.8,765.1L872.4,732.2L946.6,671L1031.9,599.6L1030.8,598.7L945.3,669.9L870.9,731Z" fill="#ff00c8" stroke="#ff00c8"/><path d="M829.8,765.1L831.4,766.4L873.8,733.4L947.9,672.1L1033,600.6L1031.9,599.6L946.6,671L872.4,732.2Z" fill="#ff00d2" stroke="#ff00d2"/><path d="M831.4,766.4L833,767.7L875.3,734.6L949.2,673.1L1034.1,601.5L1033,600.6L947.9,672.1L873.8,733.4Z" fill="#ff00db" stroke="#ff00db"/><path d="M833,767.7L834.6,769.1L876.7,735.9L950.4,674.2L1035.2,602.4L1034.1,601.5L949.2,673.1L875.3,734.6Z" fill="#ff00e4" stroke="#ff00e4"/><path d="M834.6,769.1L836.2,770.4L878.2,737.1L951.7,675.3L1036.3,603.4L1035.2,602.4L950.4,674.2L876.7,735.9Z" fill="#f0e" stroke="#f0e"/><path d="M836.2,770.4L837.9,771.7L879.6,738.3L953,676.4L1037.4,604.3L1036.3,603.4L951.7,675.3L878.2,737.1Z" fill="#ff00f7" stroke="#ff00f7"/><path d="M837.9,771.7L839.5,773.1L881.1,739.6L954.2,677.5L1038.5,605.2L1037.4,604.3L953,676.4L879.6,738.3Z" fill="#fe00ff" stroke="#fe00ff"/><path d="M839.5,773.1L841.2,774.5L882.5,740.8L955.5,678.6L1039.6,606.1L1038.5,605.2L954.2,677.5L881.1,739.6Z" fill="#f400ff" stroke="#f400ff"/><path d="M841.2,774.5L842.8,775.9L884,742.1L956.7,679.7L1040.6,607L1039.6,606.1L955.5,678.6L882.5,740.8Z" fill="#eb00ff" stroke="#eb00ff"/><path d="M842.8,775.9L844.5,777.3L919.4,714.2L1041.7,607.9L1040.6,607L956.7,679.7L884,742.1Z" fill="#e200ff" stroke="#e200ff"/><path d="M844.5,777.3L846.2,778.7L920.8,715.3L1042.7,608.8L1041.7,607.9L919.4,714.2Z" fill="#d800ff" stroke="#d800ff"/><path d="M846.2,778.7L847.9,780.1L922.1,716.5L1043.7,609.7L1042.7,608.8L920.8,715.3Z" fill="#cf00ff" stroke="#cf00ff"/><path d="M847.9,780.1L849.6,781.6L923.5,717.8L1044.8,610.6L1043.7,609.7L922.1,716.5Z" fill="#c600ff" stroke="#c600ff"/><path d="M849.6,781.6L851.4,783.1L924.8,719L1045.8,611.5L1044.8,610.6L923.5,717.8Z" fill="#bc00ff" stroke="#bc00ff"/><path d="M851.4,783.1L853.1,784.7L926.2,720.2L1046.8,612.3L1045.8,611.5L924.8,719Z" fill="#b300ff" stroke="#b300ff"/><path d="M853.1,784.7L854.9,786.2L927.5,721.5L1047.8,613.2L1046.8,612.3L926.2,720.2Z" fill="#a0f" stroke="#a0f"/><path d="M854.9,786.2L856.6,787.8L928.9,722.8L1048.8,614.1L1047.8,613.2L927.5,721.5Z" fill="#a000ff" stroke="#a000ff"/><path d="M856.6,787.8L858.4,789.4L1049.7,614.9L1048.8,614.1L928.9,722.8Z" fill="#9700ff" stroke="#9700ff"/><path d="M858.4,789.4L860.1,791L1050.7,615.8L1049.7,614.9Z" fill="#8e00ff" stroke="#8e00ff"/><path d="M860.1,791L861.9,792.5L1051.7,616.6L1050.7,615.8Z" fill="#8500ff" stroke="#8500ff"/><path d="M861.9,792.5L863.6,794.1L1052.6,617.5L1051.7,616.6Z" fill="#7b00ff" stroke="#7b00ff"/><path d="M863.6,794.1L865.3,795.6L935.5,729.1L1053.6,618.3L1052.6,617.5Z" fill="#7200ff" stroke="#7200ff"/><path d="M865.3,795.6L867.1,797.2L936.9,730.3L1054.6,619.1L1053.6,618.3L935.5,729.1Z" fill="#6900ff" stroke="#6900ff"/><path d="M867.1,797.2L868.8,798.7L938.2,731.5L1055.5,620L1054.6,619.1L936.9,730.3Z" fill="#5f00ff" stroke="#5f00ff"/><path d="M868.8,798.7L870.5,800.2L939.4,732.7L1056.5,620.8L1055.5,620L938.2,731.5Z" fill="#5600ff" stroke="#5600ff"/><path d="M870.5,800.2L872.1,801.6L940.7,733.9L1057.4,621.6L1056.5,620.8L939.4,732.7Z" fill="#4d00ff" stroke="#4d00ff"/><path d="M872.1,801.6L873.8,803L942,735L1058.3,622.5L1057.4,621.6L940.7,733.9Z" fill="#4300ff" stroke="#4300ff"/><path d="M873.8,803L875.4,804.4L943.3,736.1L1059.3,623.3L1058.3,622.5L942,735Z" fill="#3a00ff" stroke="#3a00ff"/><path d="M875.4,804.4L877,805.7L912.9,768.5L980.8,701.6L1060.2,624.1L1059.3,623.3L943.3,736.1Z" fill="#3100ff" stroke="#3100ff"/><path d="M877,805.7L878.7,807L914.3,769.7L981.9,702.6L1061.1,624.9L1060.2,624.1L980.8,701.6L912.9,768.5Z" fill="#2700ff" stroke="#2700ff"/><path d="M878.7,807L880.2,808.3L915.6,770.9L983,703.6L1062.1,625.8L1061.1,624.9L981.9,702.6L914.3,769.7Z" fill="#1e00ff" stroke="#1e00ff"/><path d="M880.2,808.3L881.8,809.7L917,772.1L984.2,704.6L1063,626.6L1062.1,625.8L983,703.6L915.6,770.9Z" fill="#1500ff" stroke="#1500ff"/><path d="M881.8,809.7L883.3,811L918.3,773.3L985.3,705.7L1063.9,627.4L1063,626.6L984.2,704.6L917,772.1Z" fill="#0b00ff" stroke="#0b00ff"/><path d="M883.3,811L884.9,812.3L919.6,774.4L986.4,706.6L1064.8,628.2L1063.9,627.4L985.3,705.7L918.3,773.3Z" fill="#0200ff" stroke="#0200ff"/><path d="M884.9,812.3L886.3,813.4L920.8,775.5L987.4,707.6L1065.7,629L1064.8,628.2L986.4,706.6L919.6,774.4Z" fill="#0007ff" stroke="#0007ff"/><path d="M886.3,813.4L887.6,814.5L922,776.5L988.4,708.5L1066.5,629.7L1065.7,629L987.4,707.6L920.8,775.5Z" fill="#01f" stroke="#01f"/><path d="M887.6,814.5L888.8,815.6L923.1,777.4L989.4,709.3L1067.3,630.5L1066.5,629.7L988.4,708.5L922,776.5Z" fill="#001aff" stroke="#001aff"/><path d="M888.8,815.6L890.1,816.6L924.1,778.4L990.3,710.1L1068.1,631.2L1067.3,630.5L989.4,709.3L923.1,777.4Z" fill="#0023ff" stroke="#0023ff"/><path d="M890.1,816.6L891.3,817.6L925.2,779.2L991.2,710.9L1068.9,631.9L1068.1,631.2L990.3,710.1L924.1,778.4Z" fill="#002dff" stroke="#002dff"/><path d="M891.3,817.6L892.5,818.5L926.2,780.1L992.1,711.7L1069.6,632.5L1068.9,631.9L991.2,710.9L925.2,779.2Z" fill="#0036ff" stroke="#0036ff"/><path d="M892.5,818.5L893.7,819.4L927.3,780.9L993,712.4L1070.3,633.2L1069.6,632.5L992.1,711.7L926.2,780.1Z" fill="#003fff" stroke="#003fff"/><path d="M893.7,819.4L894.9,820.3L928.3,781.8L993.8,713.2L1071.1,633.9L1070.3,633.2L993,712.4L927.3,780.9Z" fill="#0049ff" stroke="#0049ff"/><path d="M894.9,820.3L896.2,821.3L929.4,782.6L994.7,713.9L1071.8,634.5L1071.1,633.9L993.8,713.2L928.3,781.8Z" fill="#0052ff" stroke="#0052ff"/><path d="M896.2,821.3L897.6,822.2L917.9,797.1L960.7,751.2L1014.2,695.3L1072.5,635.1L1071.8,634.5L994.7,713.9L929.4,782.6Z" fill="#005bff" stroke="#005bff"/><path d="M897.6,822.2L899,823.1L919.2,798L961.8,752L1015.1,696L1073.2,635.8L1072.5,635.1L1014.2,695.3L960.7,751.2L917.9,797.1Z" fill="#0065ff" stroke="#0065ff"/><path d="M899,823.1L900.7,824.1L920.5,798.9L962.9,752.8L1016,696.7L1073.9,636.4L1073.2,635.8L1015.1,696L961.8,752L919.2,798Z" fill="#006eff" stroke="#006eff"/><path d="M900.7,824.1L902.7,825.3L922.2,799.8L964.2,753.6L1017,697.4L1074.6,637.1L1073.9,636.4L1016,696.7L962.9,752.8L920.5,798.9Z" fill="#07f" stroke="#07f"/><path d="M902.7,825.3L905.3,826.5L924.1,800.9L965.7,754.5L1018.1,698.2L1075.3,637.8L1074.6,637.1L1017,697.4L964.2,753.6L922.2,799.8Z" fill="#0080ff" stroke="#0080ff"/><path d="M905.3,826.5L907.9,827.8L926.1,801.9L967.2,755.4L1019.2,698.9L1076.1,638.4L1075.3,637.8L1018.1,698.2L965.7,754.5L924.1,800.9Z" fill="#008aff" stroke="#008aff"/><path d="M907.9,827.8L910.7,829.2L922.3,810.5L950.9,776.6L988.5,734.4L1031.4,687.8L1076.8,639.1L1076.1,638.4L1019.2,698.9L967.2,755.4L926.1,801.9Z" fill="#0093ff" stroke="#0093ff"/><path d="M910.7,829.2L913.9,830.7L924.8,811.7L952.9,777.6L990.1,735.3L1032.5,688.5L1077.6,639.8L1076.8,639.1L1031.4,687.8L988.5,734.4L950.9,776.6L922.3,810.5Z" fill="#009cff" stroke="#009cff"/><path d="M913.9,830.7L917.8,832.4L927.8,813.1L955.2,778.8L991.8,736.3L1033.8,689.3L1078.3,640.5L1077.6,639.8L1032.5,688.5L990.1,735.3L952.9,777.6L924.8,811.7Z" fill="#00a6ff" stroke="#00a6ff"/><path d="M917.8,832.4L925.3,835.4L927.5,833.3L937.3,814.2L962.4,779.6L996.7,737L1036.5,690L1079.1,641.2L1078.3,640.5L1033.8,689.3L991.8,736.3L955.2,778.8L927.8,813.1Z" fill="#00afff" stroke="#00afff"/><path d="M927.5,833.3L943.9,817.7L958.9,794.3L990.8,751L1032.7,698.5L1079.9,642L1079.1,641.2L1036.5,690L996.7,737L962.4,779.6L937.3,814.2Z" fill="#00b8ff" stroke="#00b8ff"/><path d="M943.9,817.7L959.8,802.7L973.5,781.9L1001.6,742.8L1038.6,694.9L1080.8,642.7L1079.9,642L1032.7,698.5L990.8,751L958.9,794.3Z" fill="#00c2ff" stroke="#00c2ff"/><path d="M959.8,802.7L975.2,788.1L987.3,769.7L1011.9,734.8L1044.3,691.3L1081.7,643.6L1080.8,642.7L1038.6,694.9L1001.6,742.8L973.5,781.9Z" fill="#00cbff" stroke="#00cbff"/><path d="M975.2,788.1L990.1,774.1L1006.7,748.7L1040,701.4L1082.6,644.5L1081.7,643.6L1044.3,691.3L1011.9,734.8L987.3,769.7Z" fill="#00d4ff" stroke="#00d4ff"/><path d="M990.1,774.1L1004.5,760.5L1018.6,738.3L1047,696.5L1083.6,645.4L1082.6,644.5L1040,701.4L1006.7,748.7Z" fill="#00deff" stroke="#00deff"/><path d="M1004.5,760.5L1018.4,747.3L1030.2,728.2L1053.8,691.7L1084.8,646.5L1083.6,645.4L1047,696.5L1018.6,738.3Z" fill="#00e7ff" stroke="#00e7ff"/><path d="M1018.4,747.3L1031.9,734.5L1050.2,704L1086.1,647.7L1084.8,646.5L1053.8,691.7L1030.2,728.2Z" fill="#00f0ff" stroke="#00f0ff"/><path d="M1031.9,734.5L1045,722.2L1059.4,696.8L1087.9,649.4L1086.1,647.7L1050.2,704Z" fill="#00faff" stroke="#00faff"/><path d="M1045,722.2L1057.8,710.2L1068.5,689.9L1090.1,651.4L1087.9,649.4L1059.4,696.8Z" fill="#00fffb" stroke="#00fffb"/><path d="M1057.8,710.2L1070.1,698.5L1092.5,653.7L1090.1,651.4L1068.5,689.9Z" fill="#00fff2" stroke="#00fff2"/><path d="M1070.1,698.5L1082.1,687.2L1095.1,656.1L1092.5,653.7Z" fill="#00ffe8" stroke="#00ffe8"/><path d="M1082.1,687.2L1093.7,676.3L1098.2,659.1L1095.1,656.1Z" fill="#00ffdf" stroke="#00ffdf"/><path d="M1093.7,676.3L1105,665.6L1105,665.6L1098.2,659.1Z" fill="#00ffd6" stroke="#00ffd6"/></g><g stroke-width="0.6" stroke-linejoin="round"><path d="M1114.8,666.7L1105,665.6L1105,665.6L1092.9,677.1Z" fill="#00ffd6" stroke="#00ffd6"/><path d="M1119.3,666.6L1114.8,666.7L1092.9,677.1L1080.3,688.9Z" fill="#00ffe0" stroke="#00ffe0"/><path d="M1122.9,666.4L1119.3,666.6L1080.3,688.9L1067.4,701.1L1086.5,689.4Z" fill="#00ffea" stroke="#00ffea"/><path d="M1126.2,666.2L1122.9,666.4L1086.5,689.4L1067.4,701.1L1054.1,713.7L1079.2,697.6Z" fill="#00fff4" stroke="#00fff4"/><path d="M1129,665.7L1126.2,666.2L1079.2,697.6L1054.1,713.7L1040.3,726.7L1071.6,705.9Z" fill="#00fbfa" stroke="#00fbfa"/><path d="M1130.8,665.1L1129,665.7L1071.6,705.9L1040.3,726.7L1026,740.1L1046.1,726.5L1084,699.7Z" fill="#00ecf5" stroke="#00ecf5"/><path d="M1132.2,664.6L1130.8,665.1L1084,699.7L1046.1,726.5L1026,740.1L1011.3,754L1034.9,737.6L1078.9,705.5Z" fill="#00dff2" stroke="#00dff2"/><path d="M1133.4,664L1132.2,664.6L1078.9,705.5L1034.9,737.6L1011.3,754L996.1,768.4L1023.4,749L1073.7,711.4Z" fill="#00d3ef" stroke="#00d3ef"/><path d="M1134.6,663.4L1133.4,664L1073.7,711.4L1023.4,749L996.1,768.4L980.3,783.3L1000.5,769.1L1038.2,740.9L1084.4,704.6Z" fill="#00c8ec" stroke="#00c8ec"/><path d="M1135.7,662.8L1134.6,663.4L1084.4,704.6L1038.2,740.9L1000.5,769.1L980.3,783.3L964,798.7L987.1,782.5L1029.6,750.4L1080.8,709.1Z" fill="#00bdea" stroke="#00bdea"/><path d="M1136.8,662.3L1135.7,662.8L1080.8,709.1L1029.6,750.4L987.1,782.5L964,798.7L947,814.8L966,802L1000.7,776.2L1043,742.5L1089.1,703.8Z" fill="#00b2e8" stroke="#00b2e8"/><path d="M1137.9,661.7L1136.8,662.3L1089.1,703.8L1043,742.5L1000.7,776.2L966,802L947,814.8L929.5,831.4L947.2,821.2L977.4,799.5L1013.7,770.5L1053.6,736.7L1095.4,700Z" fill="#00a8e7" stroke="#00a8e7"/><path d="M1139.1,661.1L1137.9,661.7L1095.4,700L1053.6,736.7L1013.7,770.5L977.4,799.5L947.2,821.2L929.5,831.4L925.3,835.4L931.7,836.6L951.5,826.7L981,803.8L1016.6,773.5L1055.9,738.4L1097.1,700.5Z" fill="#00b0ff" stroke="#00b0ff"/><path d="M1140.3,660.6L1139.1,661.1L1097.1,700.5L1055.9,738.4L1016.6,773.5L981,803.8L951.5,826.7L931.7,836.6L937.5,837.6L961.3,823.5L998.2,792.6L1042.5,752.8L1090.7,707.9Z" fill="#00a6ff" stroke="#00a6ff"/><path d="M1141.6,660L1140.3,660.6L1090.7,707.9L1042.5,752.8L998.2,792.6L961.3,823.5L937.5,837.6L942.2,838.6L965.1,824L1001.3,792.8L1044.9,752.7L1092.5,707.5Z" fill="#009cff" stroke="#009cff"/><path d="M1143,659.4L1141.6,660L1092.5,707.5L1044.9,752.7L1001.3,792.8L965.1,824L942.2,838.6L946.5,839.4L968.6,824.5L1004.2,793.1L1047.3,752.6L1094.4,707.2Z" fill="#0092ff" stroke="#0092ff"/><path d="M1144.5,659L1143,659.4L1094.4,707.2L1047.3,752.6L1004.2,793.1L968.6,824.5L946.5,839.4L950.6,840.2L979.7,818.2L1027.6,773.8L1084.4,718.7Z" fill="#08f" stroke="#08f"/><path d="M1145.9,658.7L1144.5,659L1084.4,718.7L1027.6,773.8L979.7,818.2L950.6,840.2L954.1,841L982.6,818.7L1030,774L1086.3,718.6Z" fill="#007eff" stroke="#007eff"/><path d="M1147.5,658.6L1145.9,658.7L1086.3,718.6L1030,774L982.6,818.7L954.1,841L957.2,841.6L985.2,819.1L1032.1,774.2L1088.1,718.6Z" fill="#0074ff" stroke="#0074ff"/><path d="M1149,658.6L1147.5,658.6L1088.1,718.6L1032.1,774.2L985.2,819.1L957.2,841.6L960,842.2L987.6,819.5L1034.2,774.5L1089.9,718.8Z" fill="#006aff" stroke="#006aff"/><path d="M1150.5,658.6L1149,658.6L1089.9,718.8L1034.2,774.5L987.6,819.5L960,842.2L962.6,842.8L989.9,819.9L1036.3,774.7L1091.7,718.9Z" fill="#0060ff" stroke="#0060ff"/><path d="M1152.1,658.7L1150.5,658.6L1091.7,718.9L1036.3,774.7L989.9,819.9L962.6,842.8L965,843.3L992.1,820.3L1038.3,775L1093.5,719.1Z" fill="#0056ff" stroke="#0056ff"/><path d="M1153.7,658.8L1152.1,658.7L1093.5,719.1L1038.3,775L992.1,820.3L965,843.3L967.4,843.8L994.3,820.8L1040.2,775.3L1095.2,719.3Z" fill="#004cff" stroke="#004cff"/><path d="M1155.4,659L1153.7,658.8L1095.2,719.3L1040.2,775.3L994.3,820.8L967.4,843.8L969.7,844.3L996.4,821.2L1042.2,775.7L1097,719.6Z" fill="#0042ff" stroke="#0042ff"/><path d="M1157.1,659.3L1155.4,659L1097,719.6L1042.2,775.7L996.4,821.2L969.7,844.3L971.9,844.8L998.4,821.6L1044.1,776.1L1098.9,719.9Z" fill="#0038ff" stroke="#0038ff"/><path d="M974,845.3L1158.8,659.7L1157.1,659.3L1098.9,719.9L1044.1,776.1L998.4,821.6L971.9,844.8L974,845.3Z" fill="#002eff" stroke="#002eff"/></g><g stroke-width="0.6" stroke-linejoin="round"><path d="M974,845.3L977.5,847.7L1005,824.7L1051.1,779.1L1106.2,722.8L1164.5,662L1158.8,659.7L974,845.3Z" fill="#002eff" stroke="#002eff"/><path d="M977.5,847.7L980.3,849.6L1008.2,826.7L1054.5,781.1L1109.6,724.6L1168,663.5L1164.5,662L1106.2,722.8L1051.1,779.1L1005,824.7Z" fill="#003aff" stroke="#003aff"/><path d="M980.3,849.6L982.7,851.4L1010.8,828.5L1057.3,782.8L1112.5,726.1L1170.9,664.9L1168,663.5L1109.6,724.6L1054.5,781.1L1008.2,826.7Z" fill="#0045ff" stroke="#0045ff"/><path d="M982.7,851.4L984.9,853.1L1013.2,830.2L1059.8,784.3L1115,727.5L1173.4,666.1L1170.9,664.9L1112.5,726.1L1057.3,782.8L1010.8,828.5Z" fill="#0051ff" stroke="#0051ff"/><path d="M984.9,853.1L987,854.6L1015.4,831.8L1062,785.8L1117.3,728.8L1175.7,667.2L1173.4,666.1L1115,727.5L1059.8,784.3L1013.2,830.2Z" fill="#005cff" stroke="#005cff"/><path d="M987,854.6L988.9,856.1L1017.5,833.3L1064.1,787.2L1119.4,730.1L1177.7,668.3L1175.7,667.2L1117.3,728.8L1062,785.8L1015.4,831.8Z" fill="#0067ff" stroke="#0067ff"/><path d="M988.9,856.1L990.7,857.6L1019.4,834.7L1066.1,788.5L1121.3,731.3L1179.7,669.4L1177.7,668.3L1119.4,730.1L1064.1,787.2L1017.5,833.3Z" fill="#0073ff" stroke="#0073ff"/><path d="M990.7,857.6L992.4,858.9L1013.6,843.2L1047.9,810.2L1089.4,767.8L1134.8,720.3L1181.6,670.5L1179.7,669.4L1121.3,731.3L1066.1,788.5L1019.4,834.7Z" fill="#007eff" stroke="#007eff"/><path d="M992.4,858.9L994.1,860.3L1015.4,844.5L1049.7,811.5L1091.2,769.1L1136.6,721.5L1183.4,671.6L1181.6,670.5L1134.8,720.3L1089.4,767.8L1047.9,810.2L1013.6,843.2Z" fill="#0089ff" stroke="#0089ff"/><path d="M994.1,860.3L995.7,861.6L1017.1,845.9L1051.4,812.8L1093,770.3L1138.3,722.7L1185.1,672.6L1183.4,671.6L1136.6,721.5L1091.2,769.1L1049.7,811.5L1015.4,844.5Z" fill="#0095ff" stroke="#0095ff"/><path d="M995.7,861.6L997.2,862.9L1018.8,847.2L1053.1,814.1L1094.7,771.6L1140,723.8L1186.7,673.7L1185.1,672.6L1138.3,722.7L1093,770.3L1051.4,812.8L1017.1,845.9Z" fill="#00a0ff" stroke="#00a0ff"/><path d="M997.2,862.9L998.8,864.2L1020.4,848.5L1054.8,815.3L1096.3,772.8L1141.7,725L1188.4,674.8L1186.7,673.7L1140,723.8L1094.7,771.6L1053.1,814.1L1018.8,847.2Z" fill="#00abff" stroke="#00abff"/><path d="M998.8,864.2L1000.3,865.5L1022,849.8L1056.4,816.7L1098,774L1143.3,726.2L1190,675.9L1188.4,674.8L1141.7,725L1096.3,772.8L1054.8,815.3L1020.4,848.5Z" fill="#00b7ff" stroke="#00b7ff"/><path d="M1000.3,865.5L1001.7,866.9L1023.5,851.2L1058,818L1099.6,775.3L1144.9,727.4L1191.5,677.1L1190,675.9L1143.3,726.2L1098,774L1056.4,816.7L1022,849.8Z" fill="#00c2ff" stroke="#00c2ff"/><path d="M1001.7,866.9L1003.2,868.2L1025,852.5L1059.5,819.3L1101.1,776.6L1146.4,728.7L1193,678.3L1191.5,677.1L1144.9,727.4L1099.6,775.3L1058,818L1023.5,851.2Z" fill="#00ceff" stroke="#00ceff"/><path d="M1003.2,868.2L1004.6,869.5L1026.6,853.9L1061.1,820.6L1102.7,778L1147.9,730L1194.6,679.5L1193,678.3L1146.4,728.7L1101.1,776.6L1059.5,819.3L1025,852.5Z" fill="#00d9ff" stroke="#00d9ff"/><path d="M1004.6,869.5L1006,870.8L1028,855.2L1062.6,822L1104.2,779.3L1149.5,731.3L1196,680.9L1194.6,679.5L1147.9,730L1102.7,778L1061.1,820.6L1026.6,853.9Z" fill="#00e4ff" stroke="#00e4ff"/><path d="M1006,870.8L1007.4,872.2L1029.5,856.6L1064.1,823.4L1105.7,780.7L1151,732.6L1197.5,682.2L1196,680.9L1149.5,731.3L1104.2,779.3L1062.6,822L1028,855.2Z" fill="#00f0ff" stroke="#00f0ff"/><path d="M1007.4,872.2L1008.8,873.5L1031,857.9L1065.6,824.7L1107.2,782L1152.4,734L1199,683.6L1197.5,682.2L1151,732.6L1105.7,780.7L1064.1,823.4L1029.5,856.6Z" fill="#00fbff" stroke="#00fbff"/><path d="M1008.8,873.5L1010.1,874.7L1032.4,859.2L1067,826.1L1108.6,783.4L1153.8,735.3L1200.3,684.9L1199,683.6L1152.4,734L1107.2,782L1065.6,824.7L1031,857.9Z" fill="#00fff8" stroke="#00fff8"/><path d="M1010.1,874.7L1011.3,875.9L1033.6,860.4L1068.3,827.3L1109.9,784.6L1155.1,736.6L1201.5,686.1L1200.3,684.9L1153.8,735.3L1108.6,783.4L1067,826.1L1032.4,859.2Z" fill="#00ffec" stroke="#00ffec"/><path d="M1011.3,875.9L1012.4,877L1034.8,861.6L1069.5,828.4L1111.1,785.7L1156.3,737.7L1202.7,687.3L1201.5,686.1L1155.1,736.6L1109.9,784.6L1068.3,827.3L1033.6,860.4Z" fill="#00ffe1" stroke="#00ffe1"/><path d="M1012.4,877L1013.5,878.1L1036,862.6L1070.6,829.5L1112.2,786.8L1157.4,738.8L1203.8,688.4L1202.7,687.3L1156.3,737.7L1111.1,785.7L1069.5,828.4L1034.8,861.6Z" fill="#00ffd6" stroke="#00ffd6"/><path d="M1013.5,878.1L1014.6,879.1L1037,863.7L1071.7,830.6L1113.3,787.9L1158.4,739.9L1204.8,689.5L1203.8,688.4L1157.4,738.8L1112.2,786.8L1070.6,829.5L1036,862.6Z" fill="#00ffca" stroke="#00ffca"/><path d="M1014.6,879.1L1015.6,880.1L1038.1,864.7L1072.8,831.6L1114.4,788.9L1159.4,740.9L1205.8,690.5L1204.8,689.5L1158.4,739.9L1113.3,787.9L1071.7,830.6L1037,863.7Z" fill="#00ffbf" stroke="#00ffbf"/><path d="M1015.6,880.1L1016.5,881L1039.1,865.6L1073.8,832.5L1115.4,789.9L1160.4,742L1206.7,691.6L1205.8,690.5L1159.4,740.9L1114.4,788.9L1072.8,831.6L1038.1,864.7Z" fill="#00ffb4" stroke="#00ffb4"/><path d="M1016.5,881L1017.5,881.9L1040.1,866.6L1074.8,833.5L1116.3,790.9L1161.4,743L1207.6,692.6L1206.7,691.6L1160.4,742L1115.4,789.9L1073.8,832.5L1039.1,865.6Z" fill="#00ffa8" stroke="#00ffa8"/><path d="M1017.5,881.9L1018.4,882.8L1041.1,867.5L1075.8,834.5L1117.3,791.9L1162.3,744L1208.5,693.7L1207.6,692.6L1161.4,743L1116.3,790.9L1074.8,833.5L1040.1,866.6Z" fill="#00ff9d" stroke="#00ff9d"/><path d="M1018.4,882.8L1019.4,883.7L1042,868.5L1076.7,835.5L1118.2,792.9L1163.2,745.1L1209.4,694.8L1208.5,693.7L1162.3,744L1117.3,791.9L1075.8,834.5L1041.1,867.5Z" fill="#00ff91" stroke="#00ff91"/><path d="M1019.4,883.7L1020.3,884.7L1043,869.4L1077.7,836.5L1119.2,794L1164.1,746.2L1210.3,696L1209.4,694.8L1163.2,745.1L1118.2,792.9L1076.7,835.5L1042,868.5Z" fill="#00ff86" stroke="#00ff86"/><path d="M1020.3,884.7L1021.2,885.6L1043.9,870.4L1078.6,837.5L1120.1,795L1165,747.3L1211.1,697.1L1210.3,696L1164.1,746.2L1119.2,794L1077.7,836.5L1043,869.4Z" fill="#00ff7b" stroke="#00ff7b"/><path d="M1021.2,885.6L1022.1,886.6L1044.8,871.4L1079.5,838.5L1121,796.1L1165.9,748.4L1211.9,698.2L1211.1,697.1L1165,747.3L1120.1,795L1078.6,837.5L1043.9,870.4Z" fill="#00ff6f" stroke="#00ff6f"/><path d="M1022.1,886.6L1023,887.5L1045.7,872.4L1080.4,839.5L1121.9,797.1L1166.7,749.5L1212.8,699.4L1211.9,698.2L1165.9,748.4L1121,796.1L1079.5,838.5L1044.8,871.4Z" fill="#00ff64" stroke="#00ff64"/><path d="M1023,887.5L1023.8,888.5L1046.6,873.4L1081.3,840.6L1122.7,798.2L1167.6,750.6L1213.6,700.6L1212.8,699.4L1166.7,749.5L1121.9,797.1L1080.4,839.5L1045.7,872.4Z" fill="#00ff59" stroke="#00ff59"/><path d="M1023.8,888.5L1024.7,889.6L1047.5,874.4L1082.2,841.6L1123.6,799.3L1168.4,751.7L1214.4,701.7L1213.6,700.6L1167.6,750.6L1122.7,798.2L1081.3,840.6L1046.6,873.4Z" fill="#00ff4d" stroke="#00ff4d"/><path d="M1024.7,889.6L1025.6,890.6L1048.5,875.5L1083.1,842.7L1124.5,800.5L1169.3,752.9L1215.2,702.9L1214.4,701.7L1168.4,751.7L1123.6,799.3L1082.2,841.6L1047.5,874.4Z" fill="#00ff42" stroke="#00ff42"/><path d="M1025.6,890.6L1026.5,891.8L1049.4,876.7L1084,843.9L1125.4,801.6L1170.1,754L1216,704L1215.2,702.9L1169.3,752.9L1124.5,800.5L1083.1,842.7L1048.5,875.5Z" fill="#00ff37" stroke="#00ff37"/><path d="M1026.5,891.8L1027.4,893L1050.3,877.9L1084.9,845.1L1126.3,802.8L1171,755.2L1216.8,705.2L1216,704L1170.1,754L1125.4,801.6L1084,843.9L1049.4,876.7Z" fill="#00ff2b" stroke="#00ff2b"/><path d="M1027.4,893L1028.3,894.4L1051.2,879.3L1085.9,846.4L1127.1,804.1L1171.8,756.4L1217.6,706.3L1216.8,705.2L1171,755.2L1126.3,802.8L1084.9,845.1L1050.3,877.9Z" fill="#00ff20" stroke="#00ff20"/><path d="M1028.3,894.4L1029.2,895.9L1052.1,880.7L1086.8,847.9L1128,805.4L1172.7,757.7L1218.4,707.5L1217.6,706.3L1171.8,756.4L1127.1,804.1L1085.9,846.4L1051.2,879.3Z" fill="#00ff15" stroke="#00ff15"/><path d="M1029.2,895.9L1030.2,897.5L1053.1,882.3L1087.7,849.4L1128.9,806.9L1173.5,759L1219.2,708.7L1218.4,707.5L1172.7,757.7L1128,805.4L1086.8,847.9L1052.1,880.7Z" fill="#00ff09" stroke="#00ff09"/><path d="M1030.2,897.5L1031.1,899.1L1054,884L1088.6,851L1129.8,808.3L1174.3,760.4L1220,709.9L1219.2,708.7L1173.5,759L1128.9,806.9L1087.7,849.4L1053.1,882.3Z" fill="#02ff00" stroke="#02ff00"/><path d="M1031.1,899.1L1032.1,900.8L1054.9,885.6L1089.5,852.5L1130.6,809.8L1175.1,761.7L1220.7,711.1L1220,709.9L1174.3,760.4L1129.8,808.3L1088.6,851L1054,884Z" fill="#0eff00" stroke="#0eff00"/><path d="M1032.1,900.8L1033,902.6L1055.8,887.3L1090.3,854.1L1131.4,811.3L1175.9,763L1221.4,712.2L1220.7,711.1L1175.1,761.7L1130.6,809.8L1089.5,852.5L1054.9,885.6Z" fill="#19ff00" stroke="#19ff00"/><path d="M1033,902.6L1033.9,904.3L1056.7,889L1091.2,855.7L1132.2,812.7L1176.6,764.3L1222.1,713.3L1221.4,712.2L1175.9,763L1131.4,811.3L1090.3,854.1L1055.8,887.3Z" fill="#24ff00" stroke="#24ff00"/><path d="M1033.9,904.3L1034.9,906L1057.6,890.6L1092,857.2L1132.9,814.1L1177.2,765.5L1222.7,714.4L1222.1,713.3L1176.6,764.3L1132.2,812.7L1091.2,855.7L1056.7,889Z" fill="#30ff00" stroke="#30ff00"/><path d="M1034.9,906L1035.8,907.6L1058.5,892.2L1092.8,858.7L1133.7,815.4L1177.9,766.7L1223.3,715.4L1222.7,714.4L1177.2,765.5L1132.9,814.1L1092,857.2L1057.6,890.6Z" fill="#3bff00" stroke="#3bff00"/><path d="M1035.8,907.6L1036.7,909.1L1059.3,893.7L1093.6,860.1L1134.4,816.7L1178.6,767.8L1223.9,716.4L1223.3,715.4L1177.9,766.7L1133.7,815.4L1092.8,858.7L1058.5,892.2Z" fill="#46ff00" stroke="#46ff00"/><path d="M1036.7,909.1L1037.6,910.6L1060.2,895.1L1094.4,861.4L1135.1,817.9L1179.2,768.9L1224.5,717.3L1223.9,716.4L1178.6,767.8L1134.4,816.7L1093.6,860.1L1059.3,893.7Z" fill="#52ff00" stroke="#52ff00"/><path d="M1037.6,910.6L1038.5,912L1061,896.4L1095.1,862.7L1135.8,819.1L1179.9,769.9L1225.1,718.3L1224.5,717.3L1179.2,768.9L1135.1,817.9L1094.4,861.4L1060.2,895.1Z" fill="#5dff00" stroke="#5dff00"/><path d="M1038.5,912L1039.4,913.4L1061.9,897.7L1095.9,863.9L1136.5,820.2L1180.5,771L1225.7,719.2L1225.1,718.3L1179.9,769.9L1135.8,819.1L1095.1,862.7L1061,896.4Z" fill="#68ff00" stroke="#68ff00"/><path d="M1039.4,913.4L1040.3,914.7L1062.7,899L1096.7,865.1L1137.2,821.3L1181.2,771.9L1226.3,720L1225.7,719.2L1180.5,771L1136.5,820.2L1095.9,863.9L1061.9,897.7Z" fill="#74ff00" stroke="#74ff00"/><path d="M1040.3,914.7L1041.2,916.1L1063.6,900.3L1097.5,866.3L1137.9,822.4L1181.8,772.9L1226.9,720.9L1226.3,720L1181.2,771.9L1137.2,821.3L1096.7,865.1L1062.7,899Z" fill="#7fff00" stroke="#7fff00"/><path d="M1041.2,916.1L1042.1,917.4L1064.4,901.6L1098.2,867.5L1138.7,823.5L1182.5,773.9L1227.5,721.7L1226.9,720.9L1181.8,772.9L1137.9,822.4L1097.5,866.3L1063.6,900.3Z" fill="#8bff00" stroke="#8bff00"/><path d="M1042.1,917.4L1043,918.6L1065.2,902.8L1099,868.6L1139.4,824.5L1183.1,774.8L1228.1,722.4L1227.5,721.7L1182.5,773.9L1138.7,823.5L1098.2,867.5L1064.4,901.6Z" fill="#96ff00" stroke="#96ff00"/><path d="M1043,918.6L1043.9,919.9L1066.1,904L1099.8,869.8L1140.1,825.5L1183.8,775.7L1228.7,723.2L1228.1,722.4L1183.1,774.8L1139.4,824.5L1099,868.6L1065.2,902.8Z" fill="#a1ff00" stroke="#a1ff00"/><path d="M1043.9,919.9L1044.8,921.2L1066.9,905.2L1100.6,870.9L1140.9,826.5L1184.5,776.5L1229.4,723.9L1228.7,723.2L1183.8,775.7L1140.1,825.5L1099.8,869.8L1066.1,904Z" fill="#adff00" stroke="#adff00"/><path d="M1044.8,921.2L1045.7,922.4L1067.8,906.4L1101.4,871.9L1141.6,827.5L1185.3,777.3L1230.1,724.5L1229.4,723.9L1184.5,776.5L1140.9,826.5L1100.6,870.9L1066.9,905.2Z" fill="#b8ff00" stroke="#b8ff00"/><path d="M1045.7,922.4L1046.5,923.6L1068.7,907.5L1102.3,873L1142.5,828.4L1186,778.1L1230.8,725.1L1230.1,724.5L1185.3,777.3L1141.6,827.5L1101.4,871.9L1067.8,906.4Z" fill="#c3ff00" stroke="#c3ff00"/><path d="M1046.5,923.6L1047.4,924.7L1069.5,908.7L1103.2,874L1143.3,829.3L1186.9,778.9L1231.7,725.7L1230.8,725.1L1186,778.1L1142.5,828.4L1102.3,873L1068.7,907.5Z" fill="#cfff00" stroke="#cfff00"/><path d="M1047.4,924.7L1048.3,925.9L1070.4,909.8L1104.1,875.1L1144.2,830.2L1187.8,779.7L1232.6,726.4L1231.7,725.7L1186.9,778.9L1143.3,829.3L1103.2,874L1069.5,908.7Z" fill="#daff00" stroke="#daff00"/><path d="M1048.3,925.9L1049.1,927L1071.4,910.9L1105.1,876.1L1145.2,831.2L1188.8,780.5L1233.6,727.1L1232.6,726.4L1187.8,779.7L1144.2,830.2L1104.1,875.1L1070.4,909.8Z" fill="#e5ff00" stroke="#e5ff00"/><path d="M1049.1,927L1050,928.1L1072.4,912.1L1106.2,877.3L1146.5,832.3L1190.1,781.5L1235,728L1233.6,727.1L1188.8,780.5L1145.2,831.2L1105.1,876.1L1071.4,910.9Z" fill="#f1ff00" stroke="#f1ff00"/><path d="M1050,928.1L1050.6,928.9L1091.2,904.2L1121.5,870.2L1175.3,806.2L1237.6,729.8L1235,728L1190.1,781.5L1146.5,832.3L1106.2,877.3L1072.4,912.1Z" fill="#fcff00" stroke="#fcff00"/><path d="M1091.2,904.2L1181.3,814.5L1242,732.4L1237.6,729.8L1175.3,806.2L1121.5,870.2Z" fill="#fff700" stroke="#fff700"/><path d="M1181.3,814.5L1251.7,736.5L1251.7,736.5L1242,732.4Z" fill="#ffeb00" stroke="#ffeb00"/></g><g stroke-width="0.6" stroke-linejoin="round"><path d="M1253,735.3L1251.7,736.5L1251.7,736.5L1050.6,928.9L1051.7,928.7L1070.3,921.4L1094.4,902.1L1122.6,875.7L1153.6,844.4L1186.2,809.8L1219.5,773.1Z" fill="#a19b00" stroke="#a19b00"/><path d="M1254.3,734L1253,735.3L1219.5,773.1L1186.2,809.8L1153.6,844.4L1122.6,875.7L1094.4,902.1L1070.3,921.4L1051.7,928.7L1056.6,927.7L1078,917.5L1106.9,892.5L1140.7,859.1L1177.5,820.1L1215.7,777.9Z" fill="#adbf00" stroke="#adbf00"/><path d="M1255.6,732.8L1254.3,734L1215.7,777.9L1177.5,820.1L1140.7,859.1L1106.9,892.5L1078,917.5L1056.6,927.7L1061,926.5L1081.7,916.1L1110,891L1143.4,857.5L1179.7,818.6L1217.5,776.5Z" fill="#90b800" stroke="#90b800"/><path d="M1257,731.5L1255.6,732.8L1217.5,776.5L1179.7,818.6L1143.4,857.5L1110,891L1081.7,916.1L1061,926.5L1065,925.3L1085.1,914.7L1113,889.5L1145.9,856L1181.8,817.1L1219.2,775.1Z" fill="#76b400" stroke="#76b400"/><path d="M1258.4,730.2L1257,731.5L1219.2,775.1L1181.8,817.1L1145.9,856L1113,889.5L1085.1,914.7L1065,925.3L1068.9,923.9L1088.4,913.2L1115.8,887.9L1148.4,854.4L1183.9,815.6L1221,773.7Z" fill="#5db100" stroke="#5db100"/><path d="M1259.9,728.9L1258.4,730.2L1221,773.7L1183.9,815.6L1148.4,854.4L1115.8,887.9L1088.4,913.2L1068.9,923.9L1072.5,922.6L1091.6,911.7L1118.6,886.4L1150.8,852.8L1186,814.1L1222.7,772.2Z" fill="#46af00" stroke="#46af00"/><path d="M1261.4,727.6L1259.9,728.9L1222.7,772.2L1186,814.1L1150.8,852.8L1118.6,886.4L1091.6,911.7L1072.5,922.6L1076.1,921.2L1094.6,910.1L1121.3,884.7L1153.2,851.2L1188.1,812.5L1224.6,770.8Z" fill="#2fac00" stroke="#2fac00"/><path d="M1263,726.3L1261.4,727.6L1224.6,770.8L1188.1,812.5L1153.2,851.2L1121.3,884.7L1094.6,910.1L1076.1,921.2L1079.5,919.5L1102.4,904.1L1136.2,870.4L1176.1,826.8L1219.1,777.8Z" fill="#18a800" stroke="#18a800"/><path d="M1264.7,725L1263,726.3L1219.1,777.8L1176.1,826.8L1136.2,870.4L1102.4,904.1L1079.5,919.5L1082.8,917.8L1105.3,902.3L1138.8,868.5L1178.4,825.1L1221.1,776.2Z" fill="#03a500" stroke="#03a500"/><path d="M1266.5,723.6L1264.7,725L1221.1,776.2L1178.4,825.1L1138.8,868.5L1105.3,902.3L1082.8,917.8L1085.8,916.2L1108,900.6L1141.3,866.9L1180.7,823.4L1223.2,774.7Z" fill="#00a512" stroke="#00a512"/><path d="M1268.5,722.2L1266.5,723.6L1223.2,774.7L1180.7,823.4L1141.3,866.9L1108,900.6L1085.8,916.2L1088.6,914.8L1110.6,899.1L1143.7,865.3L1183,821.9L1225.3,773.2Z" fill="#00a728" stroke="#00a728"/><path d="M1270.7,720.6L1268.5,722.2L1225.3,773.2L1183,821.9L1143.7,865.3L1110.6,899.1L1088.6,914.8L1091.3,913.4L1113.2,897.7L1146.2,863.9L1185.4,820.4L1227.6,771.7Z" fill="#00a93e" stroke="#00a93e"/><path d="M1273.3,719L1270.7,720.6L1227.6,771.7L1185.4,820.4L1146.2,863.9L1113.2,897.7L1091.3,913.4L1093.9,912L1115.9,896.3L1148.9,862.4L1188,818.9L1230.2,770.1Z" fill="#00aa54" stroke="#00aa54"/><path d="M1276.3,717.2L1273.3,719L1230.2,770.1L1188,818.9L1148.9,862.4L1115.9,896.3L1093.9,912L1096.5,910.6L1118.6,894.9L1151.7,861L1191,817.3L1233.2,768.4Z" fill="#00ad6c" stroke="#00ad6c"/><path d="M1279.7,715.3L1276.3,717.2L1233.2,768.4L1191,817.3L1151.7,861L1118.6,894.9L1096.5,910.6L1099.2,909.4L1121.6,893.6L1154.8,859.6L1194.2,815.8L1236.5,766.7Z" fill="#00b386" stroke="#00b386"/><path d="M1283.5,713.4L1279.7,715.3L1236.5,766.7L1194.2,815.8L1154.8,859.6L1121.6,893.6L1099.2,909.4L1102,908.2L1124.8,892.5L1158.3,858.4L1197.8,814.4L1240.3,765.1Z" fill="#00baa3" stroke="#00baa3"/><path d="M1287.8,711.6L1283.5,713.4L1240.3,765.1L1197.8,814.4L1158.3,858.4L1124.8,892.5L1102,908.2L1105.1,907L1128.2,891.4L1162,857.2L1201.8,813.1L1244.4,763.5Z" fill="#00c1c1" stroke="#00c1c1"/><path d="M1292.2,710.2L1287.8,711.6L1244.4,763.5L1201.8,813.1L1162,857.2L1128.2,891.4L1105.1,907L1108.1,906L1126.9,894.7L1153.7,869L1185.4,835L1220,795.8L1256,753.7Z" fill="#00b0ca" stroke="#00b0ca"/><path d="M1297.1,708.9L1292.2,710.2L1256,753.7L1220,795.8L1185.4,835L1153.7,869L1126.9,894.7L1108.1,906L1111,905L1130.5,893.9L1157.6,868.2L1189.6,834.1L1224.4,794.8L1260.6,752.5Z" fill="#009bd2" stroke="#009bd2"/><path d="M1302.6,707.9L1297.1,708.9L1260.6,752.5L1224.4,794.8L1189.6,834.1L1157.6,868.2L1130.5,893.9L1111,905L1114.1,904L1134.2,893.2L1161.8,867.5L1194.3,833.4L1229.5,794.1L1266,751.7Z" fill="#0087dc" stroke="#0087dc"/><path d="M1292.4,722.9L1304.1,707.7L1302.6,707.9L1266,751.7L1229.5,794.1L1194.3,833.4L1161.8,867.5L1134.2,893.2L1114.1,904L1117.2,903.2L1136,893.5L1161.4,870.3L1191.3,839.2L1223.9,803.1L1257.9,763.8Z" fill="#0069d9" stroke="#0069d9"/><path d="M1276.3,743.7L1292.4,722.9L1257.9,763.8L1223.9,803.1L1191.3,839.2L1161.4,870.3L1136,893.5L1117.2,903.2L1120.5,902.3L1137.2,894.2L1159.5,874.2L1185.8,847.2L1214.7,815.4L1245.1,780.5Z" fill="#004dd8" stroke="#004dd8"/><path d="M1259.3,765.7L1276.3,743.7L1245.1,780.5L1214.7,815.4L1185.8,847.2L1159.5,874.2L1137.2,894.2L1120.5,902.3L1124.2,901.5L1142.1,892.1L1166.5,869.6L1195.1,839.4L1226.5,804.1Z" fill="#0032da" stroke="#0032da"/><path d="M1241.3,788.9L1259.3,765.7L1226.5,804.1L1195.1,839.4L1166.5,869.6L1142.1,892.1L1124.2,901.5L1128.4,900.7L1143.5,893.3L1163.5,875.1L1187.3,850.4L1213.5,821.2Z" fill="#0017dc" stroke="#0017dc"/><path d="M1222.2,813.6L1241.3,788.9L1213.5,821.2L1187.3,850.4L1163.5,875.1L1143.5,893.3L1128.4,900.7L1133.8,899.7L1145.6,894.3L1161.1,880.6L1179.5,861.7L1200.1,839Z" fill="#0500de" stroke="#0500de"/><path d="M1201.9,839.8L1222.2,813.6L1200.1,839L1179.5,861.7L1161.1,880.6L1145.6,894.3L1133.8,899.7L1139.7,898.8L1150.6,893.4L1165.1,880.1L1182.5,861.8Z" fill="#2200e0" stroke="#2200e0"/><path d="M1180.3,867.7L1201.9,839.8L1182.5,861.8L1165.1,880.1L1150.6,893.4L1139.7,898.8L1146.7,898L1155.2,893.6L1166.6,882.7Z" fill="#4000e4" stroke="#4000e4"/><path d="M1157.3,897.4L1180.3,867.7L1166.6,882.7L1155.2,893.6L1146.7,898L1157.3,897.4Z" fill="#5f00ea" stroke="#5f00ea"/></g><g clip-path="url(#cpe2)"><ellipse cx="1172" cy="822" rx="30" ry="14" transform="rotate(-43.7 1172 822)" fill="url(#bl6)"/><ellipse cx="1145" cy="845" rx="30" ry="13" transform="rotate(-43.7 1145 845)" fill="url(#bl7)"/><ellipse cx="1172" cy="823" rx="17" ry="9" transform="rotate(-43.7 1172 823)" fill="url(#bl4)"/><ellipse cx="1187" cy="806" rx="14" ry="7" transform="rotate(-43.7 1187 806)" fill="url(#bl8)"/><ellipse cx="1230" cy="752" rx="30" ry="7" transform="rotate(-43.7 1230 752)" fill="url(#bl9)"/></g>
<path d="M805.5,745.9L823.6,760.1L843.4,776.3L852.6,784.2L871.1,800.7L887.9,814.8L894,819.7L900,823.8L913.4,830.4L925.3,835.4L949.7,840.1L974,845.3L983.6,852L993.2,859.6L1001.9,867L1018.4,882.8L1024.2,889L1027.2,892.7L1029.1,895.7L1036,908L1039,912.7L1044.8,921.2L1050.6,928.9L1060.7,926.6L1067,924.6L1073.4,922.2L1079.9,919.3L1098.5,909.6L1106.7,906.5L1113.6,904.2L1123.3,901.7L1135.9,899.4L1147.3,898L1157.3,897.4M1005.2,577.6L1030.4,598.3L1056.9,621.2L1081,642.9L1105,665.6L1109.6,666.4L1114.9,666.7L1120.9,666.6L1127.7,666L1131.8,664.7L1142.2,659.7L1145,658.9L1147.7,658.6L1154,658.8L1158.8,659.7L1164.8,662.1L1172,665.4L1180.3,669.8L1187.5,674.2L1192.2,677.6L1197,681.7L1205.1,689.8L1209.7,695.3L1218.8,708L1225.4,718.8L1228.8,723.3L1231.1,725.4L1237.1,729.4L1241.9,732.3L1246.8,734.7L1251.7,736.5L1258.4,730.2L1265.1,724.7L1271.1,720.4L1278.4,716L1284.4,713L1290.4,710.8L1297.6,708.8L1304.1,707.7M809.6,742.4L1002.4,579.9M1160.5,893.4L1302.1,710.3" class="e"/>
<g stroke="#5c5c5c" stroke-width="1" fill="none"><path d="M793.2,740.1L1163.7,868.8" stroke-dasharray="3 1.5"/><path d="M1163.7,868.8L1320.2,653.7"/><path d="M1156.2,998.2L1163.7,868.8" stroke-dasharray="9 3"/></g>
<g font-family="Liberation Sans,sans-serif" font-weight="bold" font-size="24.7" stroke="#000" stroke-width="0.25"><text transform="translate(775.5,890.9) scale(0.876,1)" textLength="42.2" lengthAdjust="spacing">−10</text><text transform="translate(864.7,921) scale(0.876,1)" textLength="28.5" lengthAdjust="spacing">−5</text><text transform="translate(965.2,952.4) scale(0.876,1)" text-anchor="middle">0</text><text transform="translate(1050.4,984.8) scale(0.876,1)" text-anchor="middle">5</text><text transform="translate(1137,1021.6) scale(0.876,1)" text-anchor="middle">10</text><text transform="translate(943.5,968.9) scale(0.876,1)" text-anchor="middle">z</text><text transform="translate(1172.2,1007.5) scale(0.876,1)" text-anchor="middle">0</text><text transform="translate(1225.4,924) scale(0.876,1)" text-anchor="middle">1</text><text transform="translate(1272.2,852.4) scale(0.876,1)" text-anchor="middle">2</text><text transform="translate(1313.6,789.1) scale(0.876,1)" text-anchor="middle">3</text><text transform="translate(1272.6,897.4) scale(0.876,1)" text-anchor="middle">t</text><text transform="translate(789.9,760.9) scale(0.876,1)" text-anchor="end">0.3</text><text transform="translate(796.5,799.1) scale(0.876,1)" text-anchor="end">0.2</text><text transform="translate(800.1,835.1) scale(0.876,1)" text-anchor="end">0.1</text><text transform="translate(675.3,798.3) scale(0.876,1)" textLength="97.6" lengthAdjust="spacing" xml:space="preserve" font-weight="normal" stroke-width="0.1">| <tspan font-style="italic">ψ</tspan> ( <tspan font-weight="bold" stroke-width="0.25">z,t</tspan>) |</text></g>
<g stroke="#5c5c5c" stroke-width="1" fill="none"><path d="M1488.8,863.7L1682.8,682.5"/><path d="M1682.8,682.5L1980,771.9" stroke-dasharray="4 2"/><path d="M1682.8,682.5L1678.9,570.7"/><path d="M1469.2,740.1L1678.9,570.7"/><path d="M1678.9,570.7L1996.2,653.7" stroke-dasharray="5 2.5"/><path d="M1980,771.9L1996.2,653.7" stroke-dasharray="9 3"/><path d="M1488.8,863.7L1469.2,740.1" stroke-dasharray="5 2"/><path d="M1488.8,863.7L1832.2,998.2" stroke-dasharray="7 1.5"/><path d="M1832.2,998.2L1980,771.9"/><path d="M1494.6,866L1499.3,861.5M1509.4,871.8L1512,869.3M1524.3,877.6L1526.9,875.1M1539.4,883.5L1541.9,881M1554.6,889.5L1557.2,886.9M1570.1,895.5L1574.6,890.8M1585.7,901.6L1588.2,899M1601.5,907.8L1603.9,905.2M1617.5,914.1L1619.9,911.4M1633.6,920.4L1636,917.7M1650,926.8L1654.2,921.9M1666.5,933.3L1668.8,930.5M1683.3,939.9L1685.5,937.1M1700.2,946.5L1702.5,943.7M1717.3,953.2L1719.6,950.4M1734.7,960L1738.6,954.8M1752.3,966.9L1754.4,964M1770,973.8L1772.2,970.9M1788,980.9L1790.1,977.9M1806.3,988L1808.3,985M1824.7,995.2L1828.3,989.8M1835.7,992.8L1829.6,990.4M1847.1,975.2L1843.8,973.9M1858.3,958.2L1854.9,956.9M1869.1,941.7L1865.7,940.4M1879.6,925.6L1876.2,924.4M1889.8,910L1883.6,907.9M1899.7,894.9L1896.3,893.7M1909.3,880.1L1905.9,879M1918.7,865.8L1915.3,864.7M1927.8,851.9L1924.4,850.7M1936.7,838.3L1930.5,836.3M1945.3,825.1L1941.9,824M1953.7,812.2L1950.3,811.1M1961.9,799.6L1958.5,798.5M1969.9,787.4L1966.5,786.3M1977.7,775.5L1971.5,773.6M1488.4,861.5L1494.5,863.8M1483.2,828.6L1489.3,830.9M1477.8,794.4L1483.9,796.6M1472.1,758.7L1478.3,760.9M1487.4,855L1490.7,856.3M1486.3,848.5L1489.7,849.8M1485.3,841.9L1488.7,843.2M1484.3,835.3L1487.6,836.6M1482.1,821.9L1485.5,823.1M1481.1,815.1L1484.4,816.4M1480,808.2L1483.3,809.5M1478.9,801.3L1482.3,802.6M1476.7,787.4L1480,788.6M1475.5,780.3L1478.9,781.5M1474.4,773.2L1477.8,774.4M1473.3,766L1476.7,767.2M1471,751.4L1474.4,752.6M1469.8,744L1473.2,745.2"/></g>
<g stroke-width="0.6" stroke-linejoin="round"><path d="M1681.2,577.8L1664.2,592.7L1683.4,579.4L1681.2,577.8Z" fill="#ff0010" stroke="#ff0010"/><path d="M1664.2,592.7L1646.6,608.2L1685.5,580.9L1683.4,579.4Z" fill="#ff001e" stroke="#ff001e"/><path d="M1646.6,608.2L1628.3,624.3L1687.5,582.4L1685.5,580.9Z" fill="#ff002b" stroke="#ff002b"/><path d="M1628.3,624.3L1609.3,641L1689.4,584L1687.5,582.4Z" fill="#ff0039" stroke="#ff0039"/><path d="M1609.3,641L1589.6,658.4L1691.3,585.5L1689.4,584Z" fill="#ff0046" stroke="#ff0046"/><path d="M1589.6,658.4L1569.1,676.4L1693.2,586.9L1691.3,585.5Z" fill="#ff0054" stroke="#ff0054"/><path d="M1569.1,676.4L1547.7,695.2L1695,588.4L1693.2,586.9Z" fill="#ff0061" stroke="#ff0061"/><path d="M1502.3,735.1L1482.5,752.6L1483,753L1700.1,592.8L1698.4,591.3Z" fill="#ff008a" stroke="#ff008a"/><path d="M1547.7,695.2L1525.5,714.8L1696.7,589.9L1695,588.4Z" fill="#ff006f" stroke="#ff006f"/><path d="M1525.5,714.8L1502.3,735.1L1698.4,591.3L1696.7,589.9Z" fill="#ff007c" stroke="#ff007c"/><path d="M1483,753L1485.8,755L1701.8,594.2L1700.1,592.8Z" fill="#ff0097" stroke="#ff0097"/><path d="M1485.8,755L1488.4,756.9L1703.4,595.6L1701.8,594.2Z" fill="#ff00a5" stroke="#ff00a5"/><path d="M1488.4,756.9L1490.7,758.8L1705,597.1L1703.4,595.6Z" fill="#ff00b2" stroke="#ff00b2"/><path d="M1490.7,758.8L1492.8,760.6L1706.6,598.5L1705,597.1Z" fill="#ff00c0" stroke="#ff00c0"/><path d="M1492.8,760.6L1494.9,762.4L1708.1,599.9L1706.6,598.5Z" fill="#ff00cd" stroke="#ff00cd"/><path d="M1494.9,762.4L1496.8,764.1L1709.6,601.3L1708.1,599.9Z" fill="#ff00db" stroke="#ff00db"/><path d="M1496.8,764.1L1498.7,765.8L1711.2,602.7L1709.6,601.3Z" fill="#ff00e8" stroke="#ff00e8"/><path d="M1498.7,765.8L1500.5,767.5L1712.7,604.1L1711.2,602.7Z" fill="#ff00f6" stroke="#ff00f6"/><path d="M1500.5,767.5L1502.3,769.2L1714.1,605.5L1712.7,604.1Z" fill="#fb00ff" stroke="#fb00ff"/><path d="M1502.3,769.2L1504,770.8L1715.6,606.9L1714.1,605.5Z" fill="#ed00ff" stroke="#ed00ff"/><path d="M1504,770.8L1505.7,772.5L1717.1,608.3L1715.6,606.9Z" fill="#e000ff" stroke="#e000ff"/><path d="M1505.7,772.5L1507.4,774.1L1718.5,609.7L1717.1,608.3Z" fill="#d200ff" stroke="#d200ff"/><path d="M1507.4,774.1L1509,775.7L1720,611L1718.5,609.7Z" fill="#c500ff" stroke="#c500ff"/><path d="M1509,775.7L1510.6,777.3L1721.4,612.4L1720,611Z" fill="#b700ff" stroke="#b700ff"/><path d="M1510.6,777.3L1512.2,778.9L1722.8,613.8L1721.4,612.4Z" fill="#a0f" stroke="#a0f"/><path d="M1512.2,778.9L1513.7,780.5L1724.2,615.2L1722.8,613.8Z" fill="#9c00ff" stroke="#9c00ff"/><path d="M1513.7,780.5L1515.2,782.1L1725.6,616.5L1724.2,615.2Z" fill="#8e00ff" stroke="#8e00ff"/><path d="M1515.2,782.1L1516.8,783.7L1727,617.9L1725.6,616.5Z" fill="#8100ff" stroke="#8100ff"/><path d="M1516.8,783.7L1518.2,785.2L1728.3,619.2L1727,617.9Z" fill="#7300ff" stroke="#7300ff"/><path d="M1518.2,785.2L1519.6,786.8L1729.6,620.6L1728.3,619.2Z" fill="#60f" stroke="#60f"/><path d="M1519.6,786.8L1521,788.3L1730.9,621.9L1729.6,620.6Z" fill="#5800ff" stroke="#5800ff"/><path d="M1521,788.3L1522.3,789.8L1732.1,623.2L1730.9,621.9Z" fill="#4b00ff" stroke="#4b00ff"/><path d="M1522.3,789.8L1523.6,791.3L1733.3,624.5L1732.1,623.2Z" fill="#3d00ff" stroke="#3d00ff"/><path d="M1523.6,791.3L1524.8,792.8L1734.5,625.8L1733.3,624.5Z" fill="#3000ff" stroke="#3000ff"/><path d="M1524.8,792.8L1526,794.3L1735.6,627.1L1734.5,625.8Z" fill="#20f" stroke="#20f"/><path d="M1526,794.3L1527.2,795.7L1736.7,628.4L1735.6,627.1Z" fill="#1500ff" stroke="#1500ff"/><path d="M1527.2,795.7L1528.4,797.2L1737.7,629.7L1736.7,628.4Z" fill="#0700ff" stroke="#0700ff"/><path d="M1528.4,797.2L1529.6,798.6L1738.7,630.9L1737.7,629.7Z" fill="#0006ff" stroke="#0006ff"/><path d="M1529.6,798.6L1530.7,800L1739.7,632.2L1738.7,630.9Z" fill="#0014ff" stroke="#0014ff"/><path d="M1530.7,800L1531.8,801.5L1740.6,633.4L1739.7,632.2Z" fill="#0021ff" stroke="#0021ff"/><path d="M1531.8,801.5L1532.9,802.9L1741.5,634.7L1740.6,633.4Z" fill="#002fff" stroke="#002fff"/><path d="M1532.9,802.9L1534,804.3L1742.3,635.9L1741.5,634.7Z" fill="#003cff" stroke="#003cff"/><path d="M1534,804.3L1535,805.7L1743.1,637L1742.3,635.9Z" fill="#004aff" stroke="#004aff"/><path d="M1535,805.7L1536.1,807.1L1743.7,638.2L1743.1,637Z" fill="#0057ff" stroke="#0057ff"/><path d="M1536.1,807.1L1537.1,808.5L1744.4,639.4L1743.7,638.2Z" fill="#0065ff" stroke="#0065ff"/><path d="M1537.1,808.5L1538.2,809.9L1745,640.5L1744.4,639.4Z" fill="#0072ff" stroke="#0072ff"/><path d="M1538.2,809.9L1539.2,811.3L1745.6,641.6L1745,640.5Z" fill="#0080ff" stroke="#0080ff"/><path d="M1539.2,811.3L1540.2,812.7L1746.2,642.8L1745.6,641.6Z" fill="#008dff" stroke="#008dff"/><path d="M1540.2,812.7L1541.1,814.1L1746.7,643.9L1746.2,642.8Z" fill="#009bff" stroke="#009bff"/><path d="M1541.1,814.1L1541.9,815.4L1747.3,645L1746.7,643.9Z" fill="#00a8ff" stroke="#00a8ff"/><path d="M1541.9,815.4L1542.8,816.7L1747.8,646.2L1747.3,645Z" fill="#00b6ff" stroke="#00b6ff"/><path d="M1542.8,816.7L1543.6,818L1748.4,647.3L1747.8,646.2Z" fill="#00c3ff" stroke="#00c3ff"/><path d="M1543.6,818L1544.4,819.3L1748.9,648.4L1748.4,647.3Z" fill="#00d1ff" stroke="#00d1ff"/><path d="M1544.4,819.3L1545.1,820.6L1749.5,649.5L1748.9,648.4Z" fill="#00deff" stroke="#00deff"/><path d="M1545.1,820.6L1545.9,821.9L1750,650.6L1749.5,649.5Z" fill="#00ecff" stroke="#00ecff"/><path d="M1545.9,821.9L1546.6,823.2L1750.6,651.8L1750,650.6Z" fill="#00f9ff" stroke="#00f9ff"/><path d="M1546.6,823.2L1547.4,824.5L1751.2,652.9L1750.6,651.8Z" fill="#00fff7" stroke="#00fff7"/><path d="M1547.4,824.5L1548.1,825.7L1751.7,654L1751.2,652.9Z" fill="#00ffea" stroke="#00ffea"/><path d="M1548.1,825.7L1548.8,827L1752.3,655.2L1751.7,654Z" fill="#00ffdc" stroke="#00ffdc"/><path d="M1548.8,827L1549.6,828.3L1753,656.3L1752.3,655.2Z" fill="#00ffcf" stroke="#00ffcf"/><path d="M1549.6,828.3L1550.4,829.6L1753.6,657.4L1753,656.3Z" fill="#00ffc1" stroke="#00ffc1"/><path d="M1550.4,829.6L1551.1,830.9L1754.3,658.6L1753.6,657.4Z" fill="#00ffb4" stroke="#00ffb4"/><path d="M1551.1,830.9L1551.9,832.2L1755.1,659.8L1754.3,658.6Z" fill="#00ffa6" stroke="#00ffa6"/><path d="M1551.9,832.2L1552.8,833.5L1755.9,661L1755.1,659.8Z" fill="#0f9" stroke="#0f9"/><path d="M1552.8,833.5L1553.7,834.8L1756.9,662.2L1755.9,661Z" fill="#00ff8b" stroke="#00ff8b"/><path d="M1553.7,834.8L1554.6,836.2L1758.1,663.5L1756.9,662.2Z" fill="#00ff7e" stroke="#00ff7e"/><path d="M1554.6,836.2L1555.6,837.6L1759.6,664.9L1758.1,663.5Z" fill="#00ff70" stroke="#00ff70"/><path d="M1555.6,837.6L1556.9,839L1761.3,666.3L1759.6,664.9Z" fill="#00ff63" stroke="#00ff63"/><path d="M1556.9,839L1558.4,840.6L1763.2,667.9L1761.3,666.3Z" fill="#0f5" stroke="#0f5"/><path d="M1558.4,840.6L1560,842.2L1765.3,669.4L1763.2,667.9Z" fill="#00ff48" stroke="#00ff48"/><path d="M1560,842.2L1561.7,843.8L1767.2,670.9L1765.3,669.4Z" fill="#00ff3a" stroke="#00ff3a"/><path d="M1561.7,843.8L1563.5,845.5L1768.8,672.3L1767.2,670.9Z" fill="#00ff2d" stroke="#00ff2d"/><path d="M1563.5,845.5L1565.4,847.2L1770.4,673.7L1768.8,672.3Z" fill="#00ff1f" stroke="#00ff1f"/><path d="M1565.4,847.2L1567.3,848.9L1772,675.2L1770.4,673.7Z" fill="#0f1" stroke="#0f1"/><path d="M1567.3,848.9L1569.5,850.7L1773.5,676.5L1772,675.2Z" fill="#00ff04" stroke="#00ff04"/><path d="M1569.5,850.7L1572,852.6L1775,677.9L1773.5,676.5Z" fill="#0aff00" stroke="#0aff00"/><path d="M1572,852.6L1575.1,854.8L1776.5,679.3L1775,677.9Z" fill="#17ff00" stroke="#17ff00"/><path d="M1575.1,854.8L1581,857.8L1601.9,839.5L1777.9,680.7L1776.5,679.3Z" fill="#25ff00" stroke="#25ff00"/><path d="M1601.9,839.5L1698.9,754.8L1779.3,682L1777.9,680.7Z" fill="#32ff00" stroke="#32ff00"/><path d="M1698.9,754.8L1780.7,683.4L1780.7,683.4L1779.3,682Z" fill="#40ff00" stroke="#40ff00"/></g><g clip-path="url(#cpf0)"><ellipse cx="1630" cy="806" rx="30" ry="8" transform="rotate(-44 1630 806)" fill="url(#bl10)"/><ellipse cx="1659" cy="781" rx="14" ry="6" transform="rotate(-44 1659 781)" fill="url(#bl11)"/><ellipse cx="1686" cy="759" rx="26" ry="8" transform="rotate(-44 1686 759)" fill="url(#bl12)"/></g><g stroke-width="0.6" stroke-linejoin="round"><path d="M1784.7,678.2L1782.7,680.8L1581.6,856.9L1583.6,854.4Z" fill="#02a100" stroke="#02a100"/><path d="M1782.7,680.8L1780.7,683.4L1780.7,683.4L1581,857.8L1581.6,856.9Z" fill="#1fa600" stroke="#1fa600"/><path d="M1786.9,675.7L1784.7,678.2L1583.6,854.4L1585.7,851.8Z" fill="#009d1a" stroke="#009d1a"/><path d="M1789.2,673.2L1786.9,675.7L1585.7,851.8L1587.9,849.3Z" fill="#009834" stroke="#009834"/><path d="M1791.7,670.7L1789.2,673.2L1587.9,849.3L1590.2,846.8Z" fill="#00944c" stroke="#00944c"/><path d="M1794.4,668.2L1791.7,670.7L1590.2,846.8L1592.8,844.4Z" fill="#009164" stroke="#009164"/><path d="M1797.4,665.8L1794.4,668.2L1592.8,844.4L1595.6,842Z" fill="#00a58f" stroke="#00a58f"/><path d="M1800.9,663.5L1797.4,665.8L1595.6,842L1598.9,839.8Z" fill="#00aab1" stroke="#00aab1"/><path d="M1804.9,661.4L1800.9,663.5L1598.9,839.8L1603,837.9Z" fill="#0098c2" stroke="#0098c2"/><path d="M1810,659.5L1804.9,661.4L1603,837.9L1607.8,836.2Z" fill="#007fd2" stroke="#007fd2"/><path d="M1816.3,658L1810,659.5L1607.8,836.2L1613.4,834.8Z" fill="#0060df" stroke="#0060df"/><path d="M1824.2,656.9L1816.3,658L1613.4,834.8L1621.2,834.1Z" fill="#003df0" stroke="#003df0"/><path d="M1837.9,657.3L1824.2,656.9L1621.2,834.1L1639,837.7L1837.9,657.3Z" fill="#0014ff" stroke="#0014ff"/></g><g stroke-width="0.6" stroke-linejoin="round"><path d="M1837.9,657.3L1639,837.7L1643.6,839.6L1850,661.6L1837.9,657.3Z" fill="#0004ff" stroke="#0004ff"/><path d="M1643.6,839.6L1651.8,843.5L1852.7,663.2L1850,661.6Z" fill="#0010ff" stroke="#0010ff"/><path d="M1651.8,843.5L1656.3,846L1854.9,664.7L1852.7,663.2Z" fill="#001bff" stroke="#001bff"/><path d="M1656.3,846L1659.6,848.1L1856.8,666.1L1854.9,664.7Z" fill="#0027ff" stroke="#0027ff"/><path d="M1659.6,848.1L1662.3,850.1L1858.5,667.4L1856.8,666.1Z" fill="#03f" stroke="#03f"/><path d="M1662.3,850.1L1664.8,851.9L1860.1,668.8L1858.5,667.4Z" fill="#003eff" stroke="#003eff"/><path d="M1664.8,851.9L1667.1,853.7L1861.7,670.1L1860.1,668.8Z" fill="#004aff" stroke="#004aff"/><path d="M1667.1,853.7L1669.3,855.4L1863.2,671.4L1861.7,670.1Z" fill="#0056ff" stroke="#0056ff"/><path d="M1669.3,855.4L1671.3,857L1864.6,672.7L1863.2,671.4Z" fill="#0061ff" stroke="#0061ff"/><path d="M1671.3,857L1673.3,858.7L1865.8,673.9L1864.6,672.7Z" fill="#006dff" stroke="#006dff"/><path d="M1673.3,858.7L1675,860.2L1866.8,675L1865.8,673.9Z" fill="#0079ff" stroke="#0079ff"/><path d="M1675,860.2L1676.4,861.7L1867.7,676.1L1866.8,675Z" fill="#0084ff" stroke="#0084ff"/><path d="M1676.4,861.7L1677.7,863.1L1868.5,677.3L1867.7,676.1Z" fill="#0090ff" stroke="#0090ff"/><path d="M1677.7,863.1L1678.8,864.4L1869.3,678.4L1868.5,677.3Z" fill="#009cff" stroke="#009cff"/><path d="M1678.8,864.4L1679.9,865.7L1870.1,679.5L1869.3,678.4Z" fill="#00a8ff" stroke="#00a8ff"/><path d="M1679.9,865.7L1681,867.1L1870.9,680.5L1870.1,679.5Z" fill="#00b3ff" stroke="#00b3ff"/><path d="M1681,867.1L1682,868.3L1871.6,681.6L1870.9,680.5Z" fill="#00bfff" stroke="#00bfff"/><path d="M1682,868.3L1683,869.6L1872.4,682.7L1871.6,681.6Z" fill="#00cbff" stroke="#00cbff"/><path d="M1683,869.6L1684,870.9L1873.2,683.8L1872.4,682.7Z" fill="#00d6ff" stroke="#00d6ff"/><path d="M1684,870.9L1684.9,872.2L1873.9,684.9L1873.2,683.8Z" fill="#00e2ff" stroke="#00e2ff"/><path d="M1684.9,872.2L1685.9,873.5L1874.7,686L1873.9,684.9Z" fill="#0ef" stroke="#0ef"/><path d="M1685.9,873.5L1686.9,874.7L1875.6,687.1L1874.7,686Z" fill="#00f9ff" stroke="#00f9ff"/><path d="M1686.9,874.7L1687.8,876L1876.5,688.2L1875.6,687.1Z" fill="#00fff9" stroke="#00fff9"/><path d="M1687.8,876L1688.8,877.3L1877.4,689.4L1876.5,688.2Z" fill="#00ffed" stroke="#00ffed"/><path d="M1688.8,877.3L1689.8,878.6L1878.3,690.5L1877.4,689.4Z" fill="#00ffe2" stroke="#00ffe2"/><path d="M1689.8,878.6L1690.9,879.9L1879.2,691.6L1878.3,690.5Z" fill="#00ffd6" stroke="#00ffd6"/><path d="M1690.9,879.9L1692,881.2L1880.2,692.8L1879.2,691.6Z" fill="#00ffca" stroke="#00ffca"/><path d="M1692,881.2L1693,882.5L1881.1,693.9L1880.2,692.8Z" fill="#00ffbe" stroke="#00ffbe"/><path d="M1693,882.5L1694,883.8L1882.1,695L1881.1,693.9Z" fill="#00ffb3" stroke="#00ffb3"/><path d="M1694,883.8L1695,885.1L1883.1,696.2L1882.1,695Z" fill="#00ffa7" stroke="#00ffa7"/><path d="M1695,885.1L1696,886.3L1884,697.3L1883.1,696.2Z" fill="#00ff9b" stroke="#00ff9b"/><path d="M1696,886.3L1696.9,887.6L1885,698.5L1884,697.3Z" fill="#00ff90" stroke="#00ff90"/><path d="M1696.9,887.6L1697.9,888.9L1886,699.6L1885,698.5Z" fill="#00ff84" stroke="#00ff84"/><path d="M1697.9,888.9L1698.9,890.2L1886.9,700.8L1886,699.6Z" fill="#00ff78" stroke="#00ff78"/><path d="M1698.9,890.2L1699.9,891.4L1887.9,701.9L1886.9,700.8Z" fill="#00ff6d" stroke="#00ff6d"/><path d="M1699.9,891.4L1700.9,892.7L1888.8,703L1887.9,701.9Z" fill="#00ff61" stroke="#00ff61"/><path d="M1700.9,892.7L1701.9,894L1889.8,704.2L1888.8,703Z" fill="#0f5" stroke="#0f5"/><path d="M1701.9,894L1703,895.3L1890.8,705.3L1889.8,704.2Z" fill="#00ff4a" stroke="#00ff4a"/><path d="M1703,895.3L1704.1,896.7L1891.7,706.4L1890.8,705.3Z" fill="#00ff3e" stroke="#00ff3e"/><path d="M1704.1,896.7L1705.4,898L1892.6,707.6L1891.7,706.4Z" fill="#00ff32" stroke="#00ff32"/><path d="M1705.4,898L1706.7,899.4L1893.6,708.7L1892.6,707.6Z" fill="#00ff26" stroke="#00ff26"/><path d="M1706.7,899.4L1708.3,900.9L1894.5,709.8L1893.6,708.7Z" fill="#00ff1b" stroke="#00ff1b"/><path d="M1708.3,900.9L1709.9,902.4L1895.4,711L1894.5,709.8Z" fill="#00ff0f" stroke="#00ff0f"/><path d="M1709.9,902.4L1711.6,904L1896.3,712.1L1895.4,711Z" fill="#00ff03" stroke="#00ff03"/><path d="M1711.6,904L1713.3,905.5L1897.2,713.2L1896.3,712.1Z" fill="#08ff00" stroke="#08ff00"/><path d="M1713.3,905.5L1715.2,907.1L1898.1,714.3L1897.2,713.2Z" fill="#14ff00" stroke="#14ff00"/><path d="M1715.2,907.1L1717.2,908.8L1898.9,715.4L1898.1,714.3Z" fill="#20ff00" stroke="#20ff00"/><path d="M1717.2,908.8L1719.4,910.5L1899.8,716.5L1898.9,715.4Z" fill="#2bff00" stroke="#2bff00"/><path d="M1719.4,910.5L1722.1,912.4L1900.7,717.7L1899.8,716.5Z" fill="#37ff00" stroke="#37ff00"/><path d="M1722.1,912.4L1725.5,914.6L1726.9,913.1L1901.6,718.8L1900.7,717.7Z" fill="#43ff00" stroke="#43ff00"/><path d="M1726.9,913.1L1768.7,869L1902.5,719.9L1901.6,718.8Z" fill="#4eff00" stroke="#4eff00"/><path d="M1768.7,869L1807.2,828.4L1903.3,721L1902.5,719.9Z" fill="#5aff00" stroke="#5aff00"/><path d="M1807.2,828.4L1842.6,791L1904.2,722.1L1903.3,721Z" fill="#6f0" stroke="#6f0"/><path d="M1842.6,791L1875.5,756.4L1905,723.2L1904.2,722.1Z" fill="#72ff00" stroke="#72ff00"/><path d="M1875.5,756.4L1905.9,724.3L1905.9,724.3L1905,723.2Z" fill="#7dff00" stroke="#7dff00"/></g><g stroke-width="0.6" stroke-linejoin="round"><path d="M1910.6,718.9L1908.2,721.6L1771.2,866.4L1725.5,914.6L1727.2,912.7Z" fill="#29a900" stroke="#29a900"/><path d="M1913.1,716.2L1910.6,718.9L1727.2,912.7L1729.5,910Z" fill="#0aa700" stroke="#0aa700"/><path d="M1915.6,713.5L1913.1,716.2L1729.5,910L1732,907.3Z" fill="#00a413" stroke="#00a413"/><path d="M1908.2,721.6L1905.9,724.3L1905.9,724.3L1771.2,866.4Z" fill="#48aa00" stroke="#48aa00"/><path d="M1918.2,710.9L1915.6,713.5L1732,907.3L1734.5,904.6Z" fill="#008d2a" stroke="#008d2a"/><path d="M1920.9,708.2L1918.2,710.9L1734.5,904.6L1737.2,902Z" fill="#008e44" stroke="#008e44"/><path d="M1923.6,705.5L1920.9,708.2L1737.2,902L1740,899.4Z" fill="#008f5f" stroke="#008f5f"/><path d="M1926.5,702.9L1923.6,705.5L1740,899.4L1742.9,896.8Z" fill="#00917a" stroke="#00917a"/><path d="M1929.5,700.2L1926.5,702.9L1742.9,896.8L1746,894.2Z" fill="#009093" stroke="#009093"/><path d="M1932.6,697.6L1929.5,700.2L1746,894.2L1749.3,891.7Z" fill="#007997" stroke="#007997"/><path d="M1935.8,694.9L1932.6,697.6L1749.3,891.7L1752.8,889.3Z" fill="#00609c" stroke="#00609c"/><path d="M1939.1,692.3L1935.8,694.9L1752.8,889.3L1756.6,886.9Z" fill="#0047a1" stroke="#0047a1"/><path d="M1942.6,689.8L1939.1,692.3L1756.6,886.9L1760.8,884.6Z" fill="#002ba8" stroke="#002ba8"/><path d="M1946.4,687.2L1942.6,689.8L1760.8,884.6L1765.2,882.4Z" fill="#000daf" stroke="#000daf"/><path d="M1950.6,684.8L1946.4,687.2L1765.2,882.4L1770,880.3Z" fill="#1300b7" stroke="#1300b7"/><path d="M1955.2,682.4L1950.6,684.8L1770,880.3L1775.1,878.3Z" fill="#3600bd" stroke="#3600bd"/><path d="M1960.2,680.2L1955.2,682.4L1775.1,878.3L1780.4,876.3Z" fill="#5b00c3" stroke="#5b00c3"/><path d="M1965.9,678.1L1960.2,680.2L1780.4,876.3L1786,874.4Z" fill="#8400cb" stroke="#8400cb"/><path d="M1972.7,676.3L1965.9,678.1L1786,874.4L1792,872.6Z" fill="#b000d5" stroke="#b000d5"/><path d="M1980.8,674.8L1972.7,676.3L1792,872.6L1798.7,871Z" fill="#e000de" stroke="#e000de"/><path d="M1962.8,702.4L1984.5,674.4L1980.8,674.8L1798.7,871L1806.3,869.7Z" fill="#e600ba" stroke="#e600ba"/><path d="M1925.5,750.6L1962.8,702.4L1806.3,869.7L1814.5,868.5Z" fill="#e70091" stroke="#e70091"/><path d="M1883.2,805.2L1925.5,750.6L1814.5,868.5L1823.8,867.7Z" fill="#ec006a" stroke="#ec006a"/><path d="M1835,867.5L1883.2,805.2L1823.8,867.7L1835,867.5Z" fill="#f30042" stroke="#f30042"/></g><g clip-path="url(#cpf2)"><ellipse cx="1745" cy="884" rx="24" ry="9" transform="rotate(-46.5 1745 884)" fill="url(#bl13)"/><ellipse cx="1767.5" cy="858.5" rx="12" ry="7" transform="rotate(-46.5 1767.5 858.5)" fill="url(#bl14)"/><ellipse cx="1782" cy="845" rx="12" ry="7" transform="rotate(-46.5 1782 845)" fill="url(#bl15)"/><ellipse cx="1806" cy="826" rx="30" ry="9" transform="rotate(-46.5 1806 826)" fill="url(#bl12)"/><ellipse cx="1880" cy="750" rx="40" ry="8" transform="rotate(-46.5 1880 750)" fill="url(#bl16)"/></g>
<path d="M1482.5,752.6L1490.9,759L1499.4,766.4L1509.3,776L1519.3,786.4L1529.5,798.6L1539.9,812.3L1543.9,818.5L1552,832.3L1555.9,837.9L1559.6,841.8L1565.7,847.4L1570.5,851.5L1574,854.1L1577.5,856.2L1581,857.8L1584.9,852.8L1588.8,848.2L1592.2,844.9L1595.7,842L1599.2,839.7L1602.1,838.3L1607.2,836.4L1611.7,835.1L1617.7,834.1L1623.2,834.2L1633.4,836.1L1637.4,837.2L1641.1,838.5L1650.7,842.9L1657.2,846.6L1664.8,851.9L1673.6,858.9L1676.9,862.2L1680.2,866.1L1700.3,892L1705.8,898.5L1711.3,903.7L1716.8,908.4L1721.1,911.8L1725.5,914.6L1731.8,907.5L1737,902.2L1742.2,897.4L1747.4,893.1L1751.4,890.2L1756.8,886.8L1762.2,883.8L1769.1,880.7L1777.4,877.4L1784.4,874.9L1791.4,872.7L1798.6,871L1808.6,869.3L1817.3,868.2L1826.1,867.6L1835,867.5M1681.2,577.8L1692.5,586.4L1703.9,596.1L1717.8,608.9L1730.4,621.4L1736.8,628.5L1741.8,635.1L1745.6,641.7L1753.1,656.6L1755.6,660.6L1756.9,662.2L1760.6,665.8L1768.2,671.8L1778.2,681M1787.8,674.7L1794.3,668.3L1800,664L1802.9,662.4L1806.6,660.7L1813.8,658.5L1818.9,657.5L1823.3,656.9L1828.4,656.8L1833.5,656.9L1837.9,657.3L1847.8,660.5L1851.3,662.3L1855.7,665.3L1861,669.5L1865.3,673.4L1868.7,677.6L1876.3,688L1893.3,708.4L1905.9,724.3L1915.8,713.3L1925.8,703.5L1936.8,694.1L1945.8,687.6L1954.8,682.6L1959.8,680.3L1963.8,678.8L1968.7,677.3L1974.6,675.8L1979.6,675L1984.5,674.4M1490.8,745.3L1675.5,582.8M1841.4,859.2L1980.3,679.8" class="e"/>
<g stroke="#5c5c5c" stroke-width="1" fill="none"><path d="M1469.2,740.1L1839.7,868.8" stroke-dasharray="3 1.5"/><path d="M1839.7,868.8L1996.2,653.7"/><path d="M1832.2,998.2L1839.7,868.8" stroke-dasharray="9 3"/></g>
<g font-family="Liberation Sans,sans-serif" font-weight="bold" font-size="24.7" stroke="#000" stroke-width="0.25"><text transform="translate(1451.5,890.9) scale(0.876,1)" textLength="42.2" lengthAdjust="spacing">−10</text><text transform="translate(1540.7,921) scale(0.876,1)" textLength="28.5" lengthAdjust="spacing">−5</text><text transform="translate(1641.2,952.4) scale(0.876,1)" text-anchor="middle">0</text><text transform="translate(1726.4,984.8) scale(0.876,1)" text-anchor="middle">5</text><text transform="translate(1813,1021.6) scale(0.876,1)" text-anchor="middle">10</text><text transform="translate(1619.5,968.9) scale(0.876,1)" text-anchor="middle">z</text><text transform="translate(1848.2,1007.5) scale(0.876,1)" text-anchor="middle">0</text><text transform="translate(1901.4,924) scale(0.876,1)" text-anchor="middle">1</text><text transform="translate(1948.2,852.4) scale(0.876,1)" text-anchor="middle">2</text><text transform="translate(1989.6,789.1) scale(0.876,1)" text-anchor="middle">3</text><text transform="translate(1948.6,897.4) scale(0.876,1)" text-anchor="middle">t</text><text transform="translate(1465.9,759.2) scale(0.876,1)" text-anchor="end">0.3</text><text transform="translate(1471.6,795.2) scale(0.876,1)" text-anchor="end">0.2</text><text transform="translate(1475.2,829.6) scale(0.876,1)" text-anchor="end">0.1</text><text transform="translate(1481.5,861) scale(0.876,1)" text-anchor="end">0.0</text><text transform="translate(1351.3,797.6) scale(0.876,1)" textLength="97.6" lengthAdjust="spacing" xml:space="preserve" font-weight="normal" stroke-width="0.1">| <tspan font-style="italic">ψ</tspan> ( <tspan font-weight="bold" stroke-width="0.25">z,t</tspan>) |</text></g>
<g font-family="Liberation Serif,serif" font-size="45" fill="#000"><text x="299" y="505" textLength="47.5" lengthAdjust="spacingAndGlyphs">(a)</text><text x="369.2" y="505" textLength="189" lengthAdjust="spacingAndGlyphs">2D-Graph</text><text x="973.6" y="505" textLength="50.5" lengthAdjust="spacingAndGlyphs">(b)</text><text x="1046.2" y="505" textLength="188.8" lengthAdjust="spacingAndGlyphs">2D-Graph</text><text x="1491" y="505" textLength="46.1" lengthAdjust="spacingAndGlyphs">(c)</text><text x="1560.2" y="505" textLength="152.3" lengthAdjust="spacingAndGlyphs">Contour</text><text x="1730.5" y="505" textLength="118.3" lengthAdjust="spacingAndGlyphs">Graph</text><text x="52.5" y="1098.7" textLength="51.1" lengthAdjust="spacingAndGlyphs">(d)</text><text x="125.6" y="1098.7" textLength="188.4" lengthAdjust="spacingAndGlyphs">3D-Graph</text><text x="332.1" y="1098.7" textLength="96.2" lengthAdjust="spacingAndGlyphs">when</text><text x="486.3" y="1098.7" textLength="30" lengthAdjust="spacingAndGlyphs">=</text><text x="531.4" y="1098.7" textLength="52.2" lengthAdjust="spacingAndGlyphs">0.5</text><text x="730.1" y="1098.7" textLength="47.4" lengthAdjust="spacingAndGlyphs">(e)</text><text x="799.2" y="1098.7" textLength="188.4" lengthAdjust="spacingAndGlyphs">3D-Graph</text><text x="1006" y="1098.7" textLength="96.2" lengthAdjust="spacingAndGlyphs">when</text><text x="1159.9" y="1098.7" textLength="30" lengthAdjust="spacingAndGlyphs">=</text><text x="1205" y="1098.7" textLength="52.6" lengthAdjust="spacingAndGlyphs">0.8</text><text x="1424.5" y="1098.7" textLength="44.8" lengthAdjust="spacingAndGlyphs">(f)</text><text x="1489.7" y="1098.7" textLength="188.5" lengthAdjust="spacingAndGlyphs">3D-Graph</text><text x="1697.1" y="1098.7" textLength="96.2" lengthAdjust="spacingAndGlyphs">when</text><text x="1851" y="1098.7" textLength="30" lengthAdjust="spacingAndGlyphs">=</text><text x="1906" y="1098.7" text-anchor="middle">1</text><text x="445.7" y="1098.7" font-style="italic" textLength="25.5" lengthAdjust="spacingAndGlyphs">α</text><text x="1119.3" y="1098.7" font-style="italic" textLength="25.5" lengthAdjust="spacingAndGlyphs">α</text><text x="1810.4" y="1098.7" font-style="italic" textLength="25.6" lengthAdjust="spacingAndGlyphs">α</text></g>
</svg>
</body></html>
